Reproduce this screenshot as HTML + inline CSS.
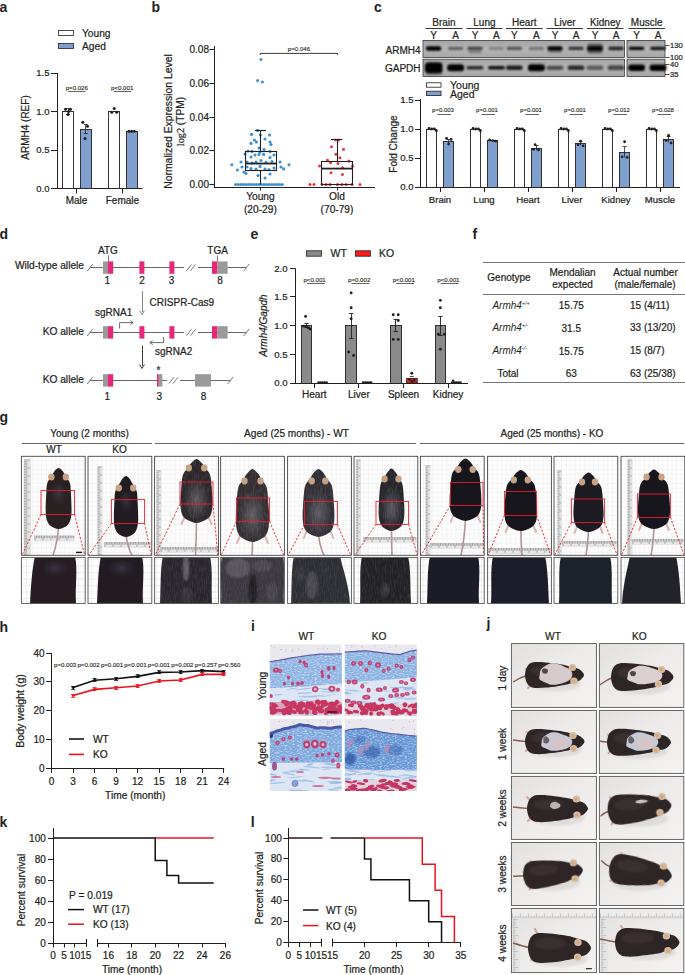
<!DOCTYPE html>
<html><head><meta charset="utf-8"><style>
html,body{margin:0;padding:0;background:#fff;}
svg{display:block;font-family:"Liberation Sans",sans-serif;}
</style></head><body>
<svg width="685" height="975" viewBox="0 0 685 975" fill="#231f20">
<defs>
<filter id="bl" x="-50%" y="-100%" width="200%" height="300%"><feGaussianBlur stdDeviation="0.9"/></filter>
<linearGradient id="blotg" x1="0" y1="0" x2="0" y2="1"><stop offset="0" stop-color="#a4a4a4"/><stop offset="0.5" stop-color="#b6b6b6"/><stop offset="1" stop-color="#a6a6a6"/></linearGradient>
<pattern id="grid" width="4.6" height="4.6" patternUnits="userSpaceOnUse"><rect width="4.6" height="4.6" fill="#fdfdfd"/><path d="M0 0.2H4.6M0.2 0V4.6" stroke="#e0e0e0" stroke-width="0.4"/></pattern>
<pattern id="grid2" width="6.5" height="6.5" patternUnits="userSpaceOnUse"><rect width="6.5" height="6.5" fill="#fdfdfd"/><path d="M0 0.2H6.5M0.2 0V6.5" stroke="#d6d6d6" stroke-width="0.5"/></pattern>
<pattern id="ruler" width="2" height="2" patternUnits="userSpaceOnUse"><rect width="2" height="2" fill="#e4e4e4"/><path d="M0 1H1.2" stroke="#9a9a9a" stroke-width="0.5"/></pattern>
<pattern id="rulerh" width="2" height="2" patternUnits="userSpaceOnUse"><rect width="2" height="2" fill="#e4e4e4"/><path d="M1 0V1.2" stroke="#9a9a9a" stroke-width="0.5"/></pattern>
<filter id="fb" x="-20%" y="-20%" width="140%" height="140%"><feGaussianBlur stdDeviation="0.5"/></filter>
<filter id="fuzz" x="-10%" y="-10%" width="120%" height="120%"><feTurbulence type="fractalNoise" baseFrequency="1.1" numOctaves="1" seed="4" result="n"/><feDisplacementMap in="SourceGraphic" in2="n" scale="1.4" xChannelSelector="R" yChannelSelector="G"/><feGaussianBlur stdDeviation="0.35"/></filter>
<filter id="fb2" x="-20%" y="-20%" width="140%" height="140%"><feGaussianBlur stdDeviation="1.2"/></filter>
<filter id="fur" x="0" y="0" width="100%" height="100%"><feTurbulence type="fractalNoise" baseFrequency="0.9 0.15" numOctaves="2" seed="3"/><feColorMatrix values="0 0 0 0 0.62  0 0 0 0 0.6  0 0 0 0 0.66  0 0 0 1.6 -0.65"/><feGaussianBlur stdDeviation="0.6"/><feComposite in2="SourceGraphic" operator="in"/></filter>
<radialGradient id="mfl" cx="0.5" cy="0.55" r="0.5"><stop offset="0" stop-color="#8a8690" stop-opacity="0.55"/><stop offset="0.6" stop-color="#6a6870" stop-opacity="0.3"/><stop offset="1" stop-color="#55545a" stop-opacity="0"/></radialGradient><radialGradient id="mfl2" cx="0.5" cy="0.4" r="0.5"><stop offset="0" stop-color="#4a5068" stop-opacity="0.45"/><stop offset="1" stop-color="#3a3f55" stop-opacity="0"/></radialGradient><clipPath id="gc0"><rect x="21.4" y="456.3" width="63.8" height="99"/></clipPath><clipPath id="gc1"><rect x="88" y="456.3" width="63.8" height="99"/></clipPath><clipPath id="gc2"><rect x="154.6" y="456.3" width="63.8" height="99"/></clipPath><clipPath id="gc3"><rect x="220.6" y="456.3" width="63.8" height="99"/></clipPath><clipPath id="gc4"><rect x="287.6" y="456.3" width="63.8" height="99"/></clipPath><clipPath id="gc5"><rect x="354" y="456.3" width="63.8" height="99"/></clipPath><clipPath id="gc6"><rect x="420.4" y="456.3" width="63.8" height="99"/></clipPath><clipPath id="gc7"><rect x="487.6" y="456.3" width="63.8" height="99"/></clipPath><clipPath id="gc8"><rect x="554" y="456.3" width="63.8" height="99"/></clipPath><clipPath id="gc9"><rect x="621" y="456.3" width="63.8" height="99"/></clipPath><clipPath id="gcc0"><rect x="21.4" y="557.4" width="63.8" height="46"/></clipPath><clipPath id="gcc1"><rect x="88" y="557.4" width="63.8" height="46"/></clipPath><clipPath id="gcc2"><rect x="154.6" y="557.4" width="63.8" height="46"/></clipPath><clipPath id="gcc3"><rect x="220.6" y="557.4" width="63.8" height="46"/></clipPath><clipPath id="gcc4"><rect x="287.6" y="557.4" width="63.8" height="46"/></clipPath><clipPath id="gcc5"><rect x="354" y="557.4" width="63.8" height="46"/></clipPath><clipPath id="gcc6"><rect x="420.4" y="557.4" width="63.8" height="46"/></clipPath><clipPath id="gcc7"><rect x="487.6" y="557.4" width="63.8" height="46"/></clipPath><clipPath id="gcc8"><rect x="554" y="557.4" width="63.8" height="46"/></clipPath><clipPath id="gcc9"><rect x="621" y="557.4" width="63.8" height="46"/></clipPath><filter id="tex" x="0" y="0" width="100%" height="100%"><feTurbulence type="fractalNoise" baseFrequency="0.4 0.9" numOctaves="2" seed="5"/><feColorMatrix values="0 0 0 0 1  0 0 0 0 1  0 0 0 0 1  0 0 0 2 -0.85"/><feComposite in2="SourceGraphic" operator="in"/></filter>
<filter id="tex2" x="0" y="0" width="100%" height="100%"><feTurbulence type="fractalNoise" baseFrequency="0.35 0.9" numOctaves="2" seed="9"/><feColorMatrix values="0 0 0 0 0.15  0 0 0 0 0.3  0 0 0 0 0.65  0 0 0 1.5 -0.55"/><feComposite in2="SourceGraphic" operator="in"/></filter>
<filter id="tex3" x="0" y="0" width="100%" height="100%"><feTurbulence type="fractalNoise" baseFrequency="0.5 0.9" numOctaves="2" seed="11"/><feColorMatrix values="0 0 0 0 1  0 0 0 0 1  0 0 0 0 1  0 0 0 2.2 -1.15"/><feComposite in2="SourceGraphic" operator="in"/></filter>
<filter id="hb" x="-10%" y="-10%" width="120%" height="120%"><feGaussianBlur stdDeviation="0.35"/></filter>
<linearGradient id="jbg" x1="0" y1="0" x2="1" y2="1"><stop offset="0" stop-color="#e3e1df"/><stop offset="0.45" stop-color="#ecebe9"/><stop offset="1" stop-color="#f4f3f2"/></linearGradient>
<clipPath id="hc1"><rect x="269.8" y="644.2" width="72" height="72"/></clipPath><clipPath id="hc2"><rect x="344.8" y="644.2" width="72" height="72"/></clipPath><clipPath id="hc3"><rect x="269.8" y="719" width="72" height="72"/></clipPath><clipPath id="hc4"><rect x="344.8" y="719" width="72" height="72"/></clipPath><clipPath id="jc511_643"><rect x="511.4" y="643.6" width="85" height="63.8"/></clipPath><clipPath id="jc599_643"><rect x="599.4" y="643.6" width="84.4" height="63.8"/></clipPath><clipPath id="jc511_710"><rect x="511.4" y="710.4" width="85" height="63"/></clipPath><clipPath id="jc599_710"><rect x="599.4" y="710.4" width="84.4" height="63"/></clipPath><clipPath id="jc511_776"><rect x="511.4" y="776.4" width="85" height="63"/></clipPath><clipPath id="jc599_776"><rect x="599.4" y="776.4" width="84.4" height="63"/></clipPath><clipPath id="jc511_842"><rect x="511.4" y="842.5" width="85" height="63"/></clipPath><clipPath id="jc599_842"><rect x="599.4" y="842.5" width="84.4" height="63"/></clipPath><clipPath id="jc511_908"><rect x="511.4" y="908.4" width="85" height="64.2"/></clipPath><clipPath id="jc599_908"><rect x="599.4" y="908.4" width="84.4" height="64.2"/></clipPath>
</defs>
<text x="-0.5" y="12" font-size="14" font-weight="bold">a</text>
<rect x="58.5" y="30.5" width="15" height="5" fill="#fff" stroke="#231f20" stroke-width="0.8" />
<text x="82" y="37" font-size="10.2" stroke="#231f20" stroke-width="0.22">Young</text>
<rect x="58.5" y="43.5" width="15" height="5" fill="#7f9fcf" stroke="#231f20" stroke-width="0.8" />
<text x="82" y="49.8" font-size="10.2" stroke="#231f20" stroke-width="0.22">Aged</text>
<line x1="57.5" y1="73" x2="57.5" y2="189" stroke="#231f20" stroke-width="1" />
<line x1="56.5" y1="188.5" x2="142.6" y2="188.5" stroke="#231f20" stroke-width="1" />
<line x1="51" y1="188.5" x2="57" y2="188.5" stroke="#231f20" stroke-width="1" />
<text x="49.5" y="191.8" font-size="9.5" text-anchor="end" stroke="#231f20" stroke-width="0.22">0.0</text>
<line x1="51" y1="150.5" x2="57" y2="150.5" stroke="#231f20" stroke-width="1" />
<text x="49.5" y="153.3" font-size="9.5" text-anchor="end" stroke="#231f20" stroke-width="0.22">0.5</text>
<line x1="51" y1="111.5" x2="57" y2="111.5" stroke="#231f20" stroke-width="1" />
<text x="49.5" y="114.8" font-size="9.5" text-anchor="end" stroke="#231f20" stroke-width="0.22">1.0</text>
<line x1="51" y1="73.5" x2="57" y2="73.5" stroke="#231f20" stroke-width="1" />
<text x="49.5" y="76.3" font-size="9.5" text-anchor="end" stroke="#231f20" stroke-width="0.22">1.5</text>
<line x1="76.5" y1="188.5" x2="76.5" y2="193.5" stroke="#231f20" stroke-width="1" />
<text x="76.5" y="204.3" font-size="10" text-anchor="middle" stroke="#231f20" stroke-width="0.22">Male</text>
<line x1="122.5" y1="188.5" x2="122.5" y2="193.5" stroke="#231f20" stroke-width="1" />
<text x="122.4" y="204.3" font-size="10" text-anchor="middle" stroke="#231f20" stroke-width="0.22">Female</text>
<rect x="62.5" y="111.5" width="11" height="77" fill="#fff" stroke="#231f20" stroke-width="0.9" />
<rect x="80.5" y="129.5" width="11" height="59" fill="#7f9fcf" stroke="#231f20" stroke-width="0.9" />
<rect x="108.5" y="111.5" width="11" height="77" fill="#fff" stroke="#231f20" stroke-width="0.9" />
<rect x="126.5" y="131.5" width="11" height="57" fill="#7f9fcf" stroke="#231f20" stroke-width="0.9" />
<line x1="68.5" y1="108.42" x2="68.5" y2="114.58" stroke="#231f20" stroke-width="0.8" />
<line x1="66" y1="108.5" x2="70" y2="108.5" stroke="#231f20" stroke-width="0.8" />
<line x1="66" y1="114.5" x2="70" y2="114.5" stroke="#231f20" stroke-width="0.8" />
<circle cx="65.5" cy="109.19" r="1.5" fill="#231f20" />
<circle cx="70.5" cy="109.19" r="1.5" fill="#231f20" />
<circle cx="68" cy="114.58" r="1.5" fill="#231f20" />
<circle cx="68.5" cy="111.5" r="1.5" fill="#231f20" />
<line x1="85.5" y1="124.59" x2="85.5" y2="133.83" stroke="#231f20" stroke-width="0.8" />
<line x1="83.8" y1="124.5" x2="87.8" y2="124.5" stroke="#231f20" stroke-width="0.8" />
<line x1="83.8" y1="133.5" x2="87.8" y2="133.5" stroke="#231f20" stroke-width="0.8" />
<circle cx="82.8" cy="122.28" r="1.5" fill="#231f20" />
<circle cx="87.5" cy="126.13" r="1.5" fill="#231f20" />
<circle cx="85" cy="138.45" r="1.5" fill="#231f20" />
<circle cx="111.7" cy="112.27" r="1.5" fill="#231f20" />
<circle cx="114.2" cy="108.42" r="1.5" fill="#231f20" />
<circle cx="116.7" cy="112.27" r="1.5" fill="#231f20" />
<circle cx="128.9" cy="131.13" r="1.5" fill="#231f20" />
<circle cx="131.6" cy="131.13" r="1.5" fill="#231f20" />
<circle cx="134.3" cy="131.13" r="1.5" fill="#231f20" />
<text x="76.8" y="89.9" font-size="6.1" text-anchor="middle" stroke="#231f20" stroke-width="0.12">p=0.026</text>
<line x1="68" y1="91.5" x2="85.4" y2="91.5" stroke="#231f20" stroke-width="0.7" />
<text x="122.2" y="89.9" font-size="6.1" text-anchor="middle" stroke="#231f20" stroke-width="0.12">p&lt;0.001</text>
<line x1="113.5" y1="91.5" x2="131" y2="91.5" stroke="#231f20" stroke-width="0.7" />
<text x="28.5" y="127.5" font-size="10" text-anchor="middle" transform="rotate(-90 28.5 127.5)" stroke="#231f20" stroke-width="0.22">ARMH4 (REF)</text>
<text x="151.5" y="12" font-size="14" font-weight="bold">b</text>
<line x1="214.5" y1="46" x2="214.5" y2="187.5" stroke="#231f20" stroke-width="1" />
<line x1="213.9" y1="187.5" x2="375" y2="187.5" stroke="#231f20" stroke-width="1" />
<line x1="209.4" y1="184.5" x2="214.4" y2="184.5" stroke="#231f20" stroke-width="1" />
<text x="209" y="188.1" font-size="10" text-anchor="end" stroke="#231f20" stroke-width="0.22">0.00</text>
<line x1="209.4" y1="150.5" x2="214.4" y2="150.5" stroke="#231f20" stroke-width="1" />
<text x="209" y="154.4" font-size="10" text-anchor="end" stroke="#231f20" stroke-width="0.22">0.02</text>
<line x1="209.4" y1="117.5" x2="214.4" y2="117.5" stroke="#231f20" stroke-width="1" />
<text x="209" y="120.7" font-size="10" text-anchor="end" stroke="#231f20" stroke-width="0.22">0.04</text>
<line x1="209.4" y1="83.5" x2="214.4" y2="83.5" stroke="#231f20" stroke-width="1" />
<text x="209" y="87" font-size="10" text-anchor="end" stroke="#231f20" stroke-width="0.22">0.06</text>
<line x1="209.4" y1="49.5" x2="214.4" y2="49.5" stroke="#231f20" stroke-width="1" />
<text x="209" y="53.3" font-size="10" text-anchor="end" stroke="#231f20" stroke-width="0.22">0.08</text>
<text x="171.5" y="121.5" font-size="10.4" text-anchor="middle" transform="rotate(-90 171.5 121.5)" stroke="#231f20" stroke-width="0.22">Normalized Expression Level</text>
<text x="184" y="121.5" font-size="10.2" text-anchor="middle" transform="rotate(-90 184 121.5)" stroke="#231f20" stroke-width="0.22"><tspan font-family="Liberation Serif">log2</tspan> (TPM)</text>
<line x1="260.5" y1="187" x2="260.5" y2="190.5" stroke="#231f20" stroke-width="1" />
<text x="260.4" y="200.3" font-size="10.2" text-anchor="middle" stroke="#231f20" stroke-width="0.22">Young</text>
<text x="260.4" y="212.5" font-size="10.2" text-anchor="middle" stroke="#231f20" stroke-width="0.22">(20-29)</text>
<line x1="337.5" y1="187" x2="337.5" y2="190.5" stroke="#231f20" stroke-width="1" />
<text x="337" y="200.3" font-size="10.2" text-anchor="middle" stroke="#231f20" stroke-width="0.22">Old</text>
<text x="337" y="212.5" font-size="10.2" text-anchor="middle" stroke="#231f20" stroke-width="0.22">(70-79)</text>
<path d="M260.2 55 L260.2 53.4 L337.4 53.4 L337.4 55" fill="none" stroke="#231f20" stroke-width="0.9" />
<text x="299" y="50.6" font-size="6.15" text-anchor="middle" stroke="#231f20" stroke-width="0.12">p=0.046</text>
<circle cx="235.5" cy="184.6" r="1.5" fill="#3a8fd0" />
<circle cx="238.1" cy="184.6" r="1.5" fill="#3a8fd0" />
<circle cx="240.7" cy="184.6" r="1.5" fill="#3a8fd0" />
<circle cx="243.3" cy="184.6" r="1.5" fill="#3a8fd0" />
<circle cx="245.9" cy="184.6" r="1.5" fill="#3a8fd0" />
<circle cx="248.5" cy="184.6" r="1.5" fill="#3a8fd0" />
<circle cx="251.1" cy="184.6" r="1.5" fill="#3a8fd0" />
<circle cx="253.7" cy="184.6" r="1.5" fill="#3a8fd0" />
<circle cx="256.3" cy="184.6" r="1.5" fill="#3a8fd0" />
<circle cx="258.9" cy="184.6" r="1.5" fill="#3a8fd0" />
<circle cx="261.5" cy="184.6" r="1.5" fill="#3a8fd0" />
<circle cx="264.1" cy="184.6" r="1.5" fill="#3a8fd0" />
<circle cx="266.7" cy="184.6" r="1.5" fill="#3a8fd0" />
<circle cx="269.3" cy="184.6" r="1.5" fill="#3a8fd0" />
<circle cx="271.9" cy="184.6" r="1.5" fill="#3a8fd0" />
<circle cx="274.5" cy="184.6" r="1.5" fill="#3a8fd0" />
<circle cx="277.1" cy="184.6" r="1.5" fill="#3a8fd0" />
<circle cx="279.7" cy="184.6" r="1.5" fill="#3a8fd0" />
<circle cx="282.3" cy="184.6" r="1.5" fill="#3a8fd0" />
<circle cx="251.6" cy="134.4" r="1.55" fill="#3a8fd0" />
<circle cx="257.6" cy="130.4" r="1.55" fill="#3a8fd0" />
<circle cx="260.4" cy="135" r="1.55" fill="#3a8fd0" />
<circle cx="269.6" cy="135" r="1.55" fill="#3a8fd0" />
<circle cx="251" cy="143.4" r="1.55" fill="#3a8fd0" />
<circle cx="254.4" cy="140" r="1.55" fill="#3a8fd0" />
<circle cx="256.4" cy="142" r="1.55" fill="#3a8fd0" />
<circle cx="265" cy="139" r="1.55" fill="#3a8fd0" />
<circle cx="270" cy="142" r="1.55" fill="#3a8fd0" />
<circle cx="271" cy="144.5" r="1.55" fill="#3a8fd0" />
<circle cx="259" cy="148" r="1.55" fill="#3a8fd0" />
<circle cx="264" cy="149.4" r="1.55" fill="#3a8fd0" />
<circle cx="248" cy="151" r="1.55" fill="#3a8fd0" />
<circle cx="252" cy="151.4" r="1.55" fill="#3a8fd0" />
<circle cx="260" cy="152" r="1.55" fill="#3a8fd0" />
<circle cx="270" cy="151.6" r="1.55" fill="#3a8fd0" />
<circle cx="245" cy="154" r="1.55" fill="#3a8fd0" />
<circle cx="251" cy="157" r="1.55" fill="#3a8fd0" />
<circle cx="255" cy="155" r="1.55" fill="#3a8fd0" />
<circle cx="259" cy="154.4" r="1.55" fill="#3a8fd0" />
<circle cx="263.6" cy="154.4" r="1.55" fill="#3a8fd0" />
<circle cx="270" cy="157.6" r="1.55" fill="#3a8fd0" />
<circle cx="274" cy="155" r="1.55" fill="#3a8fd0" />
<circle cx="241" cy="162" r="1.55" fill="#3a8fd0" />
<circle cx="247" cy="162" r="1.55" fill="#3a8fd0" />
<circle cx="252" cy="163" r="1.55" fill="#3a8fd0" />
<circle cx="256" cy="162" r="1.55" fill="#3a8fd0" />
<circle cx="261" cy="160.5" r="1.55" fill="#3a8fd0" />
<circle cx="266" cy="162.4" r="1.55" fill="#3a8fd0" />
<circle cx="272" cy="161.6" r="1.55" fill="#3a8fd0" />
<circle cx="280" cy="162" r="1.55" fill="#3a8fd0" />
<circle cx="242" cy="167" r="1.55" fill="#3a8fd0" />
<circle cx="247" cy="167" r="1.55" fill="#3a8fd0" />
<circle cx="251" cy="168.6" r="1.55" fill="#3a8fd0" />
<circle cx="256" cy="169" r="1.55" fill="#3a8fd0" />
<circle cx="260" cy="166.4" r="1.55" fill="#3a8fd0" />
<circle cx="265" cy="169" r="1.55" fill="#3a8fd0" />
<circle cx="269" cy="169.6" r="1.55" fill="#3a8fd0" />
<circle cx="274" cy="168" r="1.55" fill="#3a8fd0" />
<circle cx="281" cy="167" r="1.55" fill="#3a8fd0" />
<circle cx="283.7" cy="168.9" r="1.55" fill="#3a8fd0" />
<circle cx="289" cy="164.7" r="1.55" fill="#3a8fd0" />
<circle cx="231.8" cy="164.7" r="1.55" fill="#3a8fd0" />
<circle cx="237.4" cy="170" r="1.55" fill="#3a8fd0" />
<circle cx="244" cy="172" r="1.55" fill="#3a8fd0" />
<circle cx="246" cy="173.5" r="1.55" fill="#3a8fd0" />
<circle cx="265" cy="178" r="1.55" fill="#3a8fd0" />
<circle cx="258" cy="175.5" r="1.55" fill="#3a8fd0" />
<circle cx="270" cy="174" r="1.55" fill="#3a8fd0" />
<circle cx="261" cy="59.4" r="1.5" fill="#3a8fd0" />
<circle cx="257.6" cy="80.6" r="1.5" fill="#3a8fd0" />
<circle cx="262.4" cy="82" r="1.5" fill="#3a8fd0" />
<rect x="245.5" y="151.5" width="31" height="19" fill="none" stroke="#231f20" stroke-width="1.1" />
<line x1="245" y1="163.54" x2="276" y2="163.54" stroke="#231f20" stroke-width="1.8" />
<line x1="260.5" y1="170.95" x2="260.5" y2="184.6" stroke="#231f20" stroke-width="1.1" />
<line x1="260.5" y1="151.07" x2="260.5" y2="130.68" stroke="#231f20" stroke-width="1.1" />
<line x1="255" y1="130.5" x2="266" y2="130.5" stroke="#231f20" stroke-width="1.1" />
<circle cx="310" cy="184.6" r="1.5" fill="#e8383d" />
<circle cx="314" cy="184.6" r="1.5" fill="#e8383d" />
<circle cx="322" cy="184.6" r="1.5" fill="#e8383d" />
<circle cx="326" cy="184.6" r="1.5" fill="#e8383d" />
<circle cx="330" cy="184.6" r="1.5" fill="#e8383d" />
<circle cx="337.5" cy="184.6" r="1.5" fill="#e8383d" />
<circle cx="342" cy="184.6" r="1.5" fill="#e8383d" />
<circle cx="346" cy="184.6" r="1.5" fill="#e8383d" />
<circle cx="352" cy="184.6" r="1.5" fill="#e8383d" />
<circle cx="360" cy="184.6" r="1.5" fill="#e8383d" />
<circle cx="335.5" cy="139.95" r="1.5" fill="#e8383d" />
<circle cx="338.5" cy="139.95" r="1.5" fill="#e8383d" />
<circle cx="331.5" cy="146.69" r="1.5" fill="#e8383d" />
<circle cx="343.5" cy="149.21" r="1.5" fill="#e8383d" />
<circle cx="336" cy="154.27" r="1.5" fill="#e8383d" />
<circle cx="340" cy="157.64" r="1.5" fill="#e8383d" />
<circle cx="327.5" cy="160.17" r="1.5" fill="#e8383d" />
<circle cx="330.5" cy="162.69" r="1.5" fill="#e8383d" />
<circle cx="338" cy="163.54" r="1.5" fill="#e8383d" />
<circle cx="349" cy="161.01" r="1.5" fill="#e8383d" />
<circle cx="319.5" cy="166.06" r="1.5" fill="#e8383d" />
<circle cx="352.5" cy="166.06" r="1.5" fill="#e8383d" />
<circle cx="342.5" cy="167.75" r="1.5" fill="#e8383d" />
<circle cx="331" cy="172.81" r="1.5" fill="#e8383d" />
<circle cx="342.5" cy="174.49" r="1.5" fill="#e8383d" />
<rect x="321.5" y="161.5" width="31" height="23" fill="none" stroke="#231f20" stroke-width="1.1" />
<line x1="321.4" y1="168.59" x2="352.6" y2="168.59" stroke="#231f20" stroke-width="1.8" />
<line x1="337.5" y1="161.35" x2="337.5" y2="139.95" stroke="#231f20" stroke-width="1.1" />
<line x1="331" y1="139.5" x2="342.4" y2="139.5" stroke="#231f20" stroke-width="1.1" />
<text x="374" y="12" font-size="14" font-weight="bold">c</text>
<text x="444" y="25.8" font-size="10" text-anchor="middle" stroke="#231f20" stroke-width="0.22">Brain</text>
<line x1="425.6" y1="28.5" x2="462.4" y2="28.5" stroke="#231f20" stroke-width="0.9" />
<text x="484.4" y="25.8" font-size="10" text-anchor="middle" stroke="#231f20" stroke-width="0.22">Lung</text>
<line x1="466.4" y1="28.5" x2="502.4" y2="28.5" stroke="#231f20" stroke-width="0.9" />
<text x="524.3" y="25.8" font-size="10" text-anchor="middle" stroke="#231f20" stroke-width="0.22">Heart</text>
<line x1="506" y1="28.5" x2="542.6" y2="28.5" stroke="#231f20" stroke-width="0.9" />
<text x="564.8" y="25.8" font-size="10" text-anchor="middle" stroke="#231f20" stroke-width="0.22">Liver</text>
<line x1="546.6" y1="28.5" x2="583" y2="28.5" stroke="#231f20" stroke-width="0.9" />
<text x="605.2" y="25.8" font-size="10" text-anchor="middle" stroke="#231f20" stroke-width="0.22">Kidney</text>
<line x1="587" y1="28.5" x2="623.4" y2="28.5" stroke="#231f20" stroke-width="0.9" />
<text x="646.7" y="25.8" font-size="10" text-anchor="middle" stroke="#231f20" stroke-width="0.22">Muscle</text>
<line x1="628.4" y1="28.5" x2="665" y2="28.5" stroke="#231f20" stroke-width="0.9" />
<text x="433.6" y="39.3" font-size="10" text-anchor="middle" stroke="#231f20" stroke-width="0.22">Y</text>
<text x="455.6" y="39.3" font-size="10" text-anchor="middle" stroke="#231f20" stroke-width="0.22">A</text>
<text x="475" y="39.3" font-size="10" text-anchor="middle" stroke="#231f20" stroke-width="0.22">Y</text>
<text x="496.4" y="39.3" font-size="10" text-anchor="middle" stroke="#231f20" stroke-width="0.22">A</text>
<text x="514.4" y="39.3" font-size="10" text-anchor="middle" stroke="#231f20" stroke-width="0.22">Y</text>
<text x="536.4" y="39.3" font-size="10" text-anchor="middle" stroke="#231f20" stroke-width="0.22">A</text>
<text x="555" y="39.3" font-size="10" text-anchor="middle" stroke="#231f20" stroke-width="0.22">Y</text>
<text x="576" y="39.3" font-size="10" text-anchor="middle" stroke="#231f20" stroke-width="0.22">A</text>
<text x="595" y="39.3" font-size="10" text-anchor="middle" stroke="#231f20" stroke-width="0.22">Y</text>
<text x="616" y="39.3" font-size="10" text-anchor="middle" stroke="#231f20" stroke-width="0.22">A</text>
<text x="636.6" y="39.3" font-size="10" text-anchor="middle" stroke="#231f20" stroke-width="0.22">Y</text>
<text x="658" y="39.3" font-size="10" text-anchor="middle" stroke="#231f20" stroke-width="0.22">A</text>
<text x="420.5" y="53.6" font-size="10" text-anchor="end" stroke="#231f20" stroke-width="0.22">ARMH4</text>
<text x="420.5" y="71.8" font-size="10" text-anchor="end" stroke="#231f20" stroke-width="0.22">GAPDH</text>
<rect x="423" y="40.5" width="201.4" height="17" fill="url(#blotg)" stroke="#3a3a3a" stroke-width="0.8" />
<rect x="423" y="59.2" width="201.4" height="17.2" fill="url(#blotg)" stroke="#3a3a3a" stroke-width="0.8" />
<rect x="627" y="40.5" width="38" height="17" fill="url(#blotg)" stroke="#3a3a3a" stroke-width="0.8" />
<rect x="627" y="59.2" width="38" height="17.2" fill="url(#blotg)" stroke="#3a3a3a" stroke-width="0.8" />
<rect x="425.85" y="46.15" width="15.5" height="4.5" rx="2.25" fill="#000" fill-opacity="1" filter="url(#bl)"/>
<rect x="447.85" y="46.9" width="15.5" height="3" rx="1.5" fill="#000" fill-opacity="0.5" filter="url(#bl)"/>
<rect x="467.25" y="46.7" width="15.5" height="3.4" rx="1.7" fill="#000" fill-opacity="0.65" filter="url(#bl)"/>
<rect x="488.65" y="47.1" width="15.5" height="2.6" rx="1.3" fill="#000" fill-opacity="0.3" filter="url(#bl)"/>
<rect x="506.65" y="46.7" width="15.5" height="3.4" rx="1.7" fill="#000" fill-opacity="0.55" filter="url(#bl)"/>
<rect x="528.65" y="46.9" width="15.5" height="3" rx="1.5" fill="#000" fill-opacity="0.38" filter="url(#bl)"/>
<rect x="547.25" y="46.15" width="15.5" height="4.5" rx="2.25" fill="#000" fill-opacity="1" filter="url(#bl)"/>
<rect x="568.25" y="46.7" width="15.5" height="3.4" rx="1.7" fill="#000" fill-opacity="0.75" filter="url(#bl)"/>
<rect x="587.25" y="46.15" width="15.5" height="4.5" rx="2.25" fill="#000" fill-opacity="1" filter="url(#bl)"/>
<rect x="608.25" y="46.6" width="15.5" height="3.6" rx="1.8" fill="#000" fill-opacity="0.8" filter="url(#bl)"/>
<rect x="628.85" y="46.8" width="15.5" height="3.2" rx="1.6" fill="#000" fill-opacity="1" filter="url(#bl)"/>
<rect x="650.25" y="46.8" width="15.5" height="3.2" rx="1.6" fill="#000" fill-opacity="0.92" filter="url(#bl)"/>
<rect x="587" y="43.5" width="16" height="10" rx="3" fill="#000" fill-opacity="0.45" filter="url(#bl)"/>
<rect x="468.5" y="50.55" width="13" height="2.5" rx="1.25" fill="#000" fill-opacity="0.35" filter="url(#bl)"/>
<rect x="548" y="50.5" width="14" height="2.2" rx="1.1" fill="#000" fill-opacity="0.3" filter="url(#bl)"/>
<rect x="425.1" y="62.8" width="17" height="10" rx="3" fill="#000" fill-opacity="1" filter="url(#bl)"/>
<rect x="447.1" y="64.3" width="17" height="7" rx="3" fill="#000" fill-opacity="1" filter="url(#bl)"/>
<rect x="466.5" y="66.1" width="17" height="3.4" rx="1.7" fill="#000" fill-opacity="0.8" filter="url(#bl)"/>
<rect x="487.9" y="66" width="17" height="3.6" rx="1.8" fill="#000" fill-opacity="0.95" filter="url(#bl)"/>
<rect x="505.9" y="65.5" width="17" height="4.6" rx="2.3" fill="#000" fill-opacity="0.85" filter="url(#bl)"/>
<rect x="527.9" y="64.3" width="17" height="7" rx="3" fill="#000" fill-opacity="1" filter="url(#bl)"/>
<rect x="546.5" y="65.7" width="17" height="4.2" rx="2.1" fill="#000" fill-opacity="0.6" filter="url(#bl)"/>
<rect x="567.5" y="65.5" width="17" height="4.6" rx="2.3" fill="#000" fill-opacity="0.8" filter="url(#bl)"/>
<rect x="586.5" y="65.5" width="17" height="4.6" rx="2.3" fill="#000" fill-opacity="0.5" filter="url(#bl)"/>
<rect x="607.5" y="65.3" width="17" height="5" rx="2.5" fill="#000" fill-opacity="0.6" filter="url(#bl)"/>
<rect x="628.1" y="64.55" width="17" height="6.5" rx="3" fill="#000" fill-opacity="1" filter="url(#bl)"/>
<rect x="649.5" y="64.55" width="17" height="6.5" rx="3" fill="#000" fill-opacity="1" filter="url(#bl)"/>
<rect x="425.5" y="62.5" width="17" height="12" rx="3" fill="#000" fill-opacity="0.5" filter="url(#bl)"/>
<line x1="665" y1="45.5" x2="669.5" y2="45.5" stroke="#231f20" stroke-width="0.8" />
<text x="670" y="48.3" font-size="7.6" stroke="#231f20" stroke-width="0.22">130</text>
<line x1="665" y1="57.5" x2="669.5" y2="57.5" stroke="#231f20" stroke-width="0.8" />
<text x="670" y="59.9" font-size="7.6" stroke="#231f20" stroke-width="0.22">100</text>
<line x1="665" y1="64.5" x2="669.5" y2="64.5" stroke="#231f20" stroke-width="0.8" />
<text x="670" y="66.7" font-size="7.6" stroke="#231f20" stroke-width="0.22">40</text>
<line x1="665" y1="74.5" x2="669.5" y2="74.5" stroke="#231f20" stroke-width="0.8" />
<text x="670" y="77.1" font-size="7.6" stroke="#231f20" stroke-width="0.22">35</text>
<rect x="426.5" y="82.8" width="14.5" height="4.4" fill="#fff" stroke="#231f20" stroke-width="0.8" />
<text x="450" y="88.6" font-size="10.5" stroke="#231f20" stroke-width="0.22">Young</text>
<rect x="426.5" y="91.2" width="14.5" height="4.4" fill="#7f9fcf" stroke="#231f20" stroke-width="0.8" />
<text x="450" y="98.3" font-size="10.5" stroke="#231f20" stroke-width="0.22">Aged</text>
<line x1="420.5" y1="99" x2="420.5" y2="187.5" stroke="#231f20" stroke-width="1" />
<line x1="419.5" y1="187.5" x2="680" y2="187.5" stroke="#231f20" stroke-width="1" />
<line x1="415" y1="187.5" x2="420" y2="187.5" stroke="#231f20" stroke-width="1" />
<text x="413.5" y="190.4" font-size="9.6" text-anchor="end" stroke="#231f20" stroke-width="0.22">0.0</text>
<line x1="415" y1="158.5" x2="420" y2="158.5" stroke="#231f20" stroke-width="1" />
<text x="413.5" y="161.4" font-size="9.6" text-anchor="end" stroke="#231f20" stroke-width="0.22">0.5</text>
<line x1="415" y1="129.5" x2="420" y2="129.5" stroke="#231f20" stroke-width="1" />
<text x="413.5" y="132.4" font-size="9.6" text-anchor="end" stroke="#231f20" stroke-width="0.22">1.0</text>
<line x1="415" y1="100.5" x2="420" y2="100.5" stroke="#231f20" stroke-width="1" />
<text x="413.5" y="103.4" font-size="9.6" text-anchor="end" stroke="#231f20" stroke-width="0.22">1.5</text>
<text x="397" y="144" font-size="10" text-anchor="middle" transform="rotate(-90 397 144)" stroke="#231f20" stroke-width="0.22">Fold Change</text>
<rect x="426.5" y="129.5" width="10" height="58" fill="#fff" stroke="#231f20" stroke-width="0.9" />
<rect x="443.5" y="141.5" width="10" height="46" fill="#7f9fcf" stroke="#231f20" stroke-width="0.9" />
<line x1="440.5" y1="187" x2="440.5" y2="192" stroke="#231f20" stroke-width="1" />
<text x="440" y="203" font-size="9.6" text-anchor="middle" stroke="#231f20" stroke-width="0.22">Brain</text>
<text x="443" y="112" font-size="6" text-anchor="middle" stroke="#231f20" stroke-width="0.12">p=0.003</text>
<line x1="437.3" y1="114.5" x2="451" y2="114.5" stroke="#231f20" stroke-width="0.7" />
<circle cx="429" cy="128.42" r="1.4" fill="#231f20" />
<circle cx="431.7" cy="129" r="1.4" fill="#231f20" />
<circle cx="434.4" cy="129" r="1.4" fill="#231f20" />
<circle cx="436.4" cy="130.74" r="1.4" fill="#231f20" />
<line x1="448.5" y1="139.44" x2="448.5" y2="142.92" stroke="#231f20" stroke-width="0.8" />
<line x1="446.6" y1="139.5" x2="450.6" y2="139.5" stroke="#231f20" stroke-width="0.8" />
<rect x="470.5" y="129.5" width="10" height="58" fill="#fff" stroke="#231f20" stroke-width="0.9" />
<rect x="487.5" y="140.5" width="10" height="47" fill="#7f9fcf" stroke="#231f20" stroke-width="0.9" />
<line x1="484.5" y1="187" x2="484.5" y2="192" stroke="#231f20" stroke-width="1" />
<text x="484" y="203" font-size="9.6" text-anchor="middle" stroke="#231f20" stroke-width="0.22">Lung</text>
<text x="487" y="112" font-size="6" text-anchor="middle" stroke="#231f20" stroke-width="0.12">p=0.001</text>
<line x1="481.3" y1="114.5" x2="495" y2="114.5" stroke="#231f20" stroke-width="0.7" />
<circle cx="473" cy="128.42" r="1.4" fill="#231f20" />
<circle cx="475.7" cy="129" r="1.4" fill="#231f20" />
<circle cx="478.4" cy="129" r="1.4" fill="#231f20" />
<circle cx="480.4" cy="130.74" r="1.4" fill="#231f20" />
<line x1="492.5" y1="140.02" x2="492.5" y2="141.18" stroke="#231f20" stroke-width="0.8" />
<line x1="490.6" y1="140.5" x2="494.6" y2="140.5" stroke="#231f20" stroke-width="0.8" />
<rect x="514.5" y="129.5" width="10" height="58" fill="#fff" stroke="#231f20" stroke-width="0.9" />
<rect x="531.5" y="148.5" width="10" height="39" fill="#7f9fcf" stroke="#231f20" stroke-width="0.9" />
<line x1="528.5" y1="187" x2="528.5" y2="192" stroke="#231f20" stroke-width="1" />
<text x="528" y="203" font-size="9.6" text-anchor="middle" stroke="#231f20" stroke-width="0.22">Heart</text>
<text x="531" y="112" font-size="6" text-anchor="middle" stroke="#231f20" stroke-width="0.12">p=0.001</text>
<line x1="525.3" y1="114.5" x2="539" y2="114.5" stroke="#231f20" stroke-width="0.7" />
<circle cx="517" cy="128.42" r="1.4" fill="#231f20" />
<circle cx="519.7" cy="129" r="1.4" fill="#231f20" />
<circle cx="522.4" cy="129" r="1.4" fill="#231f20" />
<circle cx="524.4" cy="130.74" r="1.4" fill="#231f20" />
<line x1="536.5" y1="145.82" x2="536.5" y2="150.46" stroke="#231f20" stroke-width="0.8" />
<line x1="534.6" y1="145.5" x2="538.6" y2="145.5" stroke="#231f20" stroke-width="0.8" />
<rect x="558.5" y="129.5" width="10" height="58" fill="#fff" stroke="#231f20" stroke-width="0.9" />
<rect x="575.5" y="143.5" width="10" height="44" fill="#7f9fcf" stroke="#231f20" stroke-width="0.9" />
<line x1="572.5" y1="187" x2="572.5" y2="192" stroke="#231f20" stroke-width="1" />
<text x="572" y="203" font-size="9.6" text-anchor="middle" stroke="#231f20" stroke-width="0.22">Liver</text>
<text x="575" y="112" font-size="6" text-anchor="middle" stroke="#231f20" stroke-width="0.12">p=0.001</text>
<line x1="569.3" y1="114.5" x2="583" y2="114.5" stroke="#231f20" stroke-width="0.7" />
<circle cx="561" cy="128.42" r="1.4" fill="#231f20" />
<circle cx="563.7" cy="129" r="1.4" fill="#231f20" />
<circle cx="566.4" cy="129" r="1.4" fill="#231f20" />
<circle cx="568.4" cy="130.74" r="1.4" fill="#231f20" />
<line x1="580.5" y1="141.76" x2="580.5" y2="145.24" stroke="#231f20" stroke-width="0.8" />
<line x1="578.6" y1="141.5" x2="582.6" y2="141.5" stroke="#231f20" stroke-width="0.8" />
<rect x="602.5" y="129.5" width="10" height="58" fill="#fff" stroke="#231f20" stroke-width="0.9" />
<rect x="619.5" y="152.5" width="10" height="35" fill="#7f9fcf" stroke="#231f20" stroke-width="0.9" />
<line x1="616.5" y1="187" x2="616.5" y2="192" stroke="#231f20" stroke-width="1" />
<text x="616" y="203" font-size="9.6" text-anchor="middle" stroke="#231f20" stroke-width="0.22">Kidney</text>
<text x="619" y="112" font-size="6" text-anchor="middle" stroke="#231f20" stroke-width="0.12">p=0.012</text>
<line x1="613.3" y1="114.5" x2="627" y2="114.5" stroke="#231f20" stroke-width="0.7" />
<circle cx="605" cy="128.42" r="1.4" fill="#231f20" />
<circle cx="607.7" cy="129" r="1.4" fill="#231f20" />
<circle cx="610.4" cy="129" r="1.4" fill="#231f20" />
<circle cx="612.4" cy="130.74" r="1.4" fill="#231f20" />
<line x1="624.5" y1="146.98" x2="624.5" y2="157.42" stroke="#231f20" stroke-width="0.8" />
<line x1="622.6" y1="146.5" x2="626.6" y2="146.5" stroke="#231f20" stroke-width="0.8" />
<rect x="646.5" y="129.5" width="10" height="58" fill="#fff" stroke="#231f20" stroke-width="0.9" />
<rect x="663.5" y="139.5" width="10" height="48" fill="#7f9fcf" stroke="#231f20" stroke-width="0.9" />
<line x1="660.5" y1="187" x2="660.5" y2="192" stroke="#231f20" stroke-width="1" />
<text x="660" y="203" font-size="9.6" text-anchor="middle" stroke="#231f20" stroke-width="0.22">Muscle</text>
<text x="663" y="112" font-size="6" text-anchor="middle" stroke="#231f20" stroke-width="0.12">p=0.028</text>
<line x1="657.3" y1="114.5" x2="671" y2="114.5" stroke="#231f20" stroke-width="0.7" />
<circle cx="649" cy="128.42" r="1.4" fill="#231f20" />
<circle cx="651.7" cy="129" r="1.4" fill="#231f20" />
<circle cx="654.4" cy="129" r="1.4" fill="#231f20" />
<circle cx="656.4" cy="130.74" r="1.4" fill="#231f20" />
<line x1="668.5" y1="136.54" x2="668.5" y2="142.34" stroke="#231f20" stroke-width="0.8" />
<line x1="666.6" y1="136.5" x2="670.6" y2="136.5" stroke="#231f20" stroke-width="0.8" />
<circle cx="446.6" cy="138.28" r="1.4" fill="#231f20" />
<circle cx="451.1" cy="139.44" r="1.4" fill="#231f20" />
<circle cx="448.6" cy="144.08" r="1.4" fill="#231f20" />
<circle cx="489.6" cy="140.02" r="1.4" fill="#231f20" />
<circle cx="492.6" cy="140.6" r="1.4" fill="#231f20" />
<circle cx="495.6" cy="141.18" r="1.4" fill="#231f20" />
<circle cx="535.1" cy="144.66" r="1.4" fill="#231f20" />
<circle cx="533.6" cy="149.3" r="1.4" fill="#231f20" />
<circle cx="538.6" cy="149.88" r="1.4" fill="#231f20" />
<circle cx="580.6" cy="141.18" r="1.4" fill="#231f20" />
<circle cx="578.1" cy="144.66" r="1.4" fill="#231f20" />
<circle cx="583.1" cy="145.82" r="1.4" fill="#231f20" />
<circle cx="624.6" cy="141.76" r="1.4" fill="#231f20" />
<circle cx="622.1" cy="156.84" r="1.4" fill="#231f20" />
<circle cx="627.1" cy="157.42" r="1.4" fill="#231f20" />
<circle cx="668.6" cy="135.38" r="1.4" fill="#231f20" />
<circle cx="666.1" cy="140.6" r="1.4" fill="#231f20" />
<circle cx="671.1" cy="142.92" r="1.4" fill="#231f20" />
<text x="-0.5" y="238.5" font-size="14" font-weight="bold">d</text>
<text x="84" y="268.6" font-size="10.2" text-anchor="end" stroke="#231f20" stroke-width="0.22">Wild-type allele</text>
<line x1="90" y1="267.5" x2="246" y2="267.5" stroke="#555" stroke-width="0.9" />
<line x1="87.2" y1="271.2" x2="92.8" y2="264" stroke="#555" stroke-width="0.8" />
<line x1="243.7" y1="271.2" x2="249.3" y2="264" stroke="#555" stroke-width="0.8" />
<rect x="184" y="264.6" width="14" height="6" fill="#fff"/>
<line x1="186.5" y1="270.8" x2="191.5" y2="264.4" stroke="#555" stroke-width="0.8" />
<line x1="190.5" y1="270.8" x2="195.5" y2="264.4" stroke="#555" stroke-width="0.8" />
<rect x="103" y="261.4" width="5" height="12.4" fill="#9a9a9a" />
<rect x="108" y="261.4" width="5.2" height="12.4" fill="#e8267a" />
<rect x="139.4" y="261.4" width="5" height="12.4" fill="#e8267a" />
<rect x="169.4" y="261.4" width="5" height="12.4" fill="#e8267a" />
<rect x="212" y="261.4" width="5.4" height="12.4" fill="#e8267a" />
<rect x="217.4" y="261.4" width="10.2" height="12.4" fill="#9a9a9a" />
<text x="108" y="254" font-size="10" text-anchor="middle" stroke="#231f20" stroke-width="0.22">ATG</text>
<line x1="108.5" y1="255.5" x2="108.5" y2="261.4" stroke="#555" stroke-width="0.8" />
<text x="217.6" y="254" font-size="10" text-anchor="middle" stroke="#231f20" stroke-width="0.22">TGA</text>
<line x1="217.5" y1="255.5" x2="217.5" y2="261.4" stroke="#555" stroke-width="0.8" />
<text x="107.4" y="284" font-size="10" text-anchor="middle" stroke="#231f20" stroke-width="0.22">1</text>
<text x="142" y="284" font-size="10" text-anchor="middle" stroke="#231f20" stroke-width="0.22">2</text>
<text x="171.6" y="284" font-size="10" text-anchor="middle" stroke="#231f20" stroke-width="0.22">3</text>
<text x="220" y="284" font-size="10" text-anchor="middle" stroke="#231f20" stroke-width="0.22">8</text>
<line x1="142.5" y1="291" x2="142.5" y2="312" stroke="#666" stroke-width="0.8" />
<path d="M139.6 310.5 L142 314.5 L144.4 310.5" fill="none" stroke="#666" stroke-width="0.8" />
<text x="149.6" y="305.6" font-size="10" stroke="#231f20" stroke-width="0.22">CRISPR-Cas9</text>
<text x="84" y="335" font-size="10.2" text-anchor="end" stroke="#231f20" stroke-width="0.22">KO allele</text>
<line x1="90" y1="332.5" x2="246" y2="332.5" stroke="#555" stroke-width="0.9" />
<line x1="87.2" y1="336" x2="92.8" y2="328.8" stroke="#555" stroke-width="0.8" />
<line x1="243.7" y1="336" x2="249.3" y2="328.8" stroke="#555" stroke-width="0.8" />
<rect x="184" y="329.4" width="14" height="6" fill="#fff"/>
<line x1="186.5" y1="335.6" x2="191.5" y2="329.2" stroke="#555" stroke-width="0.8" />
<line x1="190.5" y1="335.6" x2="195.5" y2="329.2" stroke="#555" stroke-width="0.8" />
<rect x="103" y="326.2" width="5" height="12.4" fill="#9a9a9a" />
<rect x="108" y="326.2" width="5.2" height="12.4" fill="#e8267a" />
<rect x="139.4" y="326.2" width="5" height="12.4" fill="#e8267a" />
<rect x="169.4" y="326.2" width="5" height="12.4" fill="#e8267a" />
<rect x="212" y="326.2" width="5.4" height="12.4" fill="#e8267a" />
<rect x="217.4" y="326.2" width="10.2" height="12.4" fill="#9a9a9a" />
<text x="95" y="316" font-size="10" stroke="#231f20" stroke-width="0.22">sgRNA1</text>
<path d="M119.6 328.5 L119.6 322.6 L132.5 322.6" fill="none" stroke="#444" stroke-width="0.8" />
<path d="M130.3 320.6 L133.2 322.6 L130.3 324.6" fill="none" stroke="#444" stroke-width="0.8" />
<path d="M163.6 337 L163.6 342.6 L150.5 342.6" fill="none" stroke="#444" stroke-width="0.8" />
<path d="M152.7 340.6 L149.8 342.6 L152.7 344.6" fill="none" stroke="#444" stroke-width="0.8" />
<text x="155" y="354.6" font-size="10" stroke="#231f20" stroke-width="0.22">sgRNA2</text>
<line x1="142.5" y1="345.6" x2="142.5" y2="366" stroke="#222" stroke-width="0.9" />
<path d="M139.6 364.5 L142 368.5 L144.4 364.5" fill="none" stroke="#222" stroke-width="0.9" />
<text x="84" y="383" font-size="10.2" text-anchor="end" stroke="#231f20" stroke-width="0.22">KO allele</text>
<line x1="90" y1="380.5" x2="230" y2="380.5" stroke="#555" stroke-width="0.9" />
<line x1="87.2" y1="384" x2="92.8" y2="376.8" stroke="#555" stroke-width="0.8" />
<line x1="227.7" y1="384" x2="233.3" y2="376.8" stroke="#555" stroke-width="0.8" />
<rect x="167" y="377.4" width="13" height="6" fill="#fff"/>
<line x1="169" y1="383.6" x2="174" y2="377.2" stroke="#555" stroke-width="0.8" />
<line x1="173" y1="383.6" x2="178" y2="377.2" stroke="#555" stroke-width="0.8" />
<rect x="103" y="374.2" width="5" height="12.4" fill="#9a9a9a" />
<rect x="108" y="374.2" width="5.2" height="12.4" fill="#e8267a" />
<rect x="157" y="374.2" width="1.8" height="12.4" fill="#e8267a" />
<rect x="158.8" y="374.2" width="3.6" height="12.4" fill="#9a9a9a" />
<rect x="195" y="374.2" width="16" height="12.4" fill="#9a9a9a" />
<text x="158.4" y="374.2" font-size="10" text-anchor="middle" font-weight="bold" fill="#444">*</text>
<text x="107.4" y="399.5" font-size="10" text-anchor="middle" stroke="#231f20" stroke-width="0.22">1</text>
<text x="159.4" y="399.5" font-size="10" text-anchor="middle" stroke="#231f20" stroke-width="0.22">3</text>
<text x="203.6" y="399.5" font-size="10" text-anchor="middle" stroke="#231f20" stroke-width="0.22">8</text>
<text x="250.5" y="238.5" font-size="14" font-weight="bold">e</text>
<rect x="306.5" y="250.8" width="15" height="5.4" fill="#8a8a8a" stroke="#231f20" stroke-width="0.8" />
<text x="330.5" y="257" font-size="10.5" stroke="#231f20" stroke-width="0.22">WT</text>
<rect x="355.5" y="250.8" width="15" height="5.4" fill="#ff1a1a" stroke="#231f20" stroke-width="0.8" />
<text x="379" y="257" font-size="10.5" stroke="#231f20" stroke-width="0.22">KO</text>
<line x1="295.5" y1="268.2" x2="295.5" y2="383.5" stroke="#231f20" stroke-width="1" />
<line x1="294.5" y1="383.5" x2="468" y2="383.5" stroke="#231f20" stroke-width="1" />
<line x1="290" y1="383.5" x2="295" y2="383.5" stroke="#231f20" stroke-width="1" />
<text x="287.6" y="386.4" font-size="9.6" text-anchor="end" stroke="#231f20" stroke-width="0.22">0.0</text>
<line x1="290" y1="354.5" x2="295" y2="354.5" stroke="#231f20" stroke-width="1" />
<text x="287.6" y="357.7" font-size="9.6" text-anchor="end" stroke="#231f20" stroke-width="0.22">0.5</text>
<line x1="290" y1="325.5" x2="295" y2="325.5" stroke="#231f20" stroke-width="1" />
<text x="287.6" y="329" font-size="9.6" text-anchor="end" stroke="#231f20" stroke-width="0.22">1.0</text>
<line x1="290" y1="296.5" x2="295" y2="296.5" stroke="#231f20" stroke-width="1" />
<text x="287.6" y="300.3" font-size="9.6" text-anchor="end" stroke="#231f20" stroke-width="0.22">1.5</text>
<line x1="290" y1="268.5" x2="295" y2="268.5" stroke="#231f20" stroke-width="1" />
<text x="287.6" y="271.6" font-size="9.6" text-anchor="end" stroke="#231f20" stroke-width="0.22">2.0</text>
<text x="266.5" y="325.5" font-size="10" text-anchor="middle" font-style="italic" transform="rotate(-90 266.5 325.5)" stroke="#231f20" stroke-width="0.22">Armh4/Gapdh</text>
<rect x="301.5" y="325.5" width="10" height="58" fill="#8a8a8a" stroke="#231f20" stroke-width="0.9" />
<line x1="314.5" y1="383" x2="314.5" y2="388" stroke="#231f20" stroke-width="1" />
<text x="314.3" y="398.2" font-size="10" text-anchor="middle" stroke="#231f20" stroke-width="0.22">Heart</text>
<text x="314.6" y="281.6" font-size="6.1" text-anchor="middle" stroke="#231f20" stroke-width="0.12">p&lt;0.001</text>
<line x1="306.8" y1="283.5" x2="324.8" y2="283.5" stroke="#231f20" stroke-width="0.7" />
<line x1="306.5" y1="323.3" x2="306.5" y2="327.9" stroke="#231f20" stroke-width="0.9" />
<line x1="304.35" y1="323.5" x2="308.75" y2="323.5" stroke="#231f20" stroke-width="0.9" />
<line x1="304.35" y1="327.5" x2="308.75" y2="327.5" stroke="#231f20" stroke-width="0.9" />
<circle cx="305.55" cy="316.42" r="1.45" fill="#231f20" />
<circle cx="303.55" cy="326.17" r="1.45" fill="#231f20" />
<circle cx="306.55" cy="326.75" r="1.45" fill="#231f20" />
<circle cx="308.55" cy="327.9" r="1.45" fill="#231f20" />
<circle cx="310.05" cy="329.04" r="1.45" fill="#231f20" />
<circle cx="318.55" cy="382.43" r="1.3" fill="#231f20" />
<circle cx="320.55" cy="382.43" r="1.3" fill="#231f20" />
<circle cx="322.55" cy="382.43" r="1.3" fill="#231f20" />
<circle cx="324.55" cy="382.43" r="1.3" fill="#231f20" />
<circle cx="326.55" cy="382.43" r="1.3" fill="#231f20" />
<rect x="345.5" y="325.5" width="11" height="58" fill="#8a8a8a" stroke="#231f20" stroke-width="0.9" />
<line x1="358.5" y1="383" x2="358.5" y2="388" stroke="#231f20" stroke-width="1" />
<text x="358.9" y="398.2" font-size="10" text-anchor="middle" stroke="#231f20" stroke-width="0.22">Liver</text>
<text x="359.2" y="281.6" font-size="6.1" text-anchor="middle" stroke="#231f20" stroke-width="0.12">p=0.002</text>
<line x1="351.4" y1="283.5" x2="369.4" y2="283.5" stroke="#231f20" stroke-width="0.7" />
<line x1="351.5" y1="313.55" x2="351.5" y2="338.23" stroke="#231f20" stroke-width="0.9" />
<line x1="348.95" y1="313.5" x2="353.35" y2="313.5" stroke="#231f20" stroke-width="0.9" />
<line x1="348.95" y1="338.5" x2="353.35" y2="338.5" stroke="#231f20" stroke-width="0.9" />
<circle cx="351.15" cy="292.88" r="1.45" fill="#231f20" />
<circle cx="351.15" cy="307.81" r="1.45" fill="#231f20" />
<circle cx="351.15" cy="318.71" r="1.45" fill="#231f20" />
<circle cx="348.65" cy="352" r="1.45" fill="#231f20" />
<circle cx="353.65" cy="355.45" r="1.45" fill="#231f20" />
<circle cx="363.15" cy="382.43" r="1.3" fill="#231f20" />
<circle cx="365.15" cy="382.43" r="1.3" fill="#231f20" />
<circle cx="367.15" cy="382.43" r="1.3" fill="#231f20" />
<circle cx="369.15" cy="382.43" r="1.3" fill="#231f20" />
<circle cx="371.15" cy="382.43" r="1.3" fill="#231f20" />
<rect x="390.5" y="325.5" width="11" height="58" fill="#8a8a8a" stroke="#231f20" stroke-width="0.9" />
<line x1="403.5" y1="383" x2="403.5" y2="388" stroke="#231f20" stroke-width="1" />
<text x="403.5" y="398.2" font-size="10" text-anchor="middle" stroke="#231f20" stroke-width="0.22">Spleen</text>
<text x="403.8" y="281.6" font-size="6.1" text-anchor="middle" stroke="#231f20" stroke-width="0.12">p&lt;0.001</text>
<line x1="396" y1="283.5" x2="414" y2="283.5" stroke="#231f20" stroke-width="0.7" />
<line x1="395.5" y1="319.86" x2="395.5" y2="331.34" stroke="#231f20" stroke-width="0.9" />
<line x1="393.55" y1="319.5" x2="397.95" y2="319.5" stroke="#231f20" stroke-width="0.9" />
<line x1="393.55" y1="331.5" x2="397.95" y2="331.5" stroke="#231f20" stroke-width="0.9" />
<circle cx="393.25" cy="314.69" r="1.45" fill="#231f20" />
<circle cx="398.25" cy="314.69" r="1.45" fill="#231f20" />
<circle cx="398.25" cy="320.43" r="1.45" fill="#231f20" />
<circle cx="393.25" cy="339.38" r="1.45" fill="#231f20" />
<circle cx="398.25" cy="339.38" r="1.45" fill="#231f20" />
<rect x="406.7" y="378.41" width="10.5" height="4.59" fill="#ff1a1a" stroke="#231f20" stroke-width="0.9" />
<circle cx="411.75" cy="373.24" r="1.45" fill="#231f20" />
<circle cx="409.25" cy="379.56" r="1.3" fill="#231f20" />
<circle cx="414.25" cy="380.13" r="1.3" fill="#231f20" />
<circle cx="411.75" cy="381.28" r="1.3" fill="#231f20" />
<line x1="409.75" y1="376.5" x2="413.75" y2="376.5" stroke="#231f20" stroke-width="0.8" />
<rect x="435.5" y="325.5" width="10" height="58" fill="#8a8a8a" stroke="#231f20" stroke-width="0.9" />
<line x1="448.5" y1="383" x2="448.5" y2="388" stroke="#231f20" stroke-width="1" />
<text x="448.1" y="398.2" font-size="10" text-anchor="middle" stroke="#231f20" stroke-width="0.22">Kidney</text>
<text x="448.4" y="281.6" font-size="6.1" text-anchor="middle" stroke="#231f20" stroke-width="0.12">p&lt;0.001</text>
<line x1="440.6" y1="283.5" x2="458.6" y2="283.5" stroke="#231f20" stroke-width="0.7" />
<line x1="440.5" y1="316.42" x2="440.5" y2="335.93" stroke="#231f20" stroke-width="0.9" />
<line x1="438.15" y1="316.5" x2="442.55" y2="316.5" stroke="#231f20" stroke-width="0.9" />
<line x1="438.15" y1="335.5" x2="442.55" y2="335.5" stroke="#231f20" stroke-width="0.9" />
<circle cx="440.35" cy="300.34" r="1.45" fill="#231f20" />
<circle cx="440.35" cy="307.81" r="1.45" fill="#231f20" />
<circle cx="438.35" cy="334.21" r="1.45" fill="#231f20" />
<circle cx="444.35" cy="334.21" r="1.45" fill="#231f20" />
<circle cx="440.35" cy="349.13" r="1.45" fill="#231f20" />
<circle cx="452.35" cy="382.43" r="1.3" fill="#231f20" />
<circle cx="454.35" cy="382.43" r="1.3" fill="#231f20" />
<circle cx="456.35" cy="382.43" r="1.3" fill="#231f20" />
<circle cx="458.35" cy="382.43" r="1.3" fill="#231f20" />
<circle cx="460.35" cy="382.43" r="1.3" fill="#231f20" />
<circle cx="453.1" cy="380.7" r="1.2" fill="#231f20" />
<text x="472.5" y="238.5" font-size="14" font-weight="bold">f</text>
<line x1="483" y1="262.5" x2="685" y2="262.5" stroke="#777" stroke-width="1.1" />
<line x1="483" y1="294.5" x2="685" y2="294.5" stroke="#777" stroke-width="1.1" />
<line x1="483" y1="382.5" x2="685" y2="382.5" stroke="#777" stroke-width="1.1" />
<text x="509" y="281.3" font-size="10" text-anchor="middle" stroke="#231f20" stroke-width="0.22">Genotype</text>
<text x="572.6" y="275.8" font-size="10" text-anchor="middle" stroke="#231f20" stroke-width="0.22">Mendalian</text>
<text x="572.6" y="287.8" font-size="10" text-anchor="middle" stroke="#231f20" stroke-width="0.22">expected</text>
<text x="645.5" y="275.8" font-size="10" text-anchor="middle" stroke="#231f20" stroke-width="0.22">Actual number</text>
<text x="645" y="287.8" font-size="10" text-anchor="middle" stroke="#231f20" stroke-width="0.22">(male/female)</text>
<text x="492.4" y="308.5" font-size="10" font-style="italic">Armh4<tspan font-size="5.5" dy="-4">+/+</tspan></text>
<text x="571.3" y="309" font-size="10" text-anchor="middle" stroke="#231f20" stroke-width="0.22">15.75</text>
<text x="630" y="308.5" font-size="10" stroke="#231f20" stroke-width="0.22">15 (4/11)</text>
<text x="492.4" y="331.3" font-size="10" font-style="italic">Armh4<tspan font-size="5.5" dy="-4">+/-</tspan></text>
<text x="571.3" y="331.8" font-size="10" text-anchor="middle" stroke="#231f20" stroke-width="0.22">31.5</text>
<text x="630" y="331.3" font-size="10" stroke="#231f20" stroke-width="0.22">33 (13/20)</text>
<text x="492.4" y="354.2" font-size="10" font-style="italic">Armh4<tspan font-size="5.5" dy="-4">-/-</tspan></text>
<text x="571.3" y="354.7" font-size="10" text-anchor="middle" stroke="#231f20" stroke-width="0.22">15.75</text>
<text x="630" y="354.2" font-size="10" stroke="#231f20" stroke-width="0.22">15 (8/7)</text>
<text x="508" y="377" font-size="10" text-anchor="middle" stroke="#231f20" stroke-width="0.22">Total</text>
<text x="571.3" y="376.5" font-size="10" text-anchor="middle" stroke="#231f20" stroke-width="0.22">63</text>
<text x="630" y="377" font-size="10" stroke="#231f20" stroke-width="0.22">63 (25/38)</text>
<text x="-0.5" y="422" font-size="14" font-weight="bold">g</text>
<text x="89.5" y="437.4" font-size="10" text-anchor="middle" stroke="#231f20" stroke-width="0.22">Young (2 months)</text>
<line x1="22" y1="443.5" x2="152" y2="443.5" stroke="#555" stroke-width="0.9" />
<text x="296.5" y="437.4" font-size="10.1" text-anchor="middle" stroke="#231f20" stroke-width="0.22">Aged (25 months) - WT</text>
<line x1="155" y1="443.5" x2="416" y2="443.5" stroke="#555" stroke-width="0.9" />
<text x="552" y="437.4" font-size="10" text-anchor="middle" stroke="#231f20" stroke-width="0.22">Aged (25 months) - KO</text>
<line x1="420" y1="443.5" x2="684" y2="443.5" stroke="#555" stroke-width="0.9" />
<text x="54" y="453.2" font-size="10" text-anchor="middle" stroke="#231f20" stroke-width="0.22">WT</text>
<text x="119.6" y="453.2" font-size="10" text-anchor="middle" stroke="#231f20" stroke-width="0.22">KO</text>
<g clip-path="url(#gc0)">
<rect x="21.4" y="456.3" width="63.8" height="99" fill="url(#grid)" />
<rect x="24" y="459" width="7" height="97" fill="#e2e2e2" />
<path d="M24 460h5.95M24 461.6h3.15M24 463.2h3.15M24 464.8h3.15M24 466.4h3.15M24 468h5.95M24 469.6h3.15M24 471.2h3.15M24 472.8h3.15M24 474.4h3.15M24 476h5.95M24 477.6h3.15M24 479.2h3.15M24 480.8h3.15M24 482.4h3.15M24 484h5.95M24 485.6h3.15M24 487.2h3.15M24 488.8h3.15M24 490.4h3.15M24 492h5.95M24 493.6h3.15M24 495.2h3.15M24 496.8h3.15M24 498.4h3.15M24 500h5.95M24 501.6h3.15M24 503.2h3.15M24 504.8h3.15M24 506.4h3.15M24 508h5.95M24 509.6h3.15M24 511.2h3.15M24 512.8h3.15M24 514.4h3.15M24 516h5.95M24 517.6h3.15M24 519.2h3.15M24 520.8h3.15M24 522.4h3.15M24 524h5.95M24 525.6h3.15M24 527.2h3.15M24 528.8h3.15M24 530.4h3.15M24 532h5.95M24 533.6h3.15M24 535.2h3.15M24 536.8h3.15M24 538.4h3.15M24 540h5.95M24 541.6h3.15M24 543.2h3.15M24 544.8h3.15M24 546.4h3.15M24 548h5.95M24 549.6h3.15M24 551.2h3.15M24 552.8h3.15M24 554.4h3.15" fill="none" stroke="#6a6a6a" stroke-width="0.45" />
<rect x="34" y="535.5" width="41" height="6" fill="#e6e6e6" />
<path d="M35 535.5v4.8M36.6 535.5v2.7M38.2 535.5v2.7M39.8 535.5v2.7M41.4 535.5v2.7M43 535.5v4.8M44.6 535.5v2.7M46.2 535.5v2.7M47.8 535.5v2.7M49.4 535.5v2.7M51 535.5v4.8M52.6 535.5v2.7M54.2 535.5v2.7M55.8 535.5v2.7M57.4 535.5v2.7M59 535.5v4.8M60.6 535.5v2.7M62.2 535.5v2.7M63.8 535.5v2.7M65.4 535.5v2.7M67 535.5v4.8M68.6 535.5v2.7M70.2 535.5v2.7M71.8 535.5v2.7M73.4 535.5v2.7" fill="none" stroke="#5a5a5a" stroke-width="0.5" />
<path d="M58.6 526 Q57.48 542.25 53 555.5" fill="none" stroke="#b39494" stroke-width="1.6" />
<path d="M58.6 468 C59.57 468 60.62 469.02 61.5 469.83 C62.38 470.64 63.04 471.66 63.88 472.88 C64.72 474.1 65.51 475.42 66.52 477.15 C67.53 478.88 69.23 480.71 69.95 483.25 C70.68 485.79 70.61 487.93 70.88 492.4 C71.14 496.87 71.6 505.51 71.54 510.09 C71.47 514.66 71.32 517.21 70.48 519.85 C69.64 522.49 68.5 524.43 66.52 525.95 C64.54 527.48 61.24 529 58.6 529 C55.96 529 52.66 527.48 50.68 525.95 C48.7 524.43 47.56 522.49 46.72 519.85 C45.88 517.21 45.73 514.66 45.66 510.09 C45.6 505.51 46.06 496.87 46.32 492.4 C46.59 487.93 46.52 485.79 47.25 483.25 C47.97 480.71 49.67 478.88 50.68 477.15 C51.69 475.42 52.48 474.1 53.32 472.88 C54.16 471.66 54.82 470.64 55.7 469.83 C56.58 469.02 57.63 468 58.6 468Z" fill="#2a2224" filter="url(#fuzz)"/>
<ellipse cx="58.6" cy="495.45" rx="7.92" ry="12.2" fill="url(#mfl2)"/>
<ellipse cx="51.4" cy="477" rx="3.2" ry="3.4" fill="#c8a285" filter="url(#fb)"/>
<ellipse cx="65.8" cy="477" rx="3.2" ry="3.4" fill="#c8a285" filter="url(#fb)"/>
<rect x="41" y="490.6" width="33.6" height="24" fill="none" stroke="#e8202a" stroke-width="0.9" />
<line x1="41" y1="514.6" x2="21.9" y2="555.5" stroke="#e8202a" stroke-width="0.9" stroke-dasharray="2.2 1.6"/>
<line x1="74.6" y1="514.6" x2="84.7" y2="555.5" stroke="#e8202a" stroke-width="0.9" stroke-dasharray="2.2 1.6"/>
</g>
<rect x="21.4" y="456.3" width="63.8" height="99" fill="none" stroke="#444" stroke-width="0.9" />
<g clip-path="url(#gc1)">
<rect x="88" y="456.3" width="63.8" height="99" fill="url(#grid)" />
<rect x="97.5" y="466" width="5" height="90" fill="#e2e2e2" />
<path d="M97.5 467h4.25M97.5 468.6h2.25M97.5 470.2h2.25M97.5 471.8h2.25M97.5 473.4h2.25M97.5 475h4.25M97.5 476.6h2.25M97.5 478.2h2.25M97.5 479.8h2.25M97.5 481.4h2.25M97.5 483h4.25M97.5 484.6h2.25M97.5 486.2h2.25M97.5 487.8h2.25M97.5 489.4h2.25M97.5 491h4.25M97.5 492.6h2.25M97.5 494.2h2.25M97.5 495.8h2.25M97.5 497.4h2.25M97.5 499h4.25M97.5 500.6h2.25M97.5 502.2h2.25M97.5 503.8h2.25M97.5 505.4h2.25M97.5 507h4.25M97.5 508.6h2.25M97.5 510.2h2.25M97.5 511.8h2.25M97.5 513.4h2.25M97.5 515h4.25M97.5 516.6h2.25M97.5 518.2h2.25M97.5 519.8h2.25M97.5 521.4h2.25M97.5 523h4.25M97.5 524.6h2.25M97.5 526.2h2.25M97.5 527.8h2.25M97.5 529.4h2.25M97.5 531h4.25M97.5 532.6h2.25M97.5 534.2h2.25M97.5 535.8h2.25M97.5 537.4h2.25M97.5 539h4.25M97.5 540.6h2.25M97.5 542.2h2.25M97.5 543.8h2.25M97.5 545.4h2.25M97.5 547h4.25M97.5 548.6h2.25M97.5 550.2h2.25M97.5 551.8h2.25M97.5 553.4h2.25M97.5 555h4.25" fill="none" stroke="#6a6a6a" stroke-width="0.45" />
<rect x="104" y="542" width="47" height="6" fill="#e6e6e6" />
<path d="M105 542v4.8M106.6 542v2.7M108.2 542v2.7M109.8 542v2.7M111.4 542v2.7M113 542v4.8M114.6 542v2.7M116.2 542v2.7M117.8 542v2.7M119.4 542v2.7M121 542v4.8M122.6 542v2.7M124.2 542v2.7M125.8 542v2.7M127.4 542v2.7M129 542v4.8M130.6 542v2.7M132.2 542v2.7M133.8 542v2.7M135.4 542v2.7M137 542v4.8M138.6 542v2.7M140.2 542v2.7M141.8 542v2.7M143.4 542v2.7M145 542v4.8M146.6 542v2.7M148.2 542v2.7M149.8 542v2.7" fill="none" stroke="#5a5a5a" stroke-width="0.5" />
<path d="M126 534 Q127.2 546.25 132 555.5" fill="none" stroke="#b39494" stroke-width="1.6" />
<path d="M126 476 C126.91 476 127.9 477.02 128.73 477.83 C129.55 478.64 130.17 479.66 130.96 480.88 C131.75 482.1 132.49 483.42 133.44 485.15 C134.39 486.88 135.98 488.71 136.66 491.25 C137.35 493.79 137.28 495.93 137.53 500.4 C137.78 504.87 138.21 513.51 138.15 518.09 C138.09 522.67 137.95 525.21 137.16 527.85 C136.37 530.49 135.3 532.43 133.44 533.95 C131.58 535.48 128.48 537 126 537 C123.52 537 120.42 535.48 118.56 533.95 C116.7 532.43 115.63 530.49 114.84 527.85 C114.05 525.21 113.91 522.67 113.85 518.09 C113.79 513.51 114.22 504.87 114.47 500.4 C114.72 495.93 114.65 493.79 115.34 491.25 C116.02 488.71 117.61 486.88 118.56 485.15 C119.51 483.42 120.25 482.1 121.04 480.88 C121.83 479.66 122.45 478.64 123.27 477.83 C124.1 477.02 125.09 476 126 476Z" fill="#231e22" filter="url(#fuzz)"/>
<ellipse cx="126" cy="503.45" rx="7.44" ry="12.2" fill="url(#mfl2)"/>
<ellipse cx="118.8" cy="488" rx="3.2" ry="3.4" fill="#c8a285" filter="url(#fb)"/>
<ellipse cx="133.2" cy="488" rx="3.2" ry="3.4" fill="#c8a285" filter="url(#fb)"/>
<rect x="111.4" y="499.6" width="33.2" height="23.8" fill="none" stroke="#e8202a" stroke-width="0.9" />
<line x1="111.4" y1="523.4" x2="88.5" y2="555.5" stroke="#e8202a" stroke-width="0.9" stroke-dasharray="2.2 1.6"/>
<line x1="144.6" y1="523.4" x2="151.3" y2="555.5" stroke="#e8202a" stroke-width="0.9" stroke-dasharray="2.2 1.6"/>
</g>
<rect x="88" y="456.3" width="63.8" height="99" fill="none" stroke="#444" stroke-width="0.9" />
<g clip-path="url(#gc2)">
<rect x="154.6" y="456.3" width="63.8" height="99" fill="url(#grid)" />
<rect x="156.5" y="470" width="5" height="86" fill="#e2e2e2" />
<path d="M156.5 471h4.25M156.5 472.6h2.25M156.5 474.2h2.25M156.5 475.8h2.25M156.5 477.4h2.25M156.5 479h4.25M156.5 480.6h2.25M156.5 482.2h2.25M156.5 483.8h2.25M156.5 485.4h2.25M156.5 487h4.25M156.5 488.6h2.25M156.5 490.2h2.25M156.5 491.8h2.25M156.5 493.4h2.25M156.5 495h4.25M156.5 496.6h2.25M156.5 498.2h2.25M156.5 499.8h2.25M156.5 501.4h2.25M156.5 503h4.25M156.5 504.6h2.25M156.5 506.2h2.25M156.5 507.8h2.25M156.5 509.4h2.25M156.5 511h4.25M156.5 512.6h2.25M156.5 514.2h2.25M156.5 515.8h2.25M156.5 517.4h2.25M156.5 519h4.25M156.5 520.6h2.25M156.5 522.2h2.25M156.5 523.8h2.25M156.5 525.4h2.25M156.5 527h4.25M156.5 528.6h2.25M156.5 530.2h2.25M156.5 531.8h2.25M156.5 533.4h2.25M156.5 535h4.25M156.5 536.6h2.25M156.5 538.2h2.25M156.5 539.8h2.25M156.5 541.4h2.25M156.5 543h4.25M156.5 544.6h2.25M156.5 546.2h2.25M156.5 547.8h2.25M156.5 549.4h2.25M156.5 551h4.25M156.5 552.6h2.25M156.5 554.2h2.25" fill="none" stroke="#6a6a6a" stroke-width="0.45" />
<rect x="160" y="547" width="58" height="6" fill="#e6e6e6" />
<path d="M161 547v4.8M162.6 547v2.7M164.2 547v2.7M165.8 547v2.7M167.4 547v2.7M169 547v4.8M170.6 547v2.7M172.2 547v2.7M173.8 547v2.7M175.4 547v2.7M177 547v4.8M178.6 547v2.7M180.2 547v2.7M181.8 547v2.7M183.4 547v2.7M185 547v4.8M186.6 547v2.7M188.2 547v2.7M189.8 547v2.7M191.4 547v2.7M193 547v4.8M194.6 547v2.7M196.2 547v2.7M197.8 547v2.7M199.4 547v2.7M201 547v4.8M202.6 547v2.7M204.2 547v2.7M205.8 547v2.7M207.4 547v2.7M209 547v4.8M210.6 547v2.7M212.2 547v2.7M213.8 547v2.7M215.4 547v2.7M217 547v4.8" fill="none" stroke="#5a5a5a" stroke-width="0.5" />
<path d="M196.5 520 Q196.3 539.25 195.5 555.5" fill="none" stroke="#b39494" stroke-width="1.6" />
<path d="M184.84 516 L181.6 524" fill="none" stroke="#dcb4b4" stroke-width="2" stroke-linecap="round"/>
<path d="M208.16 516 L211.4 524" fill="none" stroke="#dcb4b4" stroke-width="2" stroke-linecap="round"/>
<path d="M196.5 459 C197.58 459 198.71 460.07 199.74 460.92 C200.77 461.77 201.71 462.84 202.66 464.12 C203.6 465.4 204.17 466.79 205.41 468.6 C206.65 470.41 209.03 471.48 210.11 475 C211.19 478.52 211.48 484.71 211.89 489.72 C212.29 494.73 212.73 500.92 212.54 505.08 C212.35 509.24 211.86 512.23 210.76 514.68 C209.65 517.13 208.27 518.41 205.9 519.8 C203.52 521.19 199.63 523 196.5 523 C193.37 523 189.48 521.19 187.1 519.8 C184.73 518.41 183.35 517.13 182.24 514.68 C181.14 512.23 180.65 509.24 180.46 505.08 C180.27 500.92 180.71 494.73 181.11 489.72 C181.52 484.71 181.81 478.52 182.89 475 C183.97 471.48 186.35 470.41 187.59 468.6 C188.83 466.79 189.4 465.4 190.34 464.12 C191.29 462.84 192.23 461.77 193.26 460.92 C194.29 460.07 195.42 459 196.5 459Z" fill="#2b282c" filter="url(#fuzz)"/>
<ellipse cx="196.5" cy="497.4" rx="13.77" ry="22.4" fill="url(#mfl)"/>
<path d="M196.5 459 C197.58 459 198.71 460.07 199.74 460.92 C200.77 461.77 201.71 462.84 202.66 464.12 C203.6 465.4 204.17 466.79 205.41 468.6 C206.65 470.41 209.03 471.48 210.11 475 C211.19 478.52 211.48 484.71 211.89 489.72 C212.29 494.73 212.73 500.92 212.54 505.08 C212.35 509.24 211.86 512.23 210.76 514.68 C209.65 517.13 208.27 518.41 205.9 519.8 C203.52 521.19 199.63 523 196.5 523 C193.37 523 189.48 521.19 187.1 519.8 C184.73 518.41 183.35 517.13 182.24 514.68 C181.14 512.23 180.65 509.24 180.46 505.08 C180.27 500.92 180.71 494.73 181.11 489.72 C181.52 484.71 181.81 478.52 182.89 475 C183.97 471.48 186.35 470.41 187.59 468.6 C188.83 466.79 189.4 465.4 190.34 464.12 C191.29 462.84 192.23 461.77 193.26 460.92 C194.29 460.07 195.42 459 196.5 459Z" fill="#888" filter="url(#fur)" opacity="0.2"/>
<ellipse cx="188.8" cy="468" rx="3.2" ry="3.4" fill="#c8a285" filter="url(#fb)"/>
<ellipse cx="204.2" cy="468" rx="3.2" ry="3.4" fill="#c8a285" filter="url(#fb)"/>
<rect x="180" y="482" width="33" height="22" fill="none" stroke="#e8202a" stroke-width="0.9" />
<line x1="180" y1="504" x2="155.1" y2="555.5" stroke="#e8202a" stroke-width="0.9" stroke-dasharray="2.2 1.6"/>
<line x1="213" y1="504" x2="217.9" y2="555.5" stroke="#e8202a" stroke-width="0.9" stroke-dasharray="2.2 1.6"/>
</g>
<rect x="154.6" y="456.3" width="63.8" height="99" fill="none" stroke="#444" stroke-width="0.9" />
<g clip-path="url(#gc3)">
<rect x="220.6" y="456.3" width="63.8" height="99" fill="url(#grid)" />
<path d="M252.5 539 Q252.4 548.75 252 555.5" fill="none" stroke="#b39494" stroke-width="1.6" />
<path d="M240.4 535 L237.04 543" fill="none" stroke="#dcb4b4" stroke-width="2" stroke-linecap="round"/>
<path d="M264.6 535 L267.96 543" fill="none" stroke="#dcb4b4" stroke-width="2" stroke-linecap="round"/>
<path d="M252.5 469 C253.62 469 254.8 470.22 255.86 471.19 C256.92 472.16 257.9 473.38 258.88 474.84 C259.86 476.3 260.45 477.88 261.74 479.95 C263.03 482.02 265.49 483.24 266.61 487.25 C267.73 491.26 268.04 498.32 268.46 504.04 C268.88 509.76 269.33 516.81 269.13 521.56 C268.94 526.3 268.43 529.71 267.28 532.51 C266.14 535.31 264.71 536.77 262.24 538.35 C259.78 539.93 255.75 542 252.5 542 C249.25 542 245.22 539.93 242.76 538.35 C240.29 536.77 238.86 535.31 237.72 532.51 C236.57 529.71 236.06 526.3 235.87 521.56 C235.67 516.81 236.12 509.76 236.54 504.04 C236.96 498.32 237.27 491.26 238.39 487.25 C239.51 483.24 241.97 482.02 243.26 479.95 C244.55 477.88 245.14 476.3 246.12 474.84 C247.1 473.38 248.08 472.16 249.14 471.19 C250.2 470.22 251.38 469 252.5 469Z" fill="#302d33" filter="url(#fuzz)"/>
<ellipse cx="252.5" cy="512.8" rx="14.28" ry="25.55" fill="url(#mfl)"/>
<path d="M252.5 469 C253.62 469 254.8 470.22 255.86 471.19 C256.92 472.16 257.9 473.38 258.88 474.84 C259.86 476.3 260.45 477.88 261.74 479.95 C263.03 482.02 265.49 483.24 266.61 487.25 C267.73 491.26 268.04 498.32 268.46 504.04 C268.88 509.76 269.33 516.81 269.13 521.56 C268.94 526.3 268.43 529.71 267.28 532.51 C266.14 535.31 264.71 536.77 262.24 538.35 C259.78 539.93 255.75 542 252.5 542 C249.25 542 245.22 539.93 242.76 538.35 C240.29 536.77 238.86 535.31 237.72 532.51 C236.57 529.71 236.06 526.3 235.87 521.56 C235.67 516.81 236.12 509.76 236.54 504.04 C236.96 498.32 237.27 491.26 238.39 487.25 C239.51 483.24 241.97 482.02 243.26 479.95 C244.55 477.88 245.14 476.3 246.12 474.84 C247.1 473.38 248.08 472.16 249.14 471.19 C250.2 470.22 251.38 469 252.5 469Z" fill="#888" filter="url(#fur)" opacity="0.2"/>
<ellipse cx="244.5" cy="481" rx="3.2" ry="3.4" fill="#c8a285" filter="url(#fb)"/>
<ellipse cx="260.5" cy="481" rx="3.2" ry="3.4" fill="#c8a285" filter="url(#fb)"/>
<rect x="236.4" y="498" width="33.2" height="23.4" fill="none" stroke="#e8202a" stroke-width="0.9" />
<line x1="236.4" y1="521.4" x2="221.1" y2="555.5" stroke="#e8202a" stroke-width="0.9" stroke-dasharray="2.2 1.6"/>
<line x1="269.6" y1="521.4" x2="283.9" y2="555.5" stroke="#e8202a" stroke-width="0.9" stroke-dasharray="2.2 1.6"/>
</g>
<rect x="220.6" y="456.3" width="63.8" height="99" fill="none" stroke="#444" stroke-width="0.9" />
<g clip-path="url(#gc4)">
<rect x="287.6" y="456.3" width="63.8" height="99" fill="url(#grid)" />
<path d="M318.5 534 Q319.6 546.25 324 555.5" fill="none" stroke="#b39494" stroke-width="1.6" />
<path d="M306.98 530 L303.78 538" fill="none" stroke="#dcb4b4" stroke-width="2" stroke-linecap="round"/>
<path d="M330.02 530 L333.22 538" fill="none" stroke="#dcb4b4" stroke-width="2" stroke-linecap="round"/>
<path d="M318.5 469 C319.57 469 320.69 470.13 321.7 471.04 C322.71 471.95 323.65 473.08 324.58 474.44 C325.51 475.8 326.07 477.27 327.3 479.2 C328.53 481.13 330.87 482.26 331.94 486 C333.01 489.74 333.3 496.31 333.7 501.64 C334.1 506.97 334.53 513.54 334.34 517.96 C334.15 522.38 333.67 525.55 332.58 528.16 C331.49 530.77 330.13 532.13 327.78 533.6 C325.43 535.07 321.59 537 318.5 537 C315.41 537 311.57 535.07 309.22 533.6 C306.87 532.13 305.51 530.77 304.42 528.16 C303.33 525.55 302.85 522.38 302.66 517.96 C302.47 513.54 302.9 506.97 303.3 501.64 C303.7 496.31 303.99 489.74 305.06 486 C306.13 482.26 308.47 481.13 309.7 479.2 C310.93 477.27 311.49 475.8 312.42 474.44 C313.35 473.08 314.29 471.95 315.3 471.04 C316.31 470.13 317.43 469 318.5 469Z" fill="#302d34" filter="url(#fuzz)"/>
<ellipse cx="318.5" cy="509.8" rx="13.6" ry="23.8" fill="url(#mfl)"/>
<path d="M318.5 469 C319.57 469 320.69 470.13 321.7 471.04 C322.71 471.95 323.65 473.08 324.58 474.44 C325.51 475.8 326.07 477.27 327.3 479.2 C328.53 481.13 330.87 482.26 331.94 486 C333.01 489.74 333.3 496.31 333.7 501.64 C334.1 506.97 334.53 513.54 334.34 517.96 C334.15 522.38 333.67 525.55 332.58 528.16 C331.49 530.77 330.13 532.13 327.78 533.6 C325.43 535.07 321.59 537 318.5 537 C315.41 537 311.57 535.07 309.22 533.6 C306.87 532.13 305.51 530.77 304.42 528.16 C303.33 525.55 302.85 522.38 302.66 517.96 C302.47 513.54 302.9 506.97 303.3 501.64 C303.7 496.31 303.99 489.74 305.06 486 C306.13 482.26 308.47 481.13 309.7 479.2 C310.93 477.27 311.49 475.8 312.42 474.44 C313.35 473.08 314.29 471.95 315.3 471.04 C316.31 470.13 317.43 469 318.5 469Z" fill="#888" filter="url(#fur)" opacity="0.2"/>
<ellipse cx="311.7" cy="481" rx="3.2" ry="3.4" fill="#c8a285" filter="url(#fb)"/>
<ellipse cx="325.3" cy="481" rx="3.2" ry="3.4" fill="#c8a285" filter="url(#fb)"/>
<rect x="304.4" y="501.4" width="33" height="23.2" fill="none" stroke="#e8202a" stroke-width="0.9" />
<line x1="304.4" y1="524.6" x2="288.1" y2="555.5" stroke="#e8202a" stroke-width="0.9" stroke-dasharray="2.2 1.6"/>
<line x1="337.4" y1="524.6" x2="350.9" y2="555.5" stroke="#e8202a" stroke-width="0.9" stroke-dasharray="2.2 1.6"/>
</g>
<rect x="287.6" y="456.3" width="63.8" height="99" fill="none" stroke="#444" stroke-width="0.9" />
<g clip-path="url(#gc5)">
<rect x="354" y="456.3" width="63.8" height="99" fill="url(#grid)" />
<rect x="356" y="459" width="5" height="97" fill="#e2e2e2" />
<path d="M356 460h4.25M356 461.6h2.25M356 463.2h2.25M356 464.8h2.25M356 466.4h2.25M356 468h4.25M356 469.6h2.25M356 471.2h2.25M356 472.8h2.25M356 474.4h2.25M356 476h4.25M356 477.6h2.25M356 479.2h2.25M356 480.8h2.25M356 482.4h2.25M356 484h4.25M356 485.6h2.25M356 487.2h2.25M356 488.8h2.25M356 490.4h2.25M356 492h4.25M356 493.6h2.25M356 495.2h2.25M356 496.8h2.25M356 498.4h2.25M356 500h4.25M356 501.6h2.25M356 503.2h2.25M356 504.8h2.25M356 506.4h2.25M356 508h4.25M356 509.6h2.25M356 511.2h2.25M356 512.8h2.25M356 514.4h2.25M356 516h4.25M356 517.6h2.25M356 519.2h2.25M356 520.8h2.25M356 522.4h2.25M356 524h4.25M356 525.6h2.25M356 527.2h2.25M356 528.8h2.25M356 530.4h2.25M356 532h4.25M356 533.6h2.25M356 535.2h2.25M356 536.8h2.25M356 538.4h2.25M356 540h4.25M356 541.6h2.25M356 543.2h2.25M356 544.8h2.25M356 546.4h2.25M356 548h4.25M356 549.6h2.25M356 551.2h2.25M356 552.8h2.25M356 554.4h2.25" fill="none" stroke="#6a6a6a" stroke-width="0.45" />
<rect x="363" y="537" width="54" height="6" fill="#e6e6e6" />
<path d="M364 537v4.8M365.6 537v2.7M367.2 537v2.7M368.8 537v2.7M370.4 537v2.7M372 537v4.8M373.6 537v2.7M375.2 537v2.7M376.8 537v2.7M378.4 537v2.7M380 537v4.8M381.6 537v2.7M383.2 537v2.7M384.8 537v2.7M386.4 537v2.7M388 537v4.8M389.6 537v2.7M391.2 537v2.7M392.8 537v2.7M394.4 537v2.7M396 537v4.8M397.6 537v2.7M399.2 537v2.7M400.8 537v2.7M402.4 537v2.7M404 537v4.8M405.6 537v2.7M407.2 537v2.7M408.8 537v2.7M410.4 537v2.7M412 537v4.8M413.6 537v2.7M415.2 537v2.7" fill="none" stroke="#5a5a5a" stroke-width="0.5" />
<path d="M391.5 528 Q391.6 543.25 392 555.5" fill="none" stroke="#b39494" stroke-width="1.6" />
<path d="M391.5 468.6 C392.37 468.6 393.28 469.64 394.1 470.47 C394.92 471.3 395.68 472.34 396.44 473.59 C397.2 474.84 397.65 476.19 398.65 477.96 C399.65 479.73 401.55 480.77 402.42 484.2 C403.29 487.63 403.53 493.66 403.85 498.55 C404.18 503.44 404.52 509.47 404.37 513.53 C404.22 517.58 403.83 520.5 402.94 522.89 C402.05 525.28 400.95 526.53 399.04 527.88 C397.13 529.23 394.01 531 391.5 531 C388.99 531 385.87 529.23 383.96 527.88 C382.05 526.53 380.95 525.28 380.06 522.89 C379.17 520.5 378.78 517.58 378.63 513.53 C378.48 509.47 378.82 503.44 379.15 498.55 C379.47 493.66 379.71 487.63 380.58 484.2 C381.45 480.77 383.35 479.73 384.35 477.96 C385.35 476.19 385.8 474.84 386.56 473.59 C387.32 472.34 388.08 471.3 388.9 470.47 C389.72 469.64 390.63 468.6 391.5 468.6Z" fill="#27252b" filter="url(#fuzz)"/>
<ellipse cx="391.5" cy="506.04" rx="11.05" ry="21.84" fill="url(#mfl)"/>
<path d="M391.5 468.6 C392.37 468.6 393.28 469.64 394.1 470.47 C394.92 471.3 395.68 472.34 396.44 473.59 C397.2 474.84 397.65 476.19 398.65 477.96 C399.65 479.73 401.55 480.77 402.42 484.2 C403.29 487.63 403.53 493.66 403.85 498.55 C404.18 503.44 404.52 509.47 404.37 513.53 C404.22 517.58 403.83 520.5 402.94 522.89 C402.05 525.28 400.95 526.53 399.04 527.88 C397.13 529.23 394.01 531 391.5 531 C388.99 531 385.87 529.23 383.96 527.88 C382.05 526.53 380.95 525.28 380.06 522.89 C379.17 520.5 378.78 517.58 378.63 513.53 C378.48 509.47 378.82 503.44 379.15 498.55 C379.47 493.66 379.71 487.63 380.58 484.2 C381.45 480.77 383.35 479.73 384.35 477.96 C385.35 476.19 385.8 474.84 386.56 473.59 C387.32 472.34 388.08 471.3 388.9 470.47 C389.72 469.64 390.63 468.6 391.5 468.6Z" fill="#888" filter="url(#fur)" opacity="0.2"/>
<ellipse cx="384.5" cy="479" rx="3.2" ry="3.4" fill="#c8a285" filter="url(#fb)"/>
<ellipse cx="398.5" cy="479" rx="3.2" ry="3.4" fill="#c8a285" filter="url(#fb)"/>
<rect x="376" y="501.4" width="32.6" height="23" fill="none" stroke="#e8202a" stroke-width="0.9" />
<line x1="376" y1="524.4" x2="354.5" y2="555.5" stroke="#e8202a" stroke-width="0.9" stroke-dasharray="2.2 1.6"/>
<line x1="408.6" y1="524.4" x2="417.3" y2="555.5" stroke="#e8202a" stroke-width="0.9" stroke-dasharray="2.2 1.6"/>
</g>
<rect x="354" y="456.3" width="63.8" height="99" fill="none" stroke="#444" stroke-width="0.9" />
<g clip-path="url(#gc6)">
<rect x="420.4" y="456.3" width="63.8" height="99" fill="url(#grid)" />
<rect x="425.5" y="465" width="5" height="91" fill="#e2e2e2" />
<path d="M425.5 466h4.25M425.5 467.6h2.25M425.5 469.2h2.25M425.5 470.8h2.25M425.5 472.4h2.25M425.5 474h4.25M425.5 475.6h2.25M425.5 477.2h2.25M425.5 478.8h2.25M425.5 480.4h2.25M425.5 482h4.25M425.5 483.6h2.25M425.5 485.2h2.25M425.5 486.8h2.25M425.5 488.4h2.25M425.5 490h4.25M425.5 491.6h2.25M425.5 493.2h2.25M425.5 494.8h2.25M425.5 496.4h2.25M425.5 498h4.25M425.5 499.6h2.25M425.5 501.2h2.25M425.5 502.8h2.25M425.5 504.4h2.25M425.5 506h4.25M425.5 507.6h2.25M425.5 509.2h2.25M425.5 510.8h2.25M425.5 512.4h2.25M425.5 514h4.25M425.5 515.6h2.25M425.5 517.2h2.25M425.5 518.8h2.25M425.5 520.4h2.25M425.5 522h4.25M425.5 523.6h2.25M425.5 525.2h2.25M425.5 526.8h2.25M425.5 528.4h2.25M425.5 530h4.25M425.5 531.6h2.25M425.5 533.2h2.25M425.5 534.8h2.25M425.5 536.4h2.25M425.5 538h4.25M425.5 539.6h2.25M425.5 541.2h2.25M425.5 542.8h2.25M425.5 544.4h2.25M425.5 546h4.25M425.5 547.6h2.25M425.5 549.2h2.25M425.5 550.8h2.25M425.5 552.4h2.25M425.5 554h4.25" fill="none" stroke="#6a6a6a" stroke-width="0.45" />
<rect x="430" y="543" width="54" height="6" fill="#e6e6e6" />
<path d="M431 543v4.8M432.6 543v2.7M434.2 543v2.7M435.8 543v2.7M437.4 543v2.7M439 543v4.8M440.6 543v2.7M442.2 543v2.7M443.8 543v2.7M445.4 543v2.7M447 543v4.8M448.6 543v2.7M450.2 543v2.7M451.8 543v2.7M453.4 543v2.7M455 543v4.8M456.6 543v2.7M458.2 543v2.7M459.8 543v2.7M461.4 543v2.7M463 543v4.8M464.6 543v2.7M466.2 543v2.7M467.8 543v2.7M469.4 543v2.7M471 543v4.8M472.6 543v2.7M474.2 543v2.7M475.8 543v2.7M477.4 543v2.7M479 543v4.8M480.6 543v2.7M482.2 543v2.7" fill="none" stroke="#5a5a5a" stroke-width="0.5" />
<path d="M465.5 518 Q464.6 538.25 461 555.5" fill="none" stroke="#b39494" stroke-width="1.6" />
<path d="M453.98 514 L450.78 522" fill="none" stroke="#dcb4b4" stroke-width="2" stroke-linecap="round"/>
<path d="M477.02 514 L480.22 522" fill="none" stroke="#dcb4b4" stroke-width="2" stroke-linecap="round"/>
<path d="M465.5 458.4 C466.57 458.4 467.69 459.44 468.7 460.28 C469.71 461.11 470.65 462.16 471.58 463.41 C472.51 464.66 473.07 466.02 474.3 467.79 C475.53 469.56 477.87 470.61 478.94 474.05 C480.01 477.49 480.3 483.54 480.7 488.45 C481.1 493.35 481.53 499.4 481.34 503.47 C481.15 507.54 480.67 510.46 479.58 512.86 C478.49 515.26 477.13 516.51 474.78 517.87 C472.43 519.23 468.59 521 465.5 521 C462.41 521 458.57 519.23 456.22 517.87 C453.87 516.51 452.51 515.26 451.42 512.86 C450.33 510.46 449.85 507.54 449.66 503.47 C449.47 499.4 449.9 493.35 450.3 488.45 C450.7 483.54 450.99 477.49 452.06 474.05 C453.13 470.61 455.47 469.56 456.7 467.79 C457.93 466.02 458.49 464.66 459.42 463.41 C460.35 462.16 461.29 461.11 462.3 460.28 C463.31 459.44 464.43 458.4 465.5 458.4Z" fill="#17171f" filter="url(#fuzz)"/>
<ellipse cx="458.3" cy="469.5" rx="3.2" ry="3.4" fill="#c8a285" filter="url(#fb)"/>
<ellipse cx="472.7" cy="469.5" rx="3.2" ry="3.4" fill="#c8a285" filter="url(#fb)"/>
<rect x="450.4" y="482.4" width="32.6" height="23" fill="none" stroke="#e8202a" stroke-width="0.9" />
<line x1="450.4" y1="505.4" x2="420.9" y2="555.5" stroke="#e8202a" stroke-width="0.9" stroke-dasharray="2.2 1.6"/>
<line x1="483" y1="505.4" x2="483.7" y2="555.5" stroke="#e8202a" stroke-width="0.9" stroke-dasharray="2.2 1.6"/>
</g>
<rect x="420.4" y="456.3" width="63.8" height="99" fill="none" stroke="#444" stroke-width="0.9" />
<g clip-path="url(#gc7)">
<rect x="487.6" y="456.3" width="63.8" height="99" fill="url(#grid)" />
<rect x="488" y="548" width="63" height="6" fill="#e6e6e6" />
<path d="M489 548v4.8M490.6 548v2.7M492.2 548v2.7M493.8 548v2.7M495.4 548v2.7M497 548v4.8M498.6 548v2.7M500.2 548v2.7M501.8 548v2.7M503.4 548v2.7M505 548v4.8M506.6 548v2.7M508.2 548v2.7M509.8 548v2.7M511.4 548v2.7M513 548v4.8M514.6 548v2.7M516.2 548v2.7M517.8 548v2.7M519.4 548v2.7M521 548v4.8M522.6 548v2.7M524.2 548v2.7M525.8 548v2.7M527.4 548v2.7M529 548v4.8M530.6 548v2.7M532.2 548v2.7M533.8 548v2.7M535.4 548v2.7M537 548v4.8M538.6 548v2.7M540.2 548v2.7M541.8 548v2.7M543.4 548v2.7M545 548v4.8M546.6 548v2.7M548.2 548v2.7M549.8 548v2.7" fill="none" stroke="#5a5a5a" stroke-width="0.5" />
<path d="M520.8 528 Q521.04 543.25 522 555.5" fill="none" stroke="#b39494" stroke-width="1.6" />
<path d="M508.92 524 L505.62 532" fill="none" stroke="#dcb4b4" stroke-width="2" stroke-linecap="round"/>
<path d="M532.68 524 L535.98 532" fill="none" stroke="#dcb4b4" stroke-width="2" stroke-linecap="round"/>
<path d="M520.8 470 C521.9 470 523.05 471.02 524.1 471.83 C525.14 472.64 526.11 473.66 527.07 474.88 C528.03 476.1 528.61 477.42 529.88 479.15 C531.14 480.88 533.56 481.89 534.66 485.25 C535.76 488.61 536.06 494.5 536.47 499.28 C536.89 504.06 537.33 509.95 537.13 513.92 C536.94 517.88 536.45 520.73 535.32 523.07 C534.19 525.41 532.79 526.63 530.37 527.95 C527.95 529.27 523.99 531 520.8 531 C517.61 531 513.65 529.27 511.23 527.95 C508.81 526.63 507.41 525.41 506.28 523.07 C505.15 520.73 504.66 517.88 504.46 513.92 C504.27 509.95 504.71 504.06 505.12 499.28 C505.54 494.5 505.84 488.61 506.94 485.25 C508.04 481.89 510.46 480.88 511.72 479.15 C512.99 477.42 513.57 476.1 514.53 474.88 C515.49 473.66 516.46 472.64 517.5 471.83 C518.54 471.02 519.7 470 520.8 470Z" fill="#18181f" filter="url(#fuzz)"/>
<ellipse cx="513.8" cy="480" rx="3.2" ry="3.4" fill="#c8a285" filter="url(#fb)"/>
<ellipse cx="527.8" cy="480" rx="3.2" ry="3.4" fill="#c8a285" filter="url(#fb)"/>
<rect x="504.4" y="491.4" width="32.2" height="24" fill="none" stroke="#e8202a" stroke-width="0.9" />
<line x1="504.4" y1="515.4" x2="488.1" y2="555.5" stroke="#e8202a" stroke-width="0.9" stroke-dasharray="2.2 1.6"/>
<line x1="536.6" y1="515.4" x2="550.9" y2="555.5" stroke="#e8202a" stroke-width="0.9" stroke-dasharray="2.2 1.6"/>
</g>
<rect x="487.6" y="456.3" width="63.8" height="99" fill="none" stroke="#444" stroke-width="0.9" />
<g clip-path="url(#gc8)">
<rect x="554" y="456.3" width="63.8" height="99" fill="url(#grid)" />
<rect x="557.5" y="470" width="4.5" height="86" fill="#e2e2e2" />
<path d="M557.5 471h3.82M557.5 472.6h2.02M557.5 474.2h2.02M557.5 475.8h2.02M557.5 477.4h2.02M557.5 479h3.82M557.5 480.6h2.02M557.5 482.2h2.02M557.5 483.8h2.02M557.5 485.4h2.02M557.5 487h3.82M557.5 488.6h2.02M557.5 490.2h2.02M557.5 491.8h2.02M557.5 493.4h2.02M557.5 495h3.82M557.5 496.6h2.02M557.5 498.2h2.02M557.5 499.8h2.02M557.5 501.4h2.02M557.5 503h3.82M557.5 504.6h2.02M557.5 506.2h2.02M557.5 507.8h2.02M557.5 509.4h2.02M557.5 511h3.82M557.5 512.6h2.02M557.5 514.2h2.02M557.5 515.8h2.02M557.5 517.4h2.02M557.5 519h3.82M557.5 520.6h2.02M557.5 522.2h2.02M557.5 523.8h2.02M557.5 525.4h2.02M557.5 527h3.82M557.5 528.6h2.02M557.5 530.2h2.02M557.5 531.8h2.02M557.5 533.4h2.02M557.5 535h3.82M557.5 536.6h2.02M557.5 538.2h2.02M557.5 539.8h2.02M557.5 541.4h2.02M557.5 543h3.82M557.5 544.6h2.02M557.5 546.2h2.02M557.5 547.8h2.02M557.5 549.4h2.02M557.5 551h3.82M557.5 552.6h2.02M557.5 554.2h2.02" fill="none" stroke="#6a6a6a" stroke-width="0.45" />
<rect x="562" y="541" width="55" height="6" fill="#e6e6e6" />
<path d="M563 541v4.8M564.6 541v2.7M566.2 541v2.7M567.8 541v2.7M569.4 541v2.7M571 541v4.8M572.6 541v2.7M574.2 541v2.7M575.8 541v2.7M577.4 541v2.7M579 541v4.8M580.6 541v2.7M582.2 541v2.7M583.8 541v2.7M585.4 541v2.7M587 541v4.8M588.6 541v2.7M590.2 541v2.7M591.8 541v2.7M593.4 541v2.7M595 541v4.8M596.6 541v2.7M598.2 541v2.7M599.8 541v2.7M601.4 541v2.7M603 541v4.8M604.6 541v2.7M606.2 541v2.7M607.8 541v2.7M609.4 541v2.7M611 541v4.8M612.6 541v2.7M614.2 541v2.7M615.8 541v2.7" fill="none" stroke="#5a5a5a" stroke-width="0.5" />
<path d="M588.5 529 Q588 543.75 586 555.5" fill="none" stroke="#b39494" stroke-width="1.6" />
<path d="M577.56 525 L574.52 533" fill="none" stroke="#dcb4b4" stroke-width="2" stroke-linecap="round"/>
<path d="M599.44 525 L602.48 533" fill="none" stroke="#dcb4b4" stroke-width="2" stroke-linecap="round"/>
<path d="M588.5 472.4 C589.51 472.4 590.58 473.39 591.54 474.19 C592.5 474.98 593.39 475.98 594.28 477.17 C595.16 478.36 595.69 479.65 596.86 481.34 C598.03 483.03 600.25 484.02 601.27 487.3 C602.28 490.58 602.56 496.34 602.94 501.01 C603.32 505.68 603.73 511.44 603.55 515.31 C603.37 519.19 602.91 521.97 601.88 524.25 C600.84 526.54 599.55 527.73 597.32 529.02 C595.09 530.31 591.44 532 588.5 532 C585.56 532 581.91 530.31 579.68 529.02 C577.45 527.73 576.16 526.54 575.12 524.25 C574.09 521.97 573.63 519.19 573.45 515.31 C573.27 511.44 573.68 505.68 574.06 501.01 C574.44 496.34 574.72 490.58 575.73 487.3 C576.75 484.02 578.97 483.03 580.14 481.34 C581.31 479.65 581.84 478.36 582.72 477.17 C583.61 475.98 584.5 474.98 585.46 474.19 C586.42 473.39 587.49 472.4 588.5 472.4Z" fill="#1a1a21" filter="url(#fuzz)"/>
<ellipse cx="582" cy="482" rx="3.2" ry="3.4" fill="#c8a285" filter="url(#fb)"/>
<ellipse cx="595" cy="482" rx="3.2" ry="3.4" fill="#c8a285" filter="url(#fb)"/>
<rect x="571.4" y="499" width="33.2" height="23.6" fill="none" stroke="#e8202a" stroke-width="0.9" />
<line x1="571.4" y1="522.6" x2="554.5" y2="555.5" stroke="#e8202a" stroke-width="0.9" stroke-dasharray="2.2 1.6"/>
<line x1="604.6" y1="522.6" x2="617.3" y2="555.5" stroke="#e8202a" stroke-width="0.9" stroke-dasharray="2.2 1.6"/>
</g>
<rect x="554" y="456.3" width="63.8" height="99" fill="none" stroke="#444" stroke-width="0.9" />
<g clip-path="url(#gc9)">
<rect x="621" y="456.3" width="63.8" height="99" fill="url(#grid)" />
<rect x="627.5" y="459" width="5" height="97" fill="#e2e2e2" />
<path d="M627.5 460h4.25M627.5 461.6h2.25M627.5 463.2h2.25M627.5 464.8h2.25M627.5 466.4h2.25M627.5 468h4.25M627.5 469.6h2.25M627.5 471.2h2.25M627.5 472.8h2.25M627.5 474.4h2.25M627.5 476h4.25M627.5 477.6h2.25M627.5 479.2h2.25M627.5 480.8h2.25M627.5 482.4h2.25M627.5 484h4.25M627.5 485.6h2.25M627.5 487.2h2.25M627.5 488.8h2.25M627.5 490.4h2.25M627.5 492h4.25M627.5 493.6h2.25M627.5 495.2h2.25M627.5 496.8h2.25M627.5 498.4h2.25M627.5 500h4.25M627.5 501.6h2.25M627.5 503.2h2.25M627.5 504.8h2.25M627.5 506.4h2.25M627.5 508h4.25M627.5 509.6h2.25M627.5 511.2h2.25M627.5 512.8h2.25M627.5 514.4h2.25M627.5 516h4.25M627.5 517.6h2.25M627.5 519.2h2.25M627.5 520.8h2.25M627.5 522.4h2.25M627.5 524h4.25M627.5 525.6h2.25M627.5 527.2h2.25M627.5 528.8h2.25M627.5 530.4h2.25M627.5 532h4.25M627.5 533.6h2.25M627.5 535.2h2.25M627.5 536.8h2.25M627.5 538.4h2.25M627.5 540h4.25M627.5 541.6h2.25M627.5 543.2h2.25M627.5 544.8h2.25M627.5 546.4h2.25M627.5 548h4.25M627.5 549.6h2.25M627.5 551.2h2.25M627.5 552.8h2.25M627.5 554.4h2.25" fill="none" stroke="#6a6a6a" stroke-width="0.45" />
<rect x="632" y="539" width="52" height="6" fill="#e6e6e6" />
<path d="M633 539v4.8M634.6 539v2.7M636.2 539v2.7M637.8 539v2.7M639.4 539v2.7M641 539v4.8M642.6 539v2.7M644.2 539v2.7M645.8 539v2.7M647.4 539v2.7M649 539v4.8M650.6 539v2.7M652.2 539v2.7M653.8 539v2.7M655.4 539v2.7M657 539v4.8M658.6 539v2.7M660.2 539v2.7M661.8 539v2.7M663.4 539v2.7M665 539v4.8M666.6 539v2.7M668.2 539v2.7M669.8 539v2.7M671.4 539v2.7M673 539v4.8M674.6 539v2.7M676.2 539v2.7M677.8 539v2.7M679.4 539v2.7M681 539v4.8M682.6 539v2.7" fill="none" stroke="#5a5a5a" stroke-width="0.5" />
<path d="M654 526 Q653.4 542.25 651 555.5" fill="none" stroke="#b39494" stroke-width="1.6" />
<path d="M642.34 522 L639.1 530" fill="none" stroke="#dcb4b4" stroke-width="2" stroke-linecap="round"/>
<path d="M665.66 522 L668.9 530" fill="none" stroke="#dcb4b4" stroke-width="2" stroke-linecap="round"/>
<path d="M654 469.6 C655.08 469.6 656.21 470.59 657.24 471.38 C658.27 472.17 659.21 473.16 660.16 474.35 C661.1 475.54 661.67 476.83 662.91 478.51 C664.15 480.19 666.53 481.18 667.61 484.45 C668.69 487.72 668.99 493.46 669.39 498.11 C669.79 502.77 670.23 508.51 670.04 512.37 C669.85 516.23 669.36 519 668.26 521.28 C667.15 523.56 665.77 524.74 663.4 526.03 C661.02 527.32 657.13 529 654 529 C650.87 529 646.98 527.32 644.6 526.03 C642.23 524.74 640.85 523.56 639.74 521.28 C638.64 519 638.15 516.23 637.96 512.37 C637.77 508.51 638.21 502.77 638.61 498.11 C639.01 493.46 639.31 487.72 640.39 484.45 C641.47 481.18 643.85 480.19 645.09 478.51 C646.33 476.83 646.9 475.54 647.84 474.35 C648.79 473.16 649.73 472.17 650.76 471.38 C651.79 470.59 652.92 469.6 654 469.6Z" fill="#19191f" filter="url(#fuzz)"/>
<ellipse cx="646.5" cy="477" rx="3.2" ry="3.4" fill="#c8a285" filter="url(#fb)"/>
<ellipse cx="661.5" cy="477" rx="3.2" ry="3.4" fill="#c8a285" filter="url(#fb)"/>
<rect x="637.4" y="494" width="33" height="23.4" fill="none" stroke="#e8202a" stroke-width="0.9" />
<line x1="637.4" y1="517.4" x2="621.5" y2="555.5" stroke="#e8202a" stroke-width="0.9" stroke-dasharray="2.2 1.6"/>
<line x1="670.4" y1="517.4" x2="684.3" y2="555.5" stroke="#e8202a" stroke-width="0.9" stroke-dasharray="2.2 1.6"/>
</g>
<rect x="621" y="456.3" width="63.8" height="99" fill="none" stroke="#444" stroke-width="0.9" />
<line x1="76" y1="552.4" x2="82" y2="552.4" stroke="#111" stroke-width="1.4" />
<g clip-path="url(#gcc0)">
<rect x="21.4" y="557.4" width="63.8" height="46" fill="url(#grid2)" />
<path d="M35 556 L75 556 C78 570 75 585 76 604 L30 604 C31 585 32 570 35 556Z" fill="#261f22" filter="url(#fb)"/>
<ellipse cx="55" cy="570" rx="14" ry="10" fill="url(#mfl2)"/>
</g>
<rect x="21.4" y="557.4" width="63.8" height="46" fill="none" stroke="#555" stroke-width="0.9" />
<g clip-path="url(#gcc1)">
<rect x="88" y="557.4" width="63.8" height="46" fill="url(#grid2)" />
<path d="M101 556 L142 556 C145 570 142 585 143 604 L97 604 C98 585 98 570 101 556Z" fill="#241f24" filter="url(#fb)"/>
<ellipse cx="121.5" cy="570" rx="14.35" ry="10" fill="url(#mfl2)"/>
</g>
<rect x="88" y="557.4" width="63.8" height="46" fill="none" stroke="#555" stroke-width="0.9" />
<g clip-path="url(#gcc2)">
<rect x="154.6" y="557.4" width="63.8" height="46" fill="url(#grid2)" />
<path d="M163 556 L210 556 C213 570 211 585 212 604 L160 604 C161 585 160 570 163 556Z" fill="#29282d" filter="url(#fb)"/>
<ellipse cx="186" cy="568" rx="3.2" ry="13" fill="#8a8590" opacity="0.6" filter="url(#fb2)"/>
<ellipse cx="187" cy="595" rx="6" ry="8" fill="#45434b" opacity="0.5" filter="url(#fb2)"/>
<path d="M163 556 L210 556 C213 570 211 585 212 604 L160 604 C161 585 160 570 163 556Z" fill="#999" filter="url(#fur)" opacity="0.16"/>
</g>
<rect x="154.6" y="557.4" width="63.8" height="46" fill="none" stroke="#555" stroke-width="0.9" />
<g clip-path="url(#gcc3)">
<rect x="220.6" y="557.4" width="63.8" height="46" fill="url(#grid2)" />
<path d="M222 556 L283 556 C286 570 283 585 284 604 L221 604 C222 585 219 570 222 556Z" fill="#3b3940" filter="url(#fb)"/>
<ellipse cx="238" cy="568" rx="12" ry="10" fill="#77737e" opacity="0.5" filter="url(#fb2)"/>
<ellipse cx="262" cy="566" rx="10" ry="6" fill="#66626c" opacity="0.4" filter="url(#fb2)"/>
<ellipse cx="253" cy="590" rx="4" ry="15" fill="#141317" opacity="0.75" filter="url(#fb2)"/>
<ellipse cx="272" cy="592" rx="6" ry="10" fill="#5a5862" opacity="0.4" filter="url(#fb2)"/>
<path d="M222 556 L283 556 C286 570 283 585 284 604 L221 604 C222 585 219 570 222 556Z" fill="#999" filter="url(#fur)" opacity="0.16"/>
</g>
<rect x="220.6" y="557.4" width="63.8" height="46" fill="none" stroke="#555" stroke-width="0.9" />
<g clip-path="url(#gcc4)">
<rect x="287.6" y="557.4" width="63.8" height="46" fill="url(#grid2)" />
<path d="M294 556 L340 556 C343 570 349 585 350 604 L291 604 C292 585 291 570 294 556Z" fill="#2f2e35" filter="url(#fb)"/>
<ellipse cx="312" cy="585" rx="6" ry="14" fill="#6a6672" opacity="0.45" filter="url(#fb2)"/>
<ellipse cx="300" cy="575" rx="5" ry="8" fill="#45434b" opacity="0.4" filter="url(#fb2)"/>
<path d="M294 556 L340 556 C343 570 349 585 350 604 L291 604 C292 585 291 570 294 556Z" fill="#999" filter="url(#fur)" opacity="0.16"/>
</g>
<rect x="287.6" y="557.4" width="63.8" height="46" fill="none" stroke="#555" stroke-width="0.9" />
<g clip-path="url(#gcc5)">
<rect x="354" y="557.4" width="63.8" height="46" fill="url(#grid2)" />
<path d="M362 556 L408 556 C411 570 410 585 411 604 L360 604 C361 585 359 570 362 556Z" fill="#232228" filter="url(#fb)"/>
<ellipse cx="385" cy="590" rx="4" ry="8" fill="#4a4852" opacity="0.5" filter="url(#fb2)"/>
<path d="M362 556 L408 556 C411 570 410 585 411 604 L360 604 C361 585 359 570 362 556Z" fill="#999" filter="url(#fur)" opacity="0.16"/>
</g>
<rect x="354" y="557.4" width="63.8" height="46" fill="none" stroke="#555" stroke-width="0.9" />
<g clip-path="url(#gcc6)">
<rect x="420.4" y="557.4" width="63.8" height="46" fill="url(#grid2)" />
<path d="M430 556 L478 556 C481 570 478 585 479 604 L427 604 C428 585 427 570 430 556Z" fill="#1b1b28" filter="url(#fb)"/>
</g>
<rect x="420.4" y="557.4" width="63.8" height="46" fill="none" stroke="#555" stroke-width="0.9" />
<g clip-path="url(#gcc7)">
<rect x="487.6" y="557.4" width="63.8" height="46" fill="url(#grid2)" />
<path d="M493 556 L545 556 C548 570 548 585 549 604 L491 604 C492 585 490 570 493 556Z" fill="#1c1c2b" filter="url(#fb)"/>
</g>
<rect x="487.6" y="557.4" width="63.8" height="46" fill="none" stroke="#555" stroke-width="0.9" />
<g clip-path="url(#gcc8)">
<rect x="554" y="557.4" width="63.8" height="46" fill="url(#grid2)" />
<path d="M561 556 L610 556 C613 570 611 585 612 604 L559 604 C560 585 558 570 561 556Z" fill="#1e2029" filter="url(#fb)"/>
</g>
<rect x="554" y="557.4" width="63.8" height="46" fill="none" stroke="#555" stroke-width="0.9" />
<g clip-path="url(#gcc9)">
<rect x="621" y="557.4" width="63.8" height="46" fill="url(#grid2)" />
<path d="M630 556 L676 556 C679 570 680 585 681 604 L622 604 C623 585 627 570 630 556Z" fill="#22222b" filter="url(#fb)"/>
</g>
<rect x="621" y="557.4" width="63.8" height="46" fill="none" stroke="#555" stroke-width="0.9" />
<text x="-0.5" y="632" font-size="14" font-weight="bold">h</text>
<line x1="51.5" y1="653" x2="51.5" y2="768.9" stroke="#231f20" stroke-width="1" />
<line x1="51.1" y1="768.5" x2="224.18" y2="768.5" stroke="#231f20" stroke-width="1" />
<line x1="46.1" y1="768.5" x2="51.6" y2="768.5" stroke="#231f20" stroke-width="1" />
<text x="44.5" y="771.9" font-size="10" text-anchor="end" stroke="#231f20" stroke-width="0.22">0</text>
<line x1="46.1" y1="739.5" x2="51.6" y2="739.5" stroke="#231f20" stroke-width="1" />
<text x="44.5" y="743.05" font-size="10" text-anchor="end" stroke="#231f20" stroke-width="0.22">10</text>
<line x1="46.1" y1="710.5" x2="51.6" y2="710.5" stroke="#231f20" stroke-width="1" />
<text x="44.5" y="714.2" font-size="10" text-anchor="end" stroke="#231f20" stroke-width="0.22">20</text>
<line x1="46.1" y1="681.5" x2="51.6" y2="681.5" stroke="#231f20" stroke-width="1" />
<text x="44.5" y="685.35" font-size="10" text-anchor="end" stroke="#231f20" stroke-width="0.22">30</text>
<line x1="46.1" y1="653.5" x2="51.6" y2="653.5" stroke="#231f20" stroke-width="1" />
<text x="44.5" y="656.5" font-size="10" text-anchor="end" stroke="#231f20" stroke-width="0.22">40</text>
<line x1="51.5" y1="768.4" x2="51.5" y2="772.9" stroke="#231f20" stroke-width="1" />
<text x="51.6" y="785.2" font-size="10" text-anchor="middle" stroke="#231f20" stroke-width="0.22">0</text>
<line x1="73.5" y1="768.4" x2="73.5" y2="772.9" stroke="#231f20" stroke-width="1" />
<text x="73.11" y="785.2" font-size="10" text-anchor="middle" stroke="#231f20" stroke-width="0.22">3</text>
<line x1="94.5" y1="768.4" x2="94.5" y2="772.9" stroke="#231f20" stroke-width="1" />
<text x="94.62" y="785.2" font-size="10" text-anchor="middle" stroke="#231f20" stroke-width="0.22">6</text>
<line x1="116.5" y1="768.4" x2="116.5" y2="772.9" stroke="#231f20" stroke-width="1" />
<text x="116.13" y="785.2" font-size="10" text-anchor="middle" stroke="#231f20" stroke-width="0.22">9</text>
<line x1="137.5" y1="768.4" x2="137.5" y2="772.9" stroke="#231f20" stroke-width="1" />
<text x="137.64" y="785.2" font-size="10" text-anchor="middle" stroke="#231f20" stroke-width="0.22">12</text>
<line x1="159.5" y1="768.4" x2="159.5" y2="772.9" stroke="#231f20" stroke-width="1" />
<text x="159.15" y="785.2" font-size="10" text-anchor="middle" stroke="#231f20" stroke-width="0.22">15</text>
<line x1="180.5" y1="768.4" x2="180.5" y2="772.9" stroke="#231f20" stroke-width="1" />
<text x="180.66" y="785.2" font-size="10" text-anchor="middle" stroke="#231f20" stroke-width="0.22">18</text>
<line x1="202.5" y1="768.4" x2="202.5" y2="772.9" stroke="#231f20" stroke-width="1" />
<text x="202.17" y="785.2" font-size="10" text-anchor="middle" stroke="#231f20" stroke-width="0.22">21</text>
<line x1="223.5" y1="768.4" x2="223.5" y2="772.9" stroke="#231f20" stroke-width="1" />
<text x="223.68" y="785.2" font-size="10" text-anchor="middle" stroke="#231f20" stroke-width="0.22">24</text>
<text x="135.2" y="798.6" font-size="10.2" text-anchor="middle" stroke="#231f20" stroke-width="0.22">Time (month)</text>
<text x="24.2" y="711" font-size="10.6" text-anchor="middle" transform="rotate(-90 24.2 711)" stroke="#231f20" stroke-width="0.22">Body weight (g)</text>
<path d="M73.11 687.6 L94.62 680.2 L116.13 678.8 L137.64 676.4 L159.15 672.4 L180.66 672 L202.17 670.6 L223.68 671.6" fill="none" stroke="#111" stroke-width="1.6" />
<line x1="71.11" y1="686.5" x2="75.11" y2="686.5" stroke="#111" stroke-width="0.8" />
<line x1="71.11" y1="689.5" x2="75.11" y2="689.5" stroke="#111" stroke-width="0.8" />
<line x1="73.5" y1="686.1" x2="73.5" y2="689.1" stroke="#111" stroke-width="0.8" />
<circle cx="73.11" cy="687.6" r="1.4" fill="#111" />
<line x1="92.62" y1="678.5" x2="96.62" y2="678.5" stroke="#111" stroke-width="0.8" />
<line x1="92.62" y1="681.5" x2="96.62" y2="681.5" stroke="#111" stroke-width="0.8" />
<line x1="94.5" y1="678.7" x2="94.5" y2="681.7" stroke="#111" stroke-width="0.8" />
<circle cx="94.62" cy="680.2" r="1.4" fill="#111" />
<line x1="114.13" y1="677.5" x2="118.13" y2="677.5" stroke="#111" stroke-width="0.8" />
<line x1="114.13" y1="680.5" x2="118.13" y2="680.5" stroke="#111" stroke-width="0.8" />
<line x1="116.5" y1="677.3" x2="116.5" y2="680.3" stroke="#111" stroke-width="0.8" />
<circle cx="116.13" cy="678.8" r="1.4" fill="#111" />
<line x1="135.64" y1="674.5" x2="139.64" y2="674.5" stroke="#111" stroke-width="0.8" />
<line x1="135.64" y1="677.5" x2="139.64" y2="677.5" stroke="#111" stroke-width="0.8" />
<line x1="137.5" y1="674.9" x2="137.5" y2="677.9" stroke="#111" stroke-width="0.8" />
<circle cx="137.64" cy="676.4" r="1.4" fill="#111" />
<line x1="157.15" y1="670.5" x2="161.15" y2="670.5" stroke="#111" stroke-width="0.8" />
<line x1="157.15" y1="673.5" x2="161.15" y2="673.5" stroke="#111" stroke-width="0.8" />
<line x1="159.5" y1="670.9" x2="159.5" y2="673.9" stroke="#111" stroke-width="0.8" />
<circle cx="159.15" cy="672.4" r="1.4" fill="#111" />
<line x1="178.66" y1="670.5" x2="182.66" y2="670.5" stroke="#111" stroke-width="0.8" />
<line x1="178.66" y1="673.5" x2="182.66" y2="673.5" stroke="#111" stroke-width="0.8" />
<line x1="180.5" y1="670.5" x2="180.5" y2="673.5" stroke="#111" stroke-width="0.8" />
<circle cx="180.66" cy="672" r="1.4" fill="#111" />
<line x1="200.17" y1="669.5" x2="204.17" y2="669.5" stroke="#111" stroke-width="0.8" />
<line x1="200.17" y1="672.5" x2="204.17" y2="672.5" stroke="#111" stroke-width="0.8" />
<line x1="202.5" y1="669.1" x2="202.5" y2="672.1" stroke="#111" stroke-width="0.8" />
<circle cx="202.17" cy="670.6" r="1.4" fill="#111" />
<line x1="221.68" y1="670.5" x2="225.68" y2="670.5" stroke="#111" stroke-width="0.8" />
<line x1="221.68" y1="673.5" x2="225.68" y2="673.5" stroke="#111" stroke-width="0.8" />
<line x1="223.5" y1="670.1" x2="223.5" y2="673.1" stroke="#111" stroke-width="0.8" />
<circle cx="223.68" cy="671.6" r="1.4" fill="#111" />
<path d="M73.11 695.6 L94.62 689.4 L116.13 687.8 L137.64 686 L159.15 681 L180.66 680 L202.17 674.4 L223.68 674.4" fill="none" stroke="#e8141b" stroke-width="1.6" />
<line x1="71.11" y1="694.5" x2="75.11" y2="694.5" stroke="#e8141b" stroke-width="0.8" />
<line x1="71.11" y1="697.5" x2="75.11" y2="697.5" stroke="#e8141b" stroke-width="0.8" />
<line x1="73.5" y1="694.1" x2="73.5" y2="697.1" stroke="#e8141b" stroke-width="0.8" />
<circle cx="73.11" cy="695.6" r="1.4" fill="#e8141b" />
<line x1="92.62" y1="687.5" x2="96.62" y2="687.5" stroke="#e8141b" stroke-width="0.8" />
<line x1="92.62" y1="690.5" x2="96.62" y2="690.5" stroke="#e8141b" stroke-width="0.8" />
<line x1="94.5" y1="687.9" x2="94.5" y2="690.9" stroke="#e8141b" stroke-width="0.8" />
<circle cx="94.62" cy="689.4" r="1.4" fill="#e8141b" />
<line x1="114.13" y1="686.5" x2="118.13" y2="686.5" stroke="#e8141b" stroke-width="0.8" />
<line x1="114.13" y1="689.5" x2="118.13" y2="689.5" stroke="#e8141b" stroke-width="0.8" />
<line x1="116.5" y1="686.3" x2="116.5" y2="689.3" stroke="#e8141b" stroke-width="0.8" />
<circle cx="116.13" cy="687.8" r="1.4" fill="#e8141b" />
<line x1="135.64" y1="684.5" x2="139.64" y2="684.5" stroke="#e8141b" stroke-width="0.8" />
<line x1="135.64" y1="687.5" x2="139.64" y2="687.5" stroke="#e8141b" stroke-width="0.8" />
<line x1="137.5" y1="684.5" x2="137.5" y2="687.5" stroke="#e8141b" stroke-width="0.8" />
<circle cx="137.64" cy="686" r="1.4" fill="#e8141b" />
<line x1="157.15" y1="679.5" x2="161.15" y2="679.5" stroke="#e8141b" stroke-width="0.8" />
<line x1="157.15" y1="682.5" x2="161.15" y2="682.5" stroke="#e8141b" stroke-width="0.8" />
<line x1="159.5" y1="679.5" x2="159.5" y2="682.5" stroke="#e8141b" stroke-width="0.8" />
<circle cx="159.15" cy="681" r="1.4" fill="#e8141b" />
<line x1="178.66" y1="678.5" x2="182.66" y2="678.5" stroke="#e8141b" stroke-width="0.8" />
<line x1="178.66" y1="681.5" x2="182.66" y2="681.5" stroke="#e8141b" stroke-width="0.8" />
<line x1="180.5" y1="678.5" x2="180.5" y2="681.5" stroke="#e8141b" stroke-width="0.8" />
<circle cx="180.66" cy="680" r="1.4" fill="#e8141b" />
<line x1="200.17" y1="672.5" x2="204.17" y2="672.5" stroke="#e8141b" stroke-width="0.8" />
<line x1="200.17" y1="675.5" x2="204.17" y2="675.5" stroke="#e8141b" stroke-width="0.8" />
<line x1="202.5" y1="672.9" x2="202.5" y2="675.9" stroke="#e8141b" stroke-width="0.8" />
<circle cx="202.17" cy="674.4" r="1.4" fill="#e8141b" />
<line x1="221.68" y1="672.5" x2="225.68" y2="672.5" stroke="#e8141b" stroke-width="0.8" />
<line x1="221.68" y1="675.5" x2="225.68" y2="675.5" stroke="#e8141b" stroke-width="0.8" />
<line x1="223.5" y1="672.9" x2="223.5" y2="675.9" stroke="#e8141b" stroke-width="0.8" />
<circle cx="223.68" cy="674.4" r="1.4" fill="#e8141b" />
<text x="54" y="667" font-size="6.1" stroke="#231f20" stroke-width="0.12">p=0.003</text>
<text x="77.45" y="667" font-size="6.1" stroke="#231f20" stroke-width="0.12">p=0.002</text>
<text x="100.9" y="667" font-size="6.1" stroke="#231f20" stroke-width="0.12">p=0.001</text>
<text x="124.35" y="667" font-size="6.1" stroke="#231f20" stroke-width="0.12">p&lt;0.001</text>
<text x="147.8" y="667" font-size="6.1" stroke="#231f20" stroke-width="0.12">p=0.001</text>
<text x="171.25" y="667" font-size="6.1" stroke="#231f20" stroke-width="0.12">p=0.002</text>
<text x="194.7" y="667" font-size="6.1" stroke="#231f20" stroke-width="0.12">p=0.257</text>
<text x="218.15" y="667" font-size="6.1" stroke="#231f20" stroke-width="0.12">p=0.560</text>
<line x1="69" y1="739" x2="84" y2="739" stroke="#111" stroke-width="1.6" />
<text x="93" y="742.8" font-size="10.2" stroke="#231f20" stroke-width="0.22">WT</text>
<line x1="69" y1="754.4" x2="84" y2="754.4" stroke="#e8141b" stroke-width="1.6" />
<text x="93" y="758.2" font-size="10.2" stroke="#231f20" stroke-width="0.22">KO</text>
<text x="251" y="631.4" font-size="14" font-weight="bold">i</text>
<text x="306.4" y="639.6" font-size="10.2" text-anchor="middle" stroke="#231f20" stroke-width="0.22">WT</text>
<text x="379" y="639.6" font-size="10.2" text-anchor="middle" stroke="#231f20" stroke-width="0.22">KO</text>
<text x="266.4" y="686" font-size="10.2" text-anchor="middle" transform="rotate(-90 266.4 686)" stroke="#231f20" stroke-width="0.22">Young</text>
<text x="266.4" y="754" font-size="10.2" text-anchor="middle" transform="rotate(-90 266.4 754)" stroke="#231f20" stroke-width="0.22">Aged</text>
<g clip-path="url(#hc1)">
<rect x="269.8" y="644.2" width="72" height="72" fill="#e8e8ee" />
<rect x="269.8" y="664.2" width="72" height="52" fill="#dce6f4" />
<ellipse cx="329.29" cy="691.96" rx="8.35" ry="0.55" fill="#80a8de" opacity="0.55" transform="rotate(-0.11 329.29 691.96)"/>
<ellipse cx="313.23" cy="700.79" rx="8.52" ry="0.46" fill="#80a8de" opacity="0.55" transform="rotate(-11.32 313.23 700.79)"/>
<ellipse cx="295.29" cy="711.6" rx="8.34" ry="0.4" fill="#80a8de" opacity="0.55" transform="rotate(-1.31 295.29 711.6)"/>
<ellipse cx="278.56" cy="708.4" rx="9.62" ry="0.94" fill="#80a8de" opacity="0.55" transform="rotate(-11.27 278.56 708.4)"/>
<ellipse cx="304.2" cy="688.91" rx="9.57" ry="0.63" fill="#80a8de" opacity="0.55" transform="rotate(-6.8 304.2 688.91)"/>
<ellipse cx="262.18" cy="700.02" rx="4.55" ry="0.66" fill="#80a8de" opacity="0.55" transform="rotate(-0.1 262.18 700.02)"/>
<ellipse cx="278.73" cy="694.73" rx="4.53" ry="0.68" fill="#80a8de" opacity="0.55" transform="rotate(-5.05 278.73 694.73)"/>
<ellipse cx="328.48" cy="688.8" rx="6.9" ry="0.79" fill="#80a8de" opacity="0.55" transform="rotate(-7.54 328.48 688.8)"/>
<ellipse cx="330.32" cy="715.99" rx="3.85" ry="0.6" fill="#80a8de" opacity="0.55" transform="rotate(5.32 330.32 715.99)"/>
<ellipse cx="336.59" cy="708.11" rx="5.95" ry="0.9" fill="#80a8de" opacity="0.55" transform="rotate(4.09 336.59 708.11)"/>
<ellipse cx="307.98" cy="696.69" rx="9.18" ry="0.91" fill="#80a8de" opacity="0.55" transform="rotate(0.13 307.98 696.69)"/>
<ellipse cx="262.63" cy="704.69" rx="4.7" ry="0.88" fill="#80a8de" opacity="0.55" transform="rotate(-2.06 262.63 704.69)"/>
<ellipse cx="304.8" cy="693.04" rx="7.92" ry="0.8" fill="#80a8de" opacity="0.55" transform="rotate(-3.01 304.8 693.04)"/>
<ellipse cx="301.49" cy="700.49" rx="8.45" ry="0.71" fill="#80a8de" opacity="0.55" transform="rotate(-2.56 301.49 700.49)"/>
<ellipse cx="262.23" cy="701.91" rx="3.3" ry="0.82" fill="#80a8de" opacity="0.55" transform="rotate(11.6 262.23 701.91)"/>
<ellipse cx="292.08" cy="704.81" rx="4.19" ry="0.7" fill="#80a8de" opacity="0.55" transform="rotate(11.57 292.08 704.81)"/>
<ellipse cx="304.05" cy="709.77" rx="9.02" ry="0.54" fill="#80a8de" opacity="0.55" transform="rotate(0.33 304.05 709.77)"/>
<ellipse cx="307.18" cy="714.87" rx="6.21" ry="0.56" fill="#80a8de" opacity="0.55" transform="rotate(1.15 307.18 714.87)"/>
<ellipse cx="260.27" cy="715" rx="8.49" ry="0.89" fill="#80a8de" opacity="0.55" transform="rotate(9.27 260.27 715)"/>
<ellipse cx="326.15" cy="708.93" rx="6.63" ry="0.74" fill="#80a8de" opacity="0.55" transform="rotate(-1.77 326.15 708.93)"/>
<ellipse cx="331.14" cy="689.77" rx="6.99" ry="0.52" fill="#80a8de" opacity="0.55" transform="rotate(0.11 331.14 689.77)"/>
<ellipse cx="289.06" cy="701.78" rx="5.42" ry="0.72" fill="#80a8de" opacity="0.55" transform="rotate(2.96 289.06 701.78)"/>
<ellipse cx="297.37" cy="705.35" rx="3.2" ry="0.54" fill="#80a8de" opacity="0.55" transform="rotate(-7.75 297.37 705.35)"/>
<ellipse cx="330.4" cy="704.56" rx="8.59" ry="0.88" fill="#80a8de" opacity="0.55" transform="rotate(7.59 330.4 704.56)"/>
<ellipse cx="328.82" cy="695.35" rx="7.71" ry="0.45" fill="#80a8de" opacity="0.55" transform="rotate(-11.6 328.82 695.35)"/>
<ellipse cx="321.76" cy="688.61" rx="4.75" ry="0.47" fill="#80a8de" opacity="0.55" transform="rotate(3 321.76 688.61)"/>
<ellipse cx="265.5" cy="697.84" rx="4.12" ry="0.72" fill="#80a8de" opacity="0.55" transform="rotate(-7.96 265.5 697.84)"/>
<ellipse cx="318.15" cy="695.84" rx="6.18" ry="0.59" fill="#80a8de" opacity="0.55" transform="rotate(-0.63 318.15 695.84)"/>
<ellipse cx="291.5" cy="688.86" rx="5.95" ry="0.51" fill="#80a8de" opacity="0.55" transform="rotate(-9.39 291.5 688.86)"/>
<ellipse cx="301.63" cy="713.39" rx="4.46" ry="0.76" fill="#80a8de" opacity="0.55" transform="rotate(7.61 301.63 713.39)"/>
<path d="M268.8 661.7 L270.86 661.54 L272.91 661.23 L274.97 660.93 L277.02 660.62 L279.08 660.31 L281.13 659.93 L283.19 659.52 L285.24 659.11 L287.3 658.7 L289.36 658.29 L291.41 657.96 L293.47 657.65 L295.52 657.34 L297.58 657.03 L299.63 656.73 L301.69 656.42 L303.74 656.11 L305.8 655.8 L307.86 655.49 L309.91 655.19 L311.97 654.98 L314.02 654.78 L316.08 654.57 L318.13 654.37 L320.19 654.2 L322.24 654.2 L324.3 654.2 L326.36 654.2 L328.41 654.2 L330.47 654.17 L332.52 654.09 L334.58 654 L336.63 653.92 L338.69 653.83 L340.74 653.74 L342.8 653.7 L342.8 684.2 L340.74 684.2 L338.69 684.2 L336.63 684.2 L334.58 684.2 L332.52 684.2 L330.47 684.2 L328.41 684.34 L326.36 684.54 L324.3 684.75 L322.24 684.96 L320.19 685.16 L318.13 685.37 L316.08 685.57 L314.02 685.78 L311.97 685.98 L309.91 686.19 L307.86 686.39 L305.8 686.6 L303.74 686.74 L301.69 686.8 L299.63 686.87 L297.58 686.94 L295.52 687.01 L293.47 687.08 L291.41 687.15 L289.36 687.22 L287.3 687.33 L285.24 687.43 L283.19 687.53 L281.13 687.63 L279.08 687.74 L277.02 687.84 L274.97 687.94 L272.91 688.04 L270.86 688.15 L268.8 688.2Z" fill="#8db3e3" />
<path d="M268.8 661.7 L270.86 661.54 L272.91 661.23 L274.97 660.93 L277.02 660.62 L279.08 660.31 L281.13 659.93 L283.19 659.52 L285.24 659.11 L287.3 658.7 L289.36 658.29 L291.41 657.96 L293.47 657.65 L295.52 657.34 L297.58 657.03 L299.63 656.73 L301.69 656.42 L303.74 656.11 L305.8 655.8 L307.86 655.49 L309.91 655.19 L311.97 654.98 L314.02 654.78 L316.08 654.57 L318.13 654.37 L320.19 654.2 L322.24 654.2 L324.3 654.2 L326.36 654.2 L328.41 654.2 L330.47 654.17 L332.52 654.09 L334.58 654 L336.63 653.92 L338.69 653.83 L340.74 653.74 L342.8 653.7 L342.8 684.2 L340.74 684.2 L338.69 684.2 L336.63 684.2 L334.58 684.2 L332.52 684.2 L330.47 684.2 L328.41 684.34 L326.36 684.54 L324.3 684.75 L322.24 684.96 L320.19 685.16 L318.13 685.37 L316.08 685.57 L314.02 685.78 L311.97 685.98 L309.91 686.19 L307.86 686.39 L305.8 686.6 L303.74 686.74 L301.69 686.8 L299.63 686.87 L297.58 686.94 L295.52 687.01 L293.47 687.08 L291.41 687.15 L289.36 687.22 L287.3 687.33 L285.24 687.43 L283.19 687.53 L281.13 687.63 L279.08 687.74 L277.02 687.84 L274.97 687.94 L272.91 688.04 L270.86 688.15 L268.8 688.2Z" fill="#fff" filter="url(#tex)" opacity="0.7"/>
<path d="M268.8 661.7 L270.86 661.54 L272.91 661.23 L274.97 660.93 L277.02 660.62 L279.08 660.31 L281.13 659.93 L283.19 659.52 L285.24 659.11 L287.3 658.7 L289.36 658.29 L291.41 657.96 L293.47 657.65 L295.52 657.34 L297.58 657.03 L299.63 656.73 L301.69 656.42 L303.74 656.11 L305.8 655.8 L307.86 655.49 L309.91 655.19 L311.97 654.98 L314.02 654.78 L316.08 654.57 L318.13 654.37 L320.19 654.2 L322.24 654.2 L324.3 654.2 L326.36 654.2 L328.41 654.2 L330.47 654.17 L332.52 654.09 L334.58 654 L336.63 653.92 L338.69 653.83 L340.74 653.74 L342.8 653.7" fill="none" stroke="#5d5aa6" stroke-width="1.2" stroke-linejoin="round"/>
<circle cx="271.3" cy="645.32" r="0.45" fill="#c0506a" opacity="0.75"/>
<circle cx="280.35" cy="649.87" r="0.45" fill="#c0506a" opacity="0.75"/>
<circle cx="281.34" cy="649.78" r="0.45" fill="#c0506a" opacity="0.75"/>
<circle cx="318.63" cy="648.74" r="0.45" fill="#c0506a" opacity="0.75"/>
<circle cx="285.68" cy="651.54" r="0.45" fill="#c0506a" opacity="0.75"/>
<circle cx="327.24" cy="648.56" r="0.45" fill="#c0506a" opacity="0.75"/>
<circle cx="285.87" cy="649.42" r="0.45" fill="#c0506a" opacity="0.75"/>
<circle cx="298.23" cy="648.94" r="0.45" fill="#c0506a" opacity="0.75"/>
<circle cx="292.93" cy="649.3" r="0.45" fill="#c0506a" opacity="0.75"/>
<circle cx="274.03" cy="647.14" r="0.45" fill="#c0506a" opacity="0.75"/>
<circle cx="339.49" cy="650.89" r="0.45" fill="#c0506a" opacity="0.75"/>
<circle cx="291.86" cy="650.78" r="0.45" fill="#c0506a" opacity="0.75"/>
<circle cx="292.15" cy="651.31" r="0.45" fill="#c0506a" opacity="0.75"/>
<circle cx="323.36" cy="647.91" r="0.45" fill="#c0506a" opacity="0.75"/>
<path d="M268.8 702.2 L270.86 702.16 L272.91 702.1 L274.97 702.03 L277.02 701.96 L279.08 701.89 L281.13 701.82 L283.19 701.75 L285.24 701.73 L287.3 701.87 L289.36 702 L291.41 702.14 L293.47 702.28 L295.52 702.41 L297.58 702.55 L299.63 702.69 L301.69 702.51 L303.74 702.31 L305.8 702.1 L307.86 701.89 L309.91 701.69 L311.97 701.48 L314.02 701.28 L316.08 701.2 L318.13 701.2 L320.19 701.2 L322.24 701.2 L324.3 701.2 L326.36 701.2 L328.41 701.2 L330.47 701.23 L332.52 701.31 L334.58 701.4 L336.63 701.48 L338.69 701.57 L340.74 701.66 L342.8 701.7 L342.8 714.2 L268.8 714.2Z" fill="#dca4b8" />
<ellipse cx="286.98" cy="701.8" rx="3.29" ry="1.25" fill="#c63660" transform="rotate(19.16 286.98 701.8)"/>
<ellipse cx="340.93" cy="708.26" rx="2.09" ry="2.24" fill="#c63660" transform="rotate(28.43 340.93 708.26)"/>
<ellipse cx="321.31" cy="707.55" rx="2.44" ry="1.62" fill="#c63660" transform="rotate(-17.65 321.31 707.55)"/>
<ellipse cx="319.04" cy="706.68" rx="2.13" ry="1.33" fill="#c63660" transform="rotate(9.96 319.04 706.68)"/>
<ellipse cx="290.3" cy="707.45" rx="2.35" ry="2.25" fill="#c63660" transform="rotate(23.98 290.3 707.45)"/>
<ellipse cx="269.18" cy="704.01" rx="2.36" ry="2.38" fill="#c63660" transform="rotate(16.96 269.18 704.01)"/>
<ellipse cx="293.57" cy="704.15" rx="2.95" ry="2.21" fill="#c63660" transform="rotate(25.93 293.57 704.15)"/>
<ellipse cx="293.93" cy="711.85" rx="2.97" ry="1.78" fill="#c63660" transform="rotate(29.13 293.93 711.85)"/>
<ellipse cx="285.63" cy="710.04" rx="1.94" ry="1.4" fill="#c63660" transform="rotate(24.66 285.63 710.04)"/>
<ellipse cx="283.99" cy="710.43" rx="2.82" ry="2.21" fill="#c63660" transform="rotate(-7.91 283.99 710.43)"/>
<ellipse cx="293.66" cy="705.05" rx="3.27" ry="1.92" fill="#c63660" transform="rotate(27.26 293.66 705.05)"/>
<ellipse cx="335.23" cy="703.26" rx="2.74" ry="1.33" fill="#c63660" transform="rotate(-27.65 335.23 703.26)"/>
<ellipse cx="273.36" cy="711.66" rx="3.14" ry="2.19" fill="#c63660" transform="rotate(-9.55 273.36 711.66)"/>
<ellipse cx="314.55" cy="710.69" rx="2.44" ry="1.88" fill="#c63660" transform="rotate(-16.58 314.55 710.69)"/>
<ellipse cx="274.01" cy="704.77" rx="3.31" ry="1.88" fill="#c63660" transform="rotate(25.5 274.01 704.77)"/>
<ellipse cx="302.59" cy="704.89" rx="3.14" ry="2.19" fill="#c63660" transform="rotate(-29.26 302.59 704.89)"/>
<ellipse cx="318.75" cy="702.75" rx="2" ry="2.26" fill="#c63660" transform="rotate(-27.6 318.75 702.75)"/>
<ellipse cx="286.01" cy="713.06" rx="2.52" ry="1.34" fill="#c63660" transform="rotate(-19.96 286.01 713.06)"/>
<ellipse cx="286.15" cy="710.26" rx="1.97" ry="2.29" fill="#c63660" transform="rotate(-7.3 286.15 710.26)"/>
<ellipse cx="341.54" cy="712.16" rx="2.3" ry="1.5" fill="#c63660" transform="rotate(-1.38 341.54 712.16)"/>
<ellipse cx="275.41" cy="709.2" rx="1.87" ry="1.21" fill="#c63660" transform="rotate(28.96 275.41 709.2)"/>
<ellipse cx="290.26" cy="708.56" rx="2.56" ry="1.58" fill="#c63660" transform="rotate(-26.22 290.26 708.56)"/>
<ellipse cx="337.22" cy="712.85" rx="3.45" ry="1.33" fill="#c63660" transform="rotate(-17.09 337.22 712.85)"/>
<ellipse cx="314.75" cy="712.97" rx="2.72" ry="2.03" fill="#c63660" transform="rotate(9.71 314.75 712.97)"/>
<ellipse cx="287.49" cy="707.93" rx="2.32" ry="1.5" fill="#c63660" transform="rotate(-25.12 287.49 707.93)"/>
<ellipse cx="289.14" cy="713.01" rx="2.56" ry="1.98" fill="#c63660" transform="rotate(8.61 289.14 713.01)"/>
<ellipse cx="339.3" cy="706.19" rx="2.32" ry="1.59" fill="#c63660" transform="rotate(-11 339.3 706.19)"/>
<ellipse cx="332.18" cy="711.98" rx="2.31" ry="1.6" fill="#c63660" transform="rotate(2.65 332.18 711.98)"/>
<ellipse cx="311.8" cy="708.55" rx="2.22" ry="1.22" fill="#c63660" transform="rotate(-15.37 311.8 708.55)"/>
<ellipse cx="273.3" cy="708.04" rx="1.92" ry="1.29" fill="#c63660" transform="rotate(8.12 273.3 708.04)"/>
<ellipse cx="289.9" cy="710.81" rx="2.64" ry="2.24" fill="#c63660" transform="rotate(-20.75 289.9 710.81)"/>
<ellipse cx="305.91" cy="710.84" rx="1.93" ry="2.34" fill="#c63660" transform="rotate(-19.61 305.91 710.84)"/>
<ellipse cx="326.79" cy="713.03" rx="3.2" ry="1.58" fill="#c63660" transform="rotate(-23.59 326.79 713.03)"/>
<ellipse cx="306.89" cy="712.27" rx="2.3" ry="2.27" fill="#c63660" transform="rotate(-21.5 306.89 712.27)"/>
<ellipse cx="337" cy="702.07" rx="2.34" ry="2.28" fill="#c63660" transform="rotate(18.23 337 702.07)"/>
<ellipse cx="336.74" cy="711.37" rx="3.07" ry="2.03" fill="#c63660" transform="rotate(-19.31 336.74 711.37)"/>
<ellipse cx="300.68" cy="703.52" rx="3.02" ry="2" fill="#c63660" transform="rotate(-14.84 300.68 703.52)"/>
<ellipse cx="272.7" cy="712.78" rx="3.17" ry="1.86" fill="#c63660" transform="rotate(2.48 272.7 712.78)"/>
<ellipse cx="332.5" cy="706.91" rx="2.47" ry="1.61" fill="#c63660" transform="rotate(-14.52 332.5 706.91)"/>
<ellipse cx="269.66" cy="709.13" rx="2.51" ry="1.88" fill="#c63660" transform="rotate(-26.26 269.66 709.13)"/>
<ellipse cx="294.78" cy="703.29" rx="2.01" ry="1.51" fill="#c63660" transform="rotate(19.74 294.78 703.29)"/>
<ellipse cx="298.03" cy="706.31" rx="2.84" ry="1.48" fill="#c63660" transform="rotate(-29.55 298.03 706.31)"/>
<ellipse cx="307.98" cy="707.46" rx="2.9" ry="1.73" fill="#c63660" transform="rotate(11.19 307.98 707.46)"/>
<ellipse cx="323.39" cy="704.44" rx="2.64" ry="1.77" fill="#c63660" transform="rotate(-16.5 323.39 704.44)"/>
<ellipse cx="299.13" cy="708.14" rx="3.34" ry="2.3" fill="#c63660" transform="rotate(-13.49 299.13 708.14)"/>
<ellipse cx="316.93" cy="702.25" rx="1.92" ry="1.81" fill="#c63660" transform="rotate(22.65 316.93 702.25)"/>
<ellipse cx="279.92" cy="710.51" rx="3.3" ry="1.57" fill="#c63660" transform="rotate(11.55 279.92 710.51)"/>
<ellipse cx="332.32" cy="705.97" rx="2.99" ry="2.08" fill="#c63660" transform="rotate(5.67 332.32 705.97)"/>
<ellipse cx="332.88" cy="712.01" rx="3.43" ry="1.89" fill="#c63660" transform="rotate(-19.42 332.88 712.01)"/>
<ellipse cx="286.85" cy="704.2" rx="2.77" ry="2.11" fill="#c63660" transform="rotate(-26.87 286.85 704.2)"/>
<ellipse cx="319.6" cy="709.95" rx="2.39" ry="1.82" fill="#c63660" transform="rotate(-20.11 319.6 709.95)"/>
<ellipse cx="323.27" cy="702.17" rx="3.47" ry="2.17" fill="#c63660" transform="rotate(7.71 323.27 702.17)"/>
<ellipse cx="288.13" cy="712.2" rx="3.43" ry="1.37" fill="#c63660" transform="rotate(16.55 288.13 712.2)"/>
<ellipse cx="331.79" cy="709.29" rx="2.99" ry="1.73" fill="#c63660" transform="rotate(25.46 331.79 709.29)"/>
<ellipse cx="341.61" cy="706.1" rx="3.16" ry="1.72" fill="#c63660" transform="rotate(-20.11 341.61 706.1)"/>
<ellipse cx="292.54" cy="703.15" rx="3.35" ry="2.35" fill="#c63660" transform="rotate(-22.85 292.54 703.15)"/>
<ellipse cx="313.45" cy="706.39" rx="2" ry="1.55" fill="#c63660" transform="rotate(-15.11 313.45 706.39)"/>
<ellipse cx="324.77" cy="701.75" rx="2.12" ry="1.73" fill="#c63660" transform="rotate(-28.74 324.77 701.75)"/>
<ellipse cx="315.49" cy="708.66" rx="3.22" ry="1.45" fill="#c63660" transform="rotate(-12.91 315.49 708.66)"/>
<ellipse cx="309.02" cy="704.84" rx="2.8" ry="1.5" fill="#c63660" transform="rotate(11.01 309.02 704.84)"/>
<ellipse cx="327.92" cy="711" rx="3.46" ry="1.85" fill="#c63660" transform="rotate(-0.55 327.92 711)"/>
<ellipse cx="332.83" cy="710.54" rx="2.77" ry="1.66" fill="#c63660" transform="rotate(-12.96 332.83 710.54)"/>
<ellipse cx="276.02" cy="710.99" rx="2" ry="2.1" fill="#c63660" transform="rotate(2.72 276.02 710.99)"/>
<ellipse cx="341.14" cy="710.45" rx="3.45" ry="1.36" fill="#c63660" transform="rotate(0.02 341.14 710.45)"/>
<ellipse cx="311.32" cy="705.28" rx="2.66" ry="1.63" fill="#c63660" transform="rotate(1.7 311.32 705.28)"/>
<ellipse cx="267.86" cy="706.79" rx="2.56" ry="1.57" fill="#c63660" transform="rotate(-6.04 267.86 706.79)"/>
<ellipse cx="327.31" cy="709.56" rx="2.64" ry="1.98" fill="#c63660" transform="rotate(-7.35 327.31 709.56)"/>
<ellipse cx="283.3" cy="701.74" rx="2.27" ry="1.92" fill="#c63660" transform="rotate(22.9 283.3 701.74)"/>
<ellipse cx="330.84" cy="707.58" rx="3.48" ry="1.75" fill="#c63660" transform="rotate(20.08 330.84 707.58)"/>
<ellipse cx="298.88" cy="710.26" rx="3.48" ry="1.57" fill="#c63660" transform="rotate(-19.78 298.88 710.26)"/>
<ellipse cx="314.92" cy="707.81" rx="2.41" ry="1.2" fill="#c63660" transform="rotate(-6.65 314.92 707.81)"/>
<ellipse cx="300.17" cy="706.36" rx="3.26" ry="1.9" fill="#c63660" transform="rotate(14.03 300.17 706.36)"/>
<ellipse cx="336.04" cy="710.31" rx="2.64" ry="2.09" fill="#c63660" transform="rotate(8.42 336.04 710.31)"/>
<ellipse cx="317.1" cy="708.94" rx="2.49" ry="1.96" fill="#c63660" transform="rotate(8.02 317.1 708.94)"/>
<ellipse cx="339.02" cy="710.7" rx="3.24" ry="2.12" fill="#c63660" transform="rotate(18.92 339.02 710.7)"/>
<ellipse cx="313.82" cy="705.72" rx="2.25" ry="2.05" fill="#c63660" transform="rotate(22.44 313.82 705.72)"/>
<ellipse cx="309.16" cy="703.45" rx="3.22" ry="1.78" fill="#c63660" transform="rotate(-1.97 309.16 703.45)"/>
<ellipse cx="271.25" cy="707.57" rx="3.07" ry="1.71" fill="#c63660" transform="rotate(-8.69 271.25 707.57)"/>
<ellipse cx="317.72" cy="701.93" rx="2.66" ry="2.34" fill="#c63660" transform="rotate(11.43 317.72 701.93)"/>
<ellipse cx="298.35" cy="709.62" rx="2.83" ry="1.45" fill="#c63660" transform="rotate(-17.54 298.35 709.62)"/>
<ellipse cx="335.14" cy="704.79" rx="1.93" ry="2.2" fill="#c63660" transform="rotate(1.39 335.14 704.79)"/>
<ellipse cx="295.78" cy="707.58" rx="3.05" ry="1.4" fill="#c63660" transform="rotate(9.18 295.78 707.58)"/>
<ellipse cx="322.02" cy="711.07" rx="2.26" ry="1.93" fill="#c63660" transform="rotate(-16.07 322.02 711.07)"/>
<ellipse cx="310.44" cy="703.68" rx="3.14" ry="2.24" fill="#c63660" transform="rotate(-10.22 310.44 703.68)"/>
<ellipse cx="284.7" cy="712.78" rx="3" ry="2.21" fill="#c63660" transform="rotate(-28.17 284.7 712.78)"/>
<ellipse cx="336.15" cy="708.86" rx="2.34" ry="1.72" fill="#c63660" transform="rotate(15.7 336.15 708.86)"/>
<ellipse cx="327.49" cy="703.88" rx="2.86" ry="1.4" fill="#c63660" transform="rotate(28.38 327.49 703.88)"/>
<ellipse cx="301.51" cy="712.2" rx="3.04" ry="1.93" fill="#c63660" transform="rotate(-14.28 301.51 712.2)"/>
<ellipse cx="307.82" cy="703.29" rx="2.03" ry="2.06" fill="#c63660" transform="rotate(-8.33 307.82 703.29)"/>
<ellipse cx="324.9" cy="704.47" rx="3.02" ry="2.06" fill="#c63660" transform="rotate(-11.67 324.9 704.47)"/>
<ellipse cx="275.89" cy="706.27" rx="2.64" ry="1.32" fill="#c63660" transform="rotate(-18.79 275.89 706.27)"/>
<ellipse cx="272.01" cy="708.57" rx="3.31" ry="1.46" fill="#c63660" transform="rotate(-27.92 272.01 708.57)"/>
<ellipse cx="321.3" cy="711.07" rx="3.44" ry="1.94" fill="#c63660" transform="rotate(-9.45 321.3 711.07)"/>
<ellipse cx="331.48" cy="703.06" rx="2.98" ry="1.31" fill="#c63660" transform="rotate(-6.02 331.48 703.06)"/>
<ellipse cx="305.42" cy="706.05" rx="2.09" ry="1.48" fill="#c63660" transform="rotate(19.21 305.42 706.05)"/>
<ellipse cx="300" cy="661.6" rx="1.5" ry="2" fill="#c0386a" opacity="0.92"/>
<ellipse cx="306" cy="665" rx="2" ry="2.5" fill="#c0386a" opacity="0.92"/>
<ellipse cx="306" cy="665" rx="0.7" ry="0.88" fill="#d88aa8"/>
<ellipse cx="304" cy="662.5" rx="1.5" ry="2" fill="#c0386a" opacity="0.92"/>
<ellipse cx="276" cy="670" rx="3" ry="2.6" fill="#c0386a" opacity="0.92"/>
<ellipse cx="276" cy="670" rx="1.05" ry="0.91" fill="#d88aa8"/>
<ellipse cx="280" cy="671" rx="2" ry="2" fill="#c0386a" opacity="0.92"/>
<ellipse cx="280" cy="671" rx="0.7" ry="0.7" fill="#d88aa8"/>
<ellipse cx="328.7" cy="668.4" rx="1.8" ry="2.4" fill="#c0386a" opacity="0.92"/>
<ellipse cx="334" cy="668" rx="1.5" ry="2.2" fill="#c0386a" opacity="0.92"/>
<ellipse cx="322" cy="672" rx="1.5" ry="2.2" fill="#c0386a" opacity="0.92"/>
<ellipse cx="322.5" cy="675.8" rx="1.5" ry="2.2" fill="#c0386a" opacity="0.92"/>
<ellipse cx="328.7" cy="676.8" rx="1.5" ry="2.2" fill="#c0386a" opacity="0.92"/>
<ellipse cx="284.5" cy="683.7" rx="1.5" ry="2" fill="#c0386a" opacity="0.92"/>
<ellipse cx="292.5" cy="683.6" rx="1.5" ry="2.1" fill="#c0386a" opacity="0.92"/>
<ellipse cx="298" cy="683.7" rx="1.8" ry="2.1" fill="#c0386a" opacity="0.92"/>
<ellipse cx="302" cy="683" rx="1.8" ry="2.1" fill="#c0386a" opacity="0.92"/>
<ellipse cx="315.2" cy="689.2" rx="3.2" ry="3" fill="#c0386a" opacity="0.92"/>
<ellipse cx="315.2" cy="689.2" rx="1.28" ry="1.2" fill="#ecc4d2"/>
<ellipse cx="331.9" cy="688.7" rx="3.5" ry="3" fill="#c0386a" opacity="0.92"/>
<ellipse cx="331.9" cy="688.7" rx="1.4" ry="1.2" fill="#ecc4d2"/>
<ellipse cx="338" cy="689.8" rx="2" ry="2" fill="#c0386a" opacity="0.92"/>
<ellipse cx="338" cy="689.8" rx="0.7" ry="0.7" fill="#d88aa8"/>
<ellipse cx="271" cy="696" rx="1.8" ry="2" fill="#c0386a" opacity="0.92"/>
<ellipse cx="288.5" cy="677.5" rx="1.5" ry="2" fill="#c0386a" opacity="0.92"/>
</g>
<g clip-path="url(#hc2)">
<rect x="344.8" y="644.2" width="72" height="72" fill="#e8e8ee" />
<rect x="344.8" y="664.2" width="72" height="52" fill="#dce6f4" />
<ellipse cx="412.52" cy="714.71" rx="3.4" ry="0.45" fill="#80a8de" opacity="0.55" transform="rotate(8.05 412.52 714.71)"/>
<ellipse cx="389.72" cy="707.22" rx="5.16" ry="0.76" fill="#80a8de" opacity="0.55" transform="rotate(2.56 389.72 707.22)"/>
<ellipse cx="347.79" cy="701.96" rx="6.01" ry="0.64" fill="#80a8de" opacity="0.55" transform="rotate(5.35 347.79 701.96)"/>
<ellipse cx="412.65" cy="716.02" rx="6.81" ry="0.67" fill="#80a8de" opacity="0.55" transform="rotate(-5.56 412.65 716.02)"/>
<ellipse cx="337.05" cy="683.42" rx="6.25" ry="0.59" fill="#80a8de" opacity="0.55" transform="rotate(-2.88 337.05 683.42)"/>
<ellipse cx="377.91" cy="712.52" rx="6.92" ry="0.54" fill="#80a8de" opacity="0.55" transform="rotate(-11.43 377.91 712.52)"/>
<ellipse cx="346.01" cy="693.25" rx="6.57" ry="1" fill="#80a8de" opacity="0.55" transform="rotate(4.19 346.01 693.25)"/>
<ellipse cx="408.07" cy="688.38" rx="8.58" ry="0.84" fill="#80a8de" opacity="0.55" transform="rotate(9.76 408.07 688.38)"/>
<ellipse cx="399.56" cy="708.14" rx="5.48" ry="0.99" fill="#80a8de" opacity="0.55" transform="rotate(11.09 399.56 708.14)"/>
<ellipse cx="396.63" cy="687.68" rx="8.01" ry="0.68" fill="#80a8de" opacity="0.55" transform="rotate(0.73 396.63 687.68)"/>
<ellipse cx="410.64" cy="698.86" rx="6.51" ry="0.9" fill="#80a8de" opacity="0.55" transform="rotate(-3.51 410.64 698.86)"/>
<ellipse cx="408.58" cy="712.22" rx="6.23" ry="0.74" fill="#80a8de" opacity="0.55" transform="rotate(10.09 408.58 712.22)"/>
<ellipse cx="374.7" cy="706.81" rx="4.55" ry="0.59" fill="#80a8de" opacity="0.55" transform="rotate(4.79 374.7 706.81)"/>
<ellipse cx="409.25" cy="687.85" rx="4.88" ry="0.95" fill="#80a8de" opacity="0.55" transform="rotate(-4.57 409.25 687.85)"/>
<ellipse cx="392.71" cy="714.75" rx="6.53" ry="0.71" fill="#80a8de" opacity="0.55" transform="rotate(3.63 392.71 714.75)"/>
<ellipse cx="360.37" cy="702.19" rx="4.45" ry="0.71" fill="#80a8de" opacity="0.55" transform="rotate(10.42 360.37 702.19)"/>
<ellipse cx="340.98" cy="703.39" rx="8.74" ry="0.84" fill="#80a8de" opacity="0.55" transform="rotate(9.78 340.98 703.39)"/>
<ellipse cx="395.87" cy="688.71" rx="3.41" ry="0.79" fill="#80a8de" opacity="0.55" transform="rotate(-5.45 395.87 688.71)"/>
<ellipse cx="406.59" cy="689.9" rx="3.74" ry="0.71" fill="#80a8de" opacity="0.55" transform="rotate(8.49 406.59 689.9)"/>
<ellipse cx="352.06" cy="690.52" rx="9.16" ry="0.65" fill="#80a8de" opacity="0.55" transform="rotate(5.21 352.06 690.52)"/>
<ellipse cx="364.51" cy="683.28" rx="4.2" ry="0.8" fill="#80a8de" opacity="0.55" transform="rotate(-10.01 364.51 683.28)"/>
<ellipse cx="336.88" cy="714.66" rx="8.11" ry="0.41" fill="#80a8de" opacity="0.55" transform="rotate(-5.86 336.88 714.66)"/>
<ellipse cx="347.68" cy="709.85" rx="4.29" ry="0.81" fill="#80a8de" opacity="0.55" transform="rotate(-2.75 347.68 709.85)"/>
<ellipse cx="415.98" cy="683.67" rx="4.06" ry="0.42" fill="#80a8de" opacity="0.55" transform="rotate(-3.74 415.98 683.67)"/>
<ellipse cx="395.68" cy="703.12" rx="3.79" ry="0.6" fill="#80a8de" opacity="0.55" transform="rotate(-11.26 395.68 703.12)"/>
<ellipse cx="397.61" cy="697.45" rx="8.18" ry="0.94" fill="#80a8de" opacity="0.55" transform="rotate(6.14 397.61 697.45)"/>
<ellipse cx="392.64" cy="711.52" rx="6.31" ry="0.54" fill="#80a8de" opacity="0.55" transform="rotate(3.86 392.64 711.52)"/>
<ellipse cx="343.17" cy="692.95" rx="6.13" ry="0.92" fill="#80a8de" opacity="0.55" transform="rotate(-8.94 343.17 692.95)"/>
<ellipse cx="367.02" cy="702.09" rx="6.6" ry="0.49" fill="#80a8de" opacity="0.55" transform="rotate(11.03 367.02 702.09)"/>
<ellipse cx="384.5" cy="691.01" rx="5.94" ry="0.41" fill="#80a8de" opacity="0.55" transform="rotate(1.39 384.5 691.01)"/>
<path d="M343.8 652.2 L345.86 652.12 L347.91 651.97 L349.97 651.81 L352.02 651.66 L354.08 651.5 L356.13 651.35 L358.19 651.2 L360.24 651.04 L362.3 650.89 L364.36 650.73 L366.41 650.9 L368.47 651.16 L370.52 651.42 L372.58 651.67 L374.63 651.93 L376.69 652.19 L378.74 652.44 L380.8 652.7 L382.86 652.96 L384.91 653.21 L386.97 653.42 L389.02 653.62 L391.08 653.83 L393.13 654.03 L395.19 654.24 L397.24 654.44 L399.3 654.65 L401.36 654.16 L403.41 653.44 L405.47 652.72 L407.52 652 L409.58 651.28 L411.63 650.94 L413.69 650.64 L415.74 650.35 L417.8 650.2 L417.8 677.2 L415.74 677.29 L413.69 677.46 L411.63 677.63 L409.58 677.8 L407.52 677.97 L405.47 678.14 L403.41 678.32 L401.36 678.49 L399.3 678.66 L397.24 678.83 L395.19 679 L393.13 679.17 L391.08 679.34 L389.02 679.51 L386.97 679.69 L384.91 679.86 L382.86 680.03 L380.8 680.2 L378.74 680.31 L376.69 680.43 L374.63 680.54 L372.58 680.66 L370.52 680.77 L368.47 680.89 L366.41 681 L364.36 681.11 L362.3 681.23 L360.24 681.34 L358.19 681.46 L356.13 681.57 L354.08 681.68 L352.02 681.8 L349.97 681.91 L347.91 682.03 L345.86 682.14 L343.8 682.2Z" fill="#8ab1e2" />
<path d="M343.8 652.2 L345.86 652.12 L347.91 651.97 L349.97 651.81 L352.02 651.66 L354.08 651.5 L356.13 651.35 L358.19 651.2 L360.24 651.04 L362.3 650.89 L364.36 650.73 L366.41 650.9 L368.47 651.16 L370.52 651.42 L372.58 651.67 L374.63 651.93 L376.69 652.19 L378.74 652.44 L380.8 652.7 L382.86 652.96 L384.91 653.21 L386.97 653.42 L389.02 653.62 L391.08 653.83 L393.13 654.03 L395.19 654.24 L397.24 654.44 L399.3 654.65 L401.36 654.16 L403.41 653.44 L405.47 652.72 L407.52 652 L409.58 651.28 L411.63 650.94 L413.69 650.64 L415.74 650.35 L417.8 650.2 L417.8 677.2 L415.74 677.29 L413.69 677.46 L411.63 677.63 L409.58 677.8 L407.52 677.97 L405.47 678.14 L403.41 678.32 L401.36 678.49 L399.3 678.66 L397.24 678.83 L395.19 679 L393.13 679.17 L391.08 679.34 L389.02 679.51 L386.97 679.69 L384.91 679.86 L382.86 680.03 L380.8 680.2 L378.74 680.31 L376.69 680.43 L374.63 680.54 L372.58 680.66 L370.52 680.77 L368.47 680.89 L366.41 681 L364.36 681.11 L362.3 681.23 L360.24 681.34 L358.19 681.46 L356.13 681.57 L354.08 681.68 L352.02 681.8 L349.97 681.91 L347.91 682.03 L345.86 682.14 L343.8 682.2Z" fill="#fff" filter="url(#tex)" opacity="0.7"/>
<path d="M343.8 652.2 L345.86 652.12 L347.91 651.97 L349.97 651.81 L352.02 651.66 L354.08 651.5 L356.13 651.35 L358.19 651.2 L360.24 651.04 L362.3 650.89 L364.36 650.73 L366.41 650.9 L368.47 651.16 L370.52 651.42 L372.58 651.67 L374.63 651.93 L376.69 652.19 L378.74 652.44 L380.8 652.7 L382.86 652.96 L384.91 653.21 L386.97 653.42 L389.02 653.62 L391.08 653.83 L393.13 654.03 L395.19 654.24 L397.24 654.44 L399.3 654.65 L401.36 654.16 L403.41 653.44 L405.47 652.72 L407.52 652 L409.58 651.28 L411.63 650.94 L413.69 650.64 L415.74 650.35 L417.8 650.2" fill="none" stroke="#5d5aa6" stroke-width="1.2" stroke-linejoin="round"/>
<circle cx="354.92" cy="645.37" r="0.45" fill="#c0506a" opacity="0.75"/>
<circle cx="347.22" cy="645.68" r="0.45" fill="#c0506a" opacity="0.75"/>
<circle cx="351.7" cy="647.11" r="0.45" fill="#c0506a" opacity="0.75"/>
<circle cx="381.39" cy="648.15" r="0.45" fill="#c0506a" opacity="0.75"/>
<circle cx="412.06" cy="648.18" r="0.45" fill="#c0506a" opacity="0.75"/>
<circle cx="361.54" cy="646.53" r="0.45" fill="#c0506a" opacity="0.75"/>
<circle cx="362.86" cy="646.97" r="0.45" fill="#c0506a" opacity="0.75"/>
<circle cx="389.74" cy="647.6" r="0.45" fill="#c0506a" opacity="0.75"/>
<circle cx="395.88" cy="645.97" r="0.45" fill="#c0506a" opacity="0.75"/>
<circle cx="375.26" cy="646.78" r="0.45" fill="#c0506a" opacity="0.75"/>
<circle cx="345.15" cy="645.31" r="0.45" fill="#c0506a" opacity="0.75"/>
<circle cx="374.23" cy="645.53" r="0.45" fill="#c0506a" opacity="0.75"/>
<circle cx="396.91" cy="645.92" r="0.45" fill="#c0506a" opacity="0.75"/>
<circle cx="351.98" cy="645.75" r="0.45" fill="#c0506a" opacity="0.75"/>
<path d="M343.8 704.2 L345.86 704.25 L347.91 704.36 L349.97 704.46 L352.02 704.56 L354.08 704.66 L356.13 704.77 L358.19 704.87 L360.24 704.97 L362.3 705.08 L364.36 705.18 L366.41 705.08 L368.47 704.93 L370.52 704.77 L372.58 704.62 L374.63 704.46 L376.69 704.31 L378.74 704.15 L380.8 704 L382.86 703.85 L384.91 703.7 L386.97 703.75 L389.02 703.81 L391.08 703.86 L393.13 703.91 L395.19 703.96 L397.24 704.01 L399.3 704.06 L401.36 704.11 L403.41 704.17 L405.47 704.14 L407.52 703.97 L409.58 703.8 L411.63 703.63 L413.69 703.46 L415.74 703.29 L417.8 703.2 L417.8 715.2 L343.8 715.2Z" fill="#e6d2de" />
<ellipse cx="360.4" cy="705.98" rx="2.69" ry="1.76" fill="#c63660" transform="rotate(-11.42 360.4 705.98)"/>
<ellipse cx="391.57" cy="705.93" rx="3.34" ry="2.36" fill="#c63660" transform="rotate(13.74 391.57 705.93)"/>
<ellipse cx="375.76" cy="709.07" rx="2.79" ry="1.26" fill="#c63660" transform="rotate(-4.92 375.76 709.07)"/>
<ellipse cx="382.7" cy="705.6" rx="1.96" ry="2.16" fill="#c63660" transform="rotate(-8.03 382.7 705.6)"/>
<ellipse cx="382.26" cy="713.38" rx="2.84" ry="1.55" fill="#c63660" transform="rotate(29.01 382.26 713.38)"/>
<ellipse cx="371.09" cy="703.9" rx="2.97" ry="1.32" fill="#c63660" transform="rotate(-11.64 371.09 703.9)"/>
<ellipse cx="406.69" cy="710.76" rx="1.83" ry="1.74" fill="#c63660" transform="rotate(-5.36 406.69 710.76)"/>
<ellipse cx="379.73" cy="705.89" rx="2.8" ry="1.29" fill="#c63660" transform="rotate(-12.94 379.73 705.89)"/>
<ellipse cx="371.14" cy="713.52" rx="1.93" ry="2.11" fill="#c63660" transform="rotate(-18.46 371.14 713.52)"/>
<ellipse cx="386.24" cy="707.81" rx="2.59" ry="2.1" fill="#c63660" transform="rotate(-6.3 386.24 707.81)"/>
<ellipse cx="352.05" cy="704.98" rx="1.94" ry="2.22" fill="#c63660" transform="rotate(8.46 352.05 704.98)"/>
<ellipse cx="415.73" cy="710.97" rx="1.84" ry="1.99" fill="#c63660" transform="rotate(16.63 415.73 710.97)"/>
<ellipse cx="397.79" cy="708.93" rx="2.41" ry="1.75" fill="#c63660" transform="rotate(17.92 397.79 708.93)"/>
<ellipse cx="363.24" cy="709.23" rx="2.61" ry="2.35" fill="#c63660" transform="rotate(18.26 363.24 709.23)"/>
<ellipse cx="413.64" cy="712.48" rx="2.3" ry="1.48" fill="#c63660" transform="rotate(-0.67 413.64 712.48)"/>
<ellipse cx="362.51" cy="708.19" rx="2.95" ry="2.3" fill="#c63660" transform="rotate(5.15 362.51 708.19)"/>
<ellipse cx="404.96" cy="704.71" rx="2.41" ry="2.4" fill="#c63660" transform="rotate(-21.21 404.96 704.71)"/>
<ellipse cx="374.47" cy="704.4" rx="1.95" ry="2.27" fill="#c63660" transform="rotate(29.32 374.47 704.4)"/>
<ellipse cx="392.05" cy="705.05" rx="2.3" ry="1.48" fill="#c63660" transform="rotate(10.24 392.05 705.05)"/>
<ellipse cx="394.56" cy="708.31" rx="2.69" ry="1.33" fill="#c63660" transform="rotate(2.45 394.56 708.31)"/>
<ellipse cx="415" cy="711.64" rx="1.96" ry="1.82" fill="#c63660" transform="rotate(12.92 415 711.64)"/>
<ellipse cx="362.35" cy="713.1" rx="2.58" ry="2.04" fill="#c63660" transform="rotate(-5.75 362.35 713.1)"/>
<ellipse cx="418.43" cy="711.92" rx="2.77" ry="1.37" fill="#c63660" transform="rotate(-3.53 418.43 711.92)"/>
<ellipse cx="345.03" cy="709.95" rx="3.3" ry="1.42" fill="#c63660" transform="rotate(0.61 345.03 709.95)"/>
<ellipse cx="379.47" cy="707.95" rx="3.01" ry="2.32" fill="#c63660" transform="rotate(12.32 379.47 707.95)"/>
<ellipse cx="378.71" cy="713.8" rx="2.36" ry="2.09" fill="#c63660" transform="rotate(9.51 378.71 713.8)"/>
<ellipse cx="400.68" cy="712.65" rx="2.18" ry="1.95" fill="#c63660" transform="rotate(-5.84 400.68 712.65)"/>
<ellipse cx="393.49" cy="713.96" rx="2.88" ry="1.21" fill="#c63660" transform="rotate(-2.13 393.49 713.96)"/>
<ellipse cx="396.88" cy="712.97" rx="2.91" ry="2.18" fill="#c63660" transform="rotate(-28.97 396.88 712.97)"/>
<ellipse cx="414.49" cy="711.36" rx="2.83" ry="2.29" fill="#c63660" transform="rotate(23.08 414.49 711.36)"/>
<ellipse cx="350.43" cy="712.26" rx="3.1" ry="1.44" fill="#c63660" transform="rotate(14.65 350.43 712.26)"/>
<ellipse cx="387.35" cy="705.71" rx="3.17" ry="1.37" fill="#c63660" transform="rotate(6.74 387.35 705.71)"/>
<ellipse cx="375.81" cy="706.36" rx="2.76" ry="1.76" fill="#c63660" transform="rotate(-17.7 375.81 706.36)"/>
<ellipse cx="416.28" cy="704.46" rx="1.81" ry="1.78" fill="#c63660" transform="rotate(20.23 416.28 704.46)"/>
<ellipse cx="392.84" cy="711.62" rx="2.62" ry="2.01" fill="#c63660" transform="rotate(-9.91 392.84 711.62)"/>
<ellipse cx="363.09" cy="708.98" rx="1.85" ry="1.3" fill="#c63660" transform="rotate(15.24 363.09 708.98)"/>
<ellipse cx="356" cy="711.58" rx="3.13" ry="1.69" fill="#c63660" transform="rotate(10.5 356 711.58)"/>
<ellipse cx="402.64" cy="712.77" rx="2.03" ry="1.4" fill="#c63660" transform="rotate(-7.1 402.64 712.77)"/>
<ellipse cx="378.11" cy="706.8" rx="1.82" ry="1.87" fill="#c63660" transform="rotate(28.01 378.11 706.8)"/>
<ellipse cx="370.65" cy="709.35" rx="2.45" ry="1.73" fill="#c63660" transform="rotate(22.23 370.65 709.35)"/>
<ellipse cx="366.24" cy="710.52" rx="2.62" ry="1.85" fill="#c63660" transform="rotate(24.88 366.24 710.52)"/>
<ellipse cx="348.63" cy="712.36" rx="2.32" ry="1.98" fill="#c63660" transform="rotate(17.75 348.63 712.36)"/>
<ellipse cx="392.46" cy="707.83" rx="3.23" ry="1.31" fill="#c63660" transform="rotate(8 392.46 707.83)"/>
<ellipse cx="372.53" cy="709.27" rx="3.25" ry="2.16" fill="#c63660" transform="rotate(7.73 372.53 709.27)"/>
<ellipse cx="366.21" cy="706.15" rx="2.58" ry="1.48" fill="#c63660" transform="rotate(-13.35 366.21 706.15)"/>
<ellipse cx="415.59" cy="704.88" rx="3.19" ry="1.66" fill="#c63660" transform="rotate(-8.12 415.59 704.88)"/>
<ellipse cx="367" cy="704.51" rx="2.58" ry="1.4" fill="#c63660" transform="rotate(-3.48 367 704.51)"/>
<ellipse cx="364.99" cy="713.09" rx="3.37" ry="1.73" fill="#c63660" transform="rotate(8.38 364.99 713.09)"/>
<ellipse cx="413.45" cy="707.13" rx="1.97" ry="1.49" fill="#c63660" transform="rotate(-18.63 413.45 707.13)"/>
<ellipse cx="394.36" cy="707.62" rx="2.41" ry="2.15" fill="#c63660" transform="rotate(-16.01 394.36 707.62)"/>
<ellipse cx="404.25" cy="710.35" rx="2.48" ry="2.19" fill="#c63660" transform="rotate(-9.46 404.25 710.35)"/>
<ellipse cx="409.57" cy="713.42" rx="2.65" ry="2.03" fill="#c63660" transform="rotate(26.93 409.57 713.42)"/>
<ellipse cx="399.23" cy="711.59" rx="3.28" ry="2.32" fill="#c63660" transform="rotate(15.21 399.23 711.59)"/>
<ellipse cx="417.21" cy="706.76" rx="2.86" ry="2" fill="#c63660" transform="rotate(-7.95 417.21 706.76)"/>
<ellipse cx="372.83" cy="705.54" rx="3.43" ry="1.62" fill="#c63660" transform="rotate(-1.4 372.83 705.54)"/>
<ellipse cx="410.71" cy="705.66" rx="3.43" ry="1.35" fill="#c63660" transform="rotate(-28.32 410.71 705.66)"/>
<ellipse cx="369.46" cy="707.47" rx="3.36" ry="2.26" fill="#c63660" transform="rotate(15.69 369.46 707.47)"/>
<ellipse cx="375.97" cy="709.4" rx="2.2" ry="2.2" fill="#c63660" transform="rotate(-6.61 375.97 709.4)"/>
<ellipse cx="364.43" cy="710.4" rx="2.06" ry="1.58" fill="#c63660" transform="rotate(25.57 364.43 710.4)"/>
<ellipse cx="350.02" cy="705.19" rx="2.15" ry="1.5" fill="#c63660" transform="rotate(-4.78 350.02 705.19)"/>
<ellipse cx="353.5" cy="663.4" rx="2.5" ry="2.3" fill="#c0386a" opacity="0.92"/>
<ellipse cx="353.5" cy="663.4" rx="0.88" ry="0.8" fill="#d88aa8"/>
<ellipse cx="360.5" cy="663.6" rx="2.5" ry="2.3" fill="#c0386a" opacity="0.92"/>
<ellipse cx="360.5" cy="663.6" rx="0.88" ry="0.8" fill="#d88aa8"/>
<ellipse cx="369.8" cy="663" rx="2.2" ry="2.2" fill="#c0386a" opacity="0.92"/>
<ellipse cx="369.8" cy="663" rx="0.77" ry="0.77" fill="#d88aa8"/>
<ellipse cx="378" cy="665" rx="3" ry="2.8" fill="#c0386a" opacity="0.92"/>
<ellipse cx="378" cy="665" rx="1.05" ry="0.98" fill="#d88aa8"/>
<ellipse cx="366.3" cy="670" rx="2" ry="2" fill="#c0386a" opacity="0.92"/>
<ellipse cx="366.3" cy="670" rx="0.7" ry="0.7" fill="#d88aa8"/>
<ellipse cx="383.8" cy="671" rx="2" ry="2" fill="#c0386a" opacity="0.92"/>
<ellipse cx="383.8" cy="671" rx="0.7" ry="0.7" fill="#d88aa8"/>
<ellipse cx="388.5" cy="668.7" rx="2" ry="2" fill="#c0386a" opacity="0.92"/>
<ellipse cx="388.5" cy="668.7" rx="0.7" ry="0.7" fill="#d88aa8"/>
<ellipse cx="396.7" cy="665.7" rx="2.2" ry="2" fill="#c0386a" opacity="0.92"/>
<ellipse cx="396.7" cy="665.7" rx="0.77" ry="0.7" fill="#d88aa8"/>
<ellipse cx="401.4" cy="666.9" rx="2" ry="2" fill="#c0386a" opacity="0.92"/>
<ellipse cx="401.4" cy="666.9" rx="0.7" ry="0.7" fill="#d88aa8"/>
<ellipse cx="413" cy="657.5" rx="2" ry="2" fill="#c0386a" opacity="0.92"/>
<ellipse cx="413" cy="657.5" rx="0.7" ry="0.7" fill="#d88aa8"/>
<ellipse cx="409.5" cy="659.9" rx="2" ry="2" fill="#c0386a" opacity="0.92"/>
<ellipse cx="409.5" cy="659.9" rx="0.7" ry="0.7" fill="#d88aa8"/>
<ellipse cx="348.8" cy="682" rx="2.2" ry="2.2" fill="#c0386a" opacity="0.92"/>
<ellipse cx="348.8" cy="682" rx="0.77" ry="0.77" fill="#d88aa8"/>
<ellipse cx="354.6" cy="682" rx="3" ry="2.4" fill="#c0386a" opacity="0.92"/>
<ellipse cx="354.6" cy="682" rx="1.05" ry="0.84" fill="#d88aa8"/>
<ellipse cx="362.3" cy="686.3" rx="2" ry="2.4" fill="#c0386a" opacity="0.92"/>
<ellipse cx="362.3" cy="686.3" rx="0.7" ry="0.84" fill="#d88aa8"/>
<ellipse cx="368.6" cy="690.2" rx="2" ry="2.4" fill="#c0386a" opacity="0.92"/>
<ellipse cx="368.6" cy="690.2" rx="0.7" ry="0.84" fill="#d88aa8"/>
<ellipse cx="379.2" cy="689.8" rx="3.5" ry="2.2" fill="#c0386a" opacity="0.92"/>
<ellipse cx="379.2" cy="689.8" rx="1.22" ry="0.77" fill="#d88aa8"/>
<ellipse cx="385" cy="687.9" rx="2" ry="2" fill="#c0386a" opacity="0.92"/>
<ellipse cx="385" cy="687.9" rx="0.7" ry="0.7" fill="#d88aa8"/>
<ellipse cx="395.5" cy="690.2" rx="3.5" ry="2.5" fill="#c0386a" opacity="0.92"/>
<ellipse cx="395.5" cy="690.2" rx="1.22" ry="0.88" fill="#d88aa8"/>
<ellipse cx="401.4" cy="682" rx="2.5" ry="2" fill="#c0386a" opacity="0.92"/>
<ellipse cx="401.4" cy="682" rx="0.88" ry="0.7" fill="#d88aa8"/>
<ellipse cx="406" cy="683.2" rx="2" ry="2" fill="#c0386a" opacity="0.92"/>
<ellipse cx="406" cy="683.2" rx="0.7" ry="0.7" fill="#d88aa8"/>
<ellipse cx="413" cy="679.7" rx="3" ry="2.2" fill="#c0386a" opacity="0.92"/>
<ellipse cx="413" cy="679.7" rx="1.05" ry="0.77" fill="#d88aa8"/>
<ellipse cx="366.3" cy="697.2" rx="4" ry="2.5" fill="#c0386a" opacity="0.92"/>
<ellipse cx="366.3" cy="697.2" rx="1.4" ry="0.88" fill="#d88aa8"/>
<ellipse cx="381.5" cy="699.6" rx="3.5" ry="2" fill="#c0386a" opacity="0.92"/>
<ellipse cx="381.5" cy="699.6" rx="1.22" ry="0.7" fill="#d88aa8"/>
<ellipse cx="390.8" cy="696" rx="2.5" ry="2" fill="#c0386a" opacity="0.92"/>
<ellipse cx="390.8" cy="696" rx="0.88" ry="0.7" fill="#d88aa8"/>
<ellipse cx="396.7" cy="694.9" rx="2.5" ry="2" fill="#c0386a" opacity="0.92"/>
<ellipse cx="396.7" cy="694.9" rx="0.88" ry="0.7" fill="#d88aa8"/>
<ellipse cx="402.5" cy="694.9" rx="2.5" ry="2" fill="#c0386a" opacity="0.92"/>
<ellipse cx="402.5" cy="694.9" rx="0.88" ry="0.7" fill="#d88aa8"/>
<ellipse cx="407.2" cy="693.7" rx="2.5" ry="2" fill="#c0386a" opacity="0.92"/>
<ellipse cx="407.2" cy="693.7" rx="0.88" ry="0.7" fill="#d88aa8"/>
<ellipse cx="414.2" cy="692.6" rx="2.5" ry="2" fill="#c0386a" opacity="0.92"/>
<ellipse cx="414.2" cy="692.6" rx="0.88" ry="0.7" fill="#d88aa8"/>
<ellipse cx="347.6" cy="700.7" rx="3" ry="2" fill="#c0386a" opacity="0.92"/>
<ellipse cx="347.6" cy="700.7" rx="1.05" ry="0.7" fill="#d88aa8"/>
<ellipse cx="353.5" cy="702.6" rx="3" ry="2" fill="#c0386a" opacity="0.92"/>
<ellipse cx="353.5" cy="702.6" rx="1.05" ry="0.7" fill="#d88aa8"/>
<ellipse cx="359.3" cy="703" rx="3" ry="2" fill="#c0386a" opacity="0.92"/>
<ellipse cx="359.3" cy="703" rx="1.05" ry="0.7" fill="#d88aa8"/>
</g>
<g clip-path="url(#hc3)">
<rect x="269.8" y="719" width="72" height="72" fill="#e8e8ee" />
<rect x="269.8" y="739" width="72" height="52" fill="#dce6f4" />
<ellipse cx="304.43" cy="769.66" rx="5.59" ry="0.76" fill="#80a8de" opacity="0.55" transform="rotate(3.02 304.43 769.66)"/>
<ellipse cx="260.88" cy="764.83" rx="8.86" ry="0.56" fill="#80a8de" opacity="0.55" transform="rotate(-6.38 260.88 764.83)"/>
<ellipse cx="298.36" cy="790.88" rx="8.86" ry="0.69" fill="#80a8de" opacity="0.55" transform="rotate(3.34 298.36 790.88)"/>
<ellipse cx="311.86" cy="767.22" rx="9.08" ry="0.71" fill="#80a8de" opacity="0.55" transform="rotate(5.79 311.86 767.22)"/>
<ellipse cx="265.05" cy="781.8" rx="8.31" ry="0.75" fill="#80a8de" opacity="0.55" transform="rotate(-4.77 265.05 781.8)"/>
<ellipse cx="330.77" cy="763.87" rx="6.31" ry="0.83" fill="#80a8de" opacity="0.55" transform="rotate(9.09 330.77 763.87)"/>
<ellipse cx="335.33" cy="783" rx="5.76" ry="0.88" fill="#80a8de" opacity="0.55" transform="rotate(-1.33 335.33 783)"/>
<ellipse cx="331.87" cy="789.2" rx="3.68" ry="0.48" fill="#80a8de" opacity="0.55" transform="rotate(-6.79 331.87 789.2)"/>
<ellipse cx="295.57" cy="790.03" rx="7.39" ry="0.58" fill="#80a8de" opacity="0.55" transform="rotate(0.17 295.57 790.03)"/>
<ellipse cx="288.57" cy="773.8" rx="7.1" ry="0.75" fill="#80a8de" opacity="0.55" transform="rotate(9.7 288.57 773.8)"/>
<ellipse cx="335.97" cy="782.1" rx="8.99" ry="0.99" fill="#80a8de" opacity="0.55" transform="rotate(4.11 335.97 782.1)"/>
<ellipse cx="330.37" cy="767.57" rx="9.75" ry="0.94" fill="#80a8de" opacity="0.55" transform="rotate(1.66 330.37 767.57)"/>
<ellipse cx="277.11" cy="782.99" rx="8.82" ry="0.74" fill="#80a8de" opacity="0.55" transform="rotate(-5.16 277.11 782.99)"/>
<ellipse cx="329.82" cy="764.78" rx="9.93" ry="0.45" fill="#80a8de" opacity="0.55" transform="rotate(7.21 329.82 764.78)"/>
<ellipse cx="272.16" cy="774.49" rx="5.06" ry="0.86" fill="#80a8de" opacity="0.55" transform="rotate(8.95 272.16 774.49)"/>
<ellipse cx="310.19" cy="764.24" rx="3.31" ry="0.83" fill="#80a8de" opacity="0.55" transform="rotate(-4.06 310.19 764.24)"/>
<ellipse cx="340.21" cy="787.67" rx="6.54" ry="1" fill="#80a8de" opacity="0.55" transform="rotate(-4.57 340.21 787.67)"/>
<ellipse cx="308.98" cy="765.16" rx="3.22" ry="0.52" fill="#80a8de" opacity="0.55" transform="rotate(-2.21 308.98 765.16)"/>
<ellipse cx="272.61" cy="780.09" rx="3.3" ry="0.92" fill="#80a8de" opacity="0.55" transform="rotate(-4.47 272.61 780.09)"/>
<ellipse cx="333.33" cy="789.84" rx="5.64" ry="0.68" fill="#80a8de" opacity="0.55" transform="rotate(0.48 333.33 789.84)"/>
<ellipse cx="308.64" cy="781.03" rx="6.91" ry="0.77" fill="#80a8de" opacity="0.55" transform="rotate(10.57 308.64 781.03)"/>
<ellipse cx="295.16" cy="777.2" rx="8.04" ry="0.54" fill="#80a8de" opacity="0.55" transform="rotate(-4.77 295.16 777.2)"/>
<ellipse cx="302.53" cy="790.38" rx="6.84" ry="0.41" fill="#80a8de" opacity="0.55" transform="rotate(-2.03 302.53 790.38)"/>
<ellipse cx="261.44" cy="779.24" rx="7.31" ry="0.78" fill="#80a8de" opacity="0.55" transform="rotate(-10.56 261.44 779.24)"/>
<ellipse cx="298.03" cy="780.57" rx="7.75" ry="0.61" fill="#80a8de" opacity="0.55" transform="rotate(4.97 298.03 780.57)"/>
<ellipse cx="261.62" cy="783.66" rx="3.42" ry="0.81" fill="#80a8de" opacity="0.55" transform="rotate(11.12 261.62 783.66)"/>
<ellipse cx="297.22" cy="770.03" rx="7.15" ry="0.59" fill="#80a8de" opacity="0.55" transform="rotate(-3.27 297.22 770.03)"/>
<ellipse cx="290.07" cy="771.75" rx="7.17" ry="0.58" fill="#80a8de" opacity="0.55" transform="rotate(-2.95 290.07 771.75)"/>
<ellipse cx="262.01" cy="784.62" rx="6.98" ry="0.84" fill="#80a8de" opacity="0.55" transform="rotate(-4.56 262.01 784.62)"/>
<ellipse cx="325.71" cy="769.23" rx="4.67" ry="0.51" fill="#80a8de" opacity="0.55" transform="rotate(-1.55 325.71 769.23)"/>
<path d="M268.8 733.4 L270.86 733.16 L272.91 732.7 L274.97 731.92 L277.02 730.94 L279.08 730.43 L281.13 729.86 L283.19 728.96 L285.24 728.52 L287.3 728.26 L289.36 727.73 L291.41 727.12 L293.47 726.67 L295.52 726.26 L297.58 725.44 L299.63 724.57 L301.69 724.97 L303.74 725.49 L305.8 725.5 L307.86 725.52 L309.91 726.13 L311.97 726.75 L314.02 727.24 L316.08 727.66 L318.13 727.98 L320.19 727.84 L322.24 727.7 L324.3 727.67 L326.36 727.98 L328.41 728.29 L330.47 728.36 L332.52 727.91 L334.58 727.46 L336.63 727.17 L338.69 727.1 L340.74 727.04 L342.8 727 L342.8 762 L340.74 762.01 L338.69 762.04 L336.63 762.07 L334.58 762.1 L332.52 762.13 L330.47 762.16 L328.41 762.19 L326.36 762.21 L324.3 762.24 L322.24 762.27 L320.19 762.3 L318.13 762.33 L316.08 762.36 L314.02 762.39 L311.97 762.41 L309.91 762.44 L307.86 762.47 L305.8 762.5 L303.74 762.53 L301.69 762.56 L299.63 762.59 L297.58 762.61 L295.52 762.64 L293.47 762.67 L291.41 762.7 L289.36 762.73 L287.3 762.76 L285.24 762.79 L283.19 762.81 L281.13 762.84 L279.08 762.87 L277.02 762.9 L274.97 762.93 L272.91 762.96 L270.86 762.99 L268.8 763Z" fill="#7da8de" />
<path d="M268.8 733.4 L270.86 733.16 L272.91 732.7 L274.97 731.92 L277.02 730.94 L279.08 730.43 L281.13 729.86 L283.19 728.96 L285.24 728.52 L287.3 728.26 L289.36 727.73 L291.41 727.12 L293.47 726.67 L295.52 726.26 L297.58 725.44 L299.63 724.57 L301.69 724.97 L303.74 725.49 L305.8 725.5 L307.86 725.52 L309.91 726.13 L311.97 726.75 L314.02 727.24 L316.08 727.66 L318.13 727.98 L320.19 727.84 L322.24 727.7 L324.3 727.67 L326.36 727.98 L328.41 728.29 L330.47 728.36 L332.52 727.91 L334.58 727.46 L336.63 727.17 L338.69 727.1 L340.74 727.04 L342.8 727 L342.8 762 L340.74 762.01 L338.69 762.04 L336.63 762.07 L334.58 762.1 L332.52 762.13 L330.47 762.16 L328.41 762.19 L326.36 762.21 L324.3 762.24 L322.24 762.27 L320.19 762.3 L318.13 762.33 L316.08 762.36 L314.02 762.39 L311.97 762.41 L309.91 762.44 L307.86 762.47 L305.8 762.5 L303.74 762.53 L301.69 762.56 L299.63 762.59 L297.58 762.61 L295.52 762.64 L293.47 762.67 L291.41 762.7 L289.36 762.73 L287.3 762.76 L285.24 762.79 L283.19 762.81 L281.13 762.84 L279.08 762.87 L277.02 762.9 L274.97 762.93 L272.91 762.96 L270.86 762.99 L268.8 763Z" fill="#fff" filter="url(#tex)" opacity="0.7"/>
<ellipse cx="274.5" cy="766" rx="2.5" ry="4.5" fill="#9a5a90"/>
<ellipse cx="271" cy="735" rx="2" ry="3" fill="#2a3080"/>
<circle cx="295" cy="783.6" r="3" fill="#8aa0d8" stroke="#5a70c0" stroke-width="0.6"/>
<ellipse cx="325" cy="777.8" rx="7" ry="1.1" fill="#c8487a" opacity="0.7"/>
<ellipse cx="336" cy="778.5" rx="5" ry="1.1" fill="#c8487a" opacity="0.7"/>
<ellipse cx="276" cy="777" rx="5" ry="1.1" fill="#c8487a" opacity="0.7"/>
<ellipse cx="300" cy="772" rx="4" ry="1.1" fill="#c8487a" opacity="0.7"/>
<ellipse cx="318" cy="786" rx="6" ry="1.1" fill="#c8487a" opacity="0.7"/>
<path d="M268.8 733.4 L270.86 733.16 L272.91 732.7 L274.97 731.92 L277.02 730.94 L279.08 730.43 L281.13 729.86 L283.19 728.96 L285.24 728.52 L287.3 728.26 L289.36 727.73 L291.41 727.12 L293.47 726.67 L295.52 726.26 L297.58 725.44 L299.63 724.57 L301.69 724.97 L303.74 725.49 L305.8 725.5 L307.86 725.52 L309.91 726.13 L311.97 726.75 L314.02 727.24 L316.08 727.66 L318.13 727.98 L320.19 727.84 L322.24 727.7 L324.3 727.67 L326.36 727.98 L328.41 728.29 L330.47 728.36 L332.52 727.91 L334.58 727.46 L336.63 727.17 L338.69 727.1 L340.74 727.04 L342.8 727" fill="none" stroke="#4c56a8" stroke-width="3" stroke-linejoin="round"/>
<circle cx="320.06" cy="720.51" r="0.45" fill="#c0506a" opacity="0.75"/>
<circle cx="292.98" cy="721.67" r="0.45" fill="#c0506a" opacity="0.75"/>
<circle cx="329.81" cy="722.19" r="0.45" fill="#c0506a" opacity="0.75"/>
<circle cx="331.4" cy="720.85" r="0.45" fill="#c0506a" opacity="0.75"/>
<circle cx="294.04" cy="723.25" r="0.45" fill="#c0506a" opacity="0.75"/>
<circle cx="333.51" cy="722.26" r="0.45" fill="#c0506a" opacity="0.75"/>
<circle cx="286" cy="720.6" r="0.45" fill="#c0506a" opacity="0.75"/>
<circle cx="307.93" cy="720.95" r="0.45" fill="#c0506a" opacity="0.75"/>
<circle cx="327.89" cy="724.19" r="0.45" fill="#c0506a" opacity="0.75"/>
<circle cx="283.02" cy="721.39" r="0.45" fill="#c0506a" opacity="0.75"/>
<circle cx="327.92" cy="723.21" r="0.45" fill="#c0506a" opacity="0.75"/>
<circle cx="327.85" cy="721.73" r="0.45" fill="#c0506a" opacity="0.75"/>
<circle cx="279.14" cy="721.46" r="0.45" fill="#c0506a" opacity="0.75"/>
<circle cx="326.96" cy="721.36" r="0.45" fill="#c0506a" opacity="0.75"/>
<ellipse cx="277.5" cy="742.7" rx="2.2" ry="2.2" fill="#c0386a" opacity="0.92"/>
<ellipse cx="277.5" cy="742.7" rx="0.77" ry="0.77" fill="#d88aa8"/>
<ellipse cx="283.4" cy="739.2" rx="2" ry="2" fill="#c0386a" opacity="0.92"/>
<ellipse cx="283.4" cy="739.2" rx="0.7" ry="0.7" fill="#d88aa8"/>
<ellipse cx="289.9" cy="737.6" rx="2" ry="2" fill="#c0386a" opacity="0.92"/>
<ellipse cx="289.9" cy="737.6" rx="0.7" ry="0.7" fill="#d88aa8"/>
<ellipse cx="306.7" cy="744.6" rx="3.5" ry="4" fill="#c0386a" opacity="0.92"/>
<ellipse cx="306.7" cy="744.6" rx="1.4" ry="1.6" fill="#ecc4d2"/>
<ellipse cx="314.9" cy="743.9" rx="4" ry="4.5" fill="#c0386a" opacity="0.92"/>
<ellipse cx="314.9" cy="743.9" rx="1.6" ry="1.8" fill="#ecc4d2"/>
<ellipse cx="323" cy="744.6" rx="3.5" ry="3.5" fill="#c0386a" opacity="0.92"/>
<ellipse cx="323" cy="744.6" rx="1.4" ry="1.4" fill="#ecc4d2"/>
<ellipse cx="283.4" cy="759" rx="1.8" ry="1.8" fill="#c0386a" opacity="0.92"/>
<ellipse cx="291.5" cy="759" rx="1.8" ry="1.8" fill="#c0386a" opacity="0.92"/>
<ellipse cx="296.7" cy="759" rx="1.8" ry="1.8" fill="#c0386a" opacity="0.92"/>
<ellipse cx="317.2" cy="755.6" rx="1.8" ry="1.8" fill="#c0386a" opacity="0.92"/>
<ellipse cx="322.6" cy="754.9" rx="1.8" ry="1.8" fill="#c0386a" opacity="0.92"/>
<ellipse cx="328.9" cy="753.9" rx="1.8" ry="1.8" fill="#c0386a" opacity="0.92"/>
<ellipse cx="337.1" cy="755" rx="2.5" ry="2.5" fill="#c0386a" opacity="0.92"/>
<ellipse cx="337.1" cy="755" rx="0.88" ry="0.88" fill="#d88aa8"/>
<ellipse cx="332.9" cy="760.9" rx="2" ry="2" fill="#c0386a" opacity="0.92"/>
<ellipse cx="332.9" cy="760.9" rx="0.7" ry="0.7" fill="#d88aa8"/>
<ellipse cx="338.3" cy="765.4" rx="2" ry="3" fill="#c0386a" opacity="0.92"/>
<ellipse cx="338.3" cy="765.4" rx="0.7" ry="1.05" fill="#d88aa8"/>
</g>
<g clip-path="url(#hc4)">
<rect x="344.8" y="719" width="72" height="72" fill="#e8e8ee" />
<rect x="344.8" y="739" width="72" height="52" fill="#dce6f4" />
<ellipse cx="343.26" cy="774.19" rx="5.77" ry="0.49" fill="#80a8de" opacity="0.55" transform="rotate(-10.4 343.26 774.19)"/>
<ellipse cx="410.07" cy="777.84" rx="8.6" ry="0.86" fill="#80a8de" opacity="0.55" transform="rotate(-6.67 410.07 777.84)"/>
<ellipse cx="357.49" cy="780.81" rx="4.21" ry="0.46" fill="#80a8de" opacity="0.55" transform="rotate(-6.85 357.49 780.81)"/>
<ellipse cx="402.77" cy="789.4" rx="8.65" ry="0.88" fill="#80a8de" opacity="0.55" transform="rotate(-7.36 402.77 789.4)"/>
<ellipse cx="386.21" cy="775.82" rx="8.12" ry="0.91" fill="#80a8de" opacity="0.55" transform="rotate(9.12 386.21 775.82)"/>
<ellipse cx="384.48" cy="770.91" rx="7.7" ry="0.7" fill="#80a8de" opacity="0.55" transform="rotate(-7.73 384.48 770.91)"/>
<ellipse cx="342.13" cy="779.42" rx="9.54" ry="0.92" fill="#80a8de" opacity="0.55" transform="rotate(1.14 342.13 779.42)"/>
<ellipse cx="409.33" cy="775.61" rx="7.01" ry="0.93" fill="#80a8de" opacity="0.55" transform="rotate(8.35 409.33 775.61)"/>
<ellipse cx="368.74" cy="780.18" rx="7.19" ry="0.66" fill="#80a8de" opacity="0.55" transform="rotate(-8.13 368.74 780.18)"/>
<ellipse cx="401.43" cy="775.71" rx="3.3" ry="0.43" fill="#80a8de" opacity="0.55" transform="rotate(3.03 401.43 775.71)"/>
<ellipse cx="378.64" cy="775.17" rx="6.3" ry="0.61" fill="#80a8de" opacity="0.55" transform="rotate(11.93 378.64 775.17)"/>
<ellipse cx="368.65" cy="773.3" rx="4.42" ry="0.78" fill="#80a8de" opacity="0.55" transform="rotate(-5.37 368.65 773.3)"/>
<ellipse cx="396.05" cy="776.83" rx="5.24" ry="0.74" fill="#80a8de" opacity="0.55" transform="rotate(9.7 396.05 776.83)"/>
<ellipse cx="339.85" cy="771.22" rx="4.6" ry="0.86" fill="#80a8de" opacity="0.55" transform="rotate(2.77 339.85 771.22)"/>
<ellipse cx="361.95" cy="774.22" rx="4.24" ry="0.68" fill="#80a8de" opacity="0.55" transform="rotate(-10.97 361.95 774.22)"/>
<ellipse cx="408.27" cy="784.34" rx="9.68" ry="0.84" fill="#80a8de" opacity="0.55" transform="rotate(11.04 408.27 784.34)"/>
<ellipse cx="358.5" cy="769.4" rx="9.76" ry="0.87" fill="#80a8de" opacity="0.55" transform="rotate(-2.15 358.5 769.4)"/>
<ellipse cx="385.68" cy="789.75" rx="8.73" ry="0.58" fill="#80a8de" opacity="0.55" transform="rotate(-7.41 385.68 789.75)"/>
<ellipse cx="345.99" cy="778.77" rx="5.67" ry="0.98" fill="#80a8de" opacity="0.55" transform="rotate(-4.05 345.99 778.77)"/>
<ellipse cx="338.47" cy="769.21" rx="4.19" ry="0.87" fill="#80a8de" opacity="0.55" transform="rotate(-3.29 338.47 769.21)"/>
<ellipse cx="342.76" cy="775.39" rx="9.87" ry="0.65" fill="#80a8de" opacity="0.55" transform="rotate(-7.01 342.76 775.39)"/>
<ellipse cx="339.33" cy="770.31" rx="4.18" ry="0.81" fill="#80a8de" opacity="0.55" transform="rotate(-8.41 339.33 770.31)"/>
<ellipse cx="375.03" cy="769.9" rx="4.74" ry="1" fill="#80a8de" opacity="0.55" transform="rotate(-9.07 375.03 769.9)"/>
<ellipse cx="398.25" cy="780.64" rx="5.87" ry="0.99" fill="#80a8de" opacity="0.55" transform="rotate(-0.53 398.25 780.64)"/>
<ellipse cx="368.47" cy="774.32" rx="3.26" ry="0.65" fill="#80a8de" opacity="0.55" transform="rotate(-6.03 368.47 774.32)"/>
<ellipse cx="402.95" cy="788.56" rx="6.49" ry="0.42" fill="#80a8de" opacity="0.55" transform="rotate(-5.89 402.95 788.56)"/>
<ellipse cx="351.86" cy="774.33" rx="4.62" ry="0.92" fill="#80a8de" opacity="0.55" transform="rotate(-8.6 351.86 774.33)"/>
<ellipse cx="410.9" cy="770.13" rx="6.96" ry="0.99" fill="#80a8de" opacity="0.55" transform="rotate(-2.33 410.9 770.13)"/>
<ellipse cx="388.43" cy="788.82" rx="8.54" ry="0.85" fill="#80a8de" opacity="0.55" transform="rotate(-0.14 388.43 788.82)"/>
<ellipse cx="352.1" cy="771.04" rx="9.12" ry="0.94" fill="#80a8de" opacity="0.55" transform="rotate(10.19 352.1 771.04)"/>
<path d="M343.8 731 L345.86 730.68 L347.91 730.07 L349.97 729.49 L352.02 729.31 L354.08 729.14 L356.13 728.97 L358.19 728.79 L360.24 728.6 L362.3 728.42 L364.36 728.24 L366.41 728.56 L368.47 729.02 L370.52 729.49 L372.58 729.95 L374.63 730.45 L376.69 730.95 L378.74 731.45 L380.8 731.96 L382.86 732.35 L384.91 732.65 L386.97 732.95 L389.02 733.24 L391.08 733.53 L393.13 733.76 L395.19 733.99 L397.24 734.22 L399.3 734.44 L401.36 734.66 L403.41 734.86 L405.47 735.07 L407.52 735.27 L409.58 735.48 L411.63 735.68 L413.69 735.89 L415.74 736.09 L417.8 736.2 L417.8 769.5 L415.74 769.51 L413.69 769.54 L411.63 769.57 L409.58 769.6 L407.52 769.63 L405.47 769.66 L403.41 769.69 L401.36 769.71 L399.3 769.74 L397.24 769.77 L395.19 769.8 L393.13 769.83 L391.08 769.86 L389.02 769.89 L386.97 769.91 L384.91 769.94 L382.86 769.97 L380.8 770 L378.74 769.94 L376.69 769.89 L374.63 769.83 L372.58 769.77 L370.52 769.71 L368.47 769.66 L366.41 769.6 L364.36 769.54 L362.3 769.49 L360.24 769.43 L358.19 769.37 L356.13 769.31 L354.08 769.26 L352.02 769.2 L349.97 769.14 L347.91 769.09 L345.86 769.03 L343.8 769Z" fill="#6596d6" />
<path d="M343.8 731 L345.86 730.68 L347.91 730.07 L349.97 729.49 L352.02 729.31 L354.08 729.14 L356.13 728.97 L358.19 728.79 L360.24 728.6 L362.3 728.42 L364.36 728.24 L366.41 728.56 L368.47 729.02 L370.52 729.49 L372.58 729.95 L374.63 730.45 L376.69 730.95 L378.74 731.45 L380.8 731.96 L382.86 732.35 L384.91 732.65 L386.97 732.95 L389.02 733.24 L391.08 733.53 L393.13 733.76 L395.19 733.99 L397.24 734.22 L399.3 734.44 L401.36 734.66 L403.41 734.86 L405.47 735.07 L407.52 735.27 L409.58 735.48 L411.63 735.68 L413.69 735.89 L415.74 736.09 L417.8 736.2 L417.8 769.5 L415.74 769.51 L413.69 769.54 L411.63 769.57 L409.58 769.6 L407.52 769.63 L405.47 769.66 L403.41 769.69 L401.36 769.71 L399.3 769.74 L397.24 769.77 L395.19 769.8 L393.13 769.83 L391.08 769.86 L389.02 769.89 L386.97 769.91 L384.91 769.94 L382.86 769.97 L380.8 770 L378.74 769.94 L376.69 769.89 L374.63 769.83 L372.58 769.77 L370.52 769.71 L368.47 769.66 L366.41 769.6 L364.36 769.54 L362.3 769.49 L360.24 769.43 L358.19 769.37 L356.13 769.31 L354.08 769.26 L352.02 769.2 L349.97 769.14 L347.91 769.09 L345.86 769.03 L343.8 769Z" fill="#fff" filter="url(#tex)" opacity="0.7"/>
<ellipse cx="350" cy="759" rx="6" ry="6" fill="#1d3f95" opacity="0.6" filter="url(#fb2)"/>
<ellipse cx="372" cy="752" rx="9" ry="6" fill="#1d3f95" opacity="0.45" filter="url(#fb2)"/>
<ellipse cx="395" cy="750" rx="8" ry="5" fill="#1d3f95" opacity="0.3" filter="url(#fb2)"/>
<ellipse cx="360" cy="740" rx="6" ry="4" fill="#1d3f95" opacity="0.3" filter="url(#fb2)"/>
<ellipse cx="350" cy="742.7" rx="1.8" ry="6" fill="#b88ab0" opacity="0.85" transform="rotate(30 350 742.7)"/>
<ellipse cx="360.5" cy="750.9" rx="1.8" ry="5" fill="#b88ab0" opacity="0.85" transform="rotate(20 360.5 750.9)"/>
<ellipse cx="367.5" cy="746.2" rx="1.8" ry="5" fill="#b88ab0" opacity="0.85" transform="rotate(20 367.5 746.2)"/>
<ellipse cx="387.3" cy="748.6" rx="2.2" ry="5" fill="#b88ab0" opacity="0.85" transform="rotate(15 387.3 748.6)"/>
<path d="M343.8 731 L345.86 730.68 L347.91 730.07 L349.97 729.49 L352.02 729.31 L354.08 729.14 L356.13 728.97 L358.19 728.79 L360.24 728.6 L362.3 728.42 L364.36 728.24 L366.41 728.56 L368.47 729.02 L370.52 729.49 L372.58 729.95 L374.63 730.45 L376.69 730.95 L378.74 731.45 L380.8 731.96 L382.86 732.35 L384.91 732.65 L386.97 732.95 L389.02 733.24 L391.08 733.53 L393.13 733.76 L395.19 733.99 L397.24 734.22 L399.3 734.44 L401.36 734.66 L403.41 734.86 L405.47 735.07 L407.52 735.27 L409.58 735.48 L411.63 735.68 L413.69 735.89 L415.74 736.09 L417.8 736.2" fill="none" stroke="#5a5aa8" stroke-width="1.2" stroke-linejoin="round"/>
<circle cx="369.03" cy="729.33" r="0.45" fill="#c0506a" opacity="0.75"/>
<circle cx="402.36" cy="729.12" r="0.45" fill="#c0506a" opacity="0.75"/>
<circle cx="403.47" cy="727.5" r="0.45" fill="#c0506a" opacity="0.75"/>
<circle cx="391.94" cy="729.74" r="0.45" fill="#c0506a" opacity="0.75"/>
<circle cx="364.12" cy="733.1" r="0.45" fill="#c0506a" opacity="0.75"/>
<circle cx="413.65" cy="721.06" r="0.45" fill="#c0506a" opacity="0.75"/>
<circle cx="414.72" cy="733.66" r="0.45" fill="#c0506a" opacity="0.75"/>
<circle cx="392.92" cy="720.63" r="0.45" fill="#c0506a" opacity="0.75"/>
<circle cx="409.53" cy="721.81" r="0.45" fill="#c0506a" opacity="0.75"/>
<circle cx="414.53" cy="729.47" r="0.45" fill="#c0506a" opacity="0.75"/>
<circle cx="349.15" cy="722.38" r="0.45" fill="#c0506a" opacity="0.75"/>
<circle cx="390.53" cy="728.08" r="0.45" fill="#c0506a" opacity="0.75"/>
<circle cx="398.55" cy="733.17" r="0.45" fill="#c0506a" opacity="0.75"/>
<circle cx="360.53" cy="720.05" r="0.45" fill="#c0506a" opacity="0.75"/>
<path d="M343.8 780 L345.86 780.07 L347.91 780.21 L349.97 780.34 L352.02 780.48 L354.08 780.62 L356.13 780.76 L358.19 780.89 L360.24 780.97 L362.3 780.83 L364.36 780.7 L366.41 780.56 L368.47 780.42 L370.52 780.29 L372.58 780.15 L374.63 780.01 L376.69 780.06 L378.74 780.13 L380.8 780.2 L382.86 780.27 L384.91 780.34 L386.97 780.41 L389.02 780.47 L391.08 780.46 L393.13 780.39 L395.19 780.32 L397.24 780.25 L399.3 780.18 L401.36 780.11 L403.41 780.05 L405.47 780.03 L407.52 780.11 L409.58 780.2 L411.63 780.28 L413.69 780.37 L415.74 780.46 L417.8 780.5 L417.8 792 L343.8 792Z" fill="#e6d2de" />
<ellipse cx="412.9" cy="780.64" rx="4.25" ry="1.09" fill="#c23660" transform="rotate(9.3 412.9 780.64)"/>
<ellipse cx="402.31" cy="789.72" rx="3.6" ry="1.7" fill="#c23660" transform="rotate(-8.95 402.31 789.72)"/>
<ellipse cx="393.83" cy="783.97" rx="4.28" ry="1.62" fill="#c23660" transform="rotate(-0.85 393.83 783.97)"/>
<ellipse cx="382.81" cy="780.78" rx="2.57" ry="1.48" fill="#c23660" transform="rotate(-0.34 382.81 780.78)"/>
<ellipse cx="408.52" cy="786.89" rx="2.78" ry="1.29" fill="#c23660" transform="rotate(8.03 408.52 786.89)"/>
<ellipse cx="382.55" cy="780.61" rx="4.18" ry="1.66" fill="#c23660" transform="rotate(-12.45 382.55 780.61)"/>
<ellipse cx="384.1" cy="784.5" rx="4.07" ry="1.25" fill="#c23660" transform="rotate(-7.99 384.1 784.5)"/>
<ellipse cx="379.79" cy="790.65" rx="2.69" ry="1.09" fill="#c23660" transform="rotate(3.63 379.79 790.65)"/>
<ellipse cx="410.09" cy="785.88" rx="3.37" ry="1.69" fill="#c23660" transform="rotate(8.3 410.09 785.88)"/>
<ellipse cx="347.89" cy="789.75" rx="2.89" ry="1.24" fill="#c23660" transform="rotate(10.09 347.89 789.75)"/>
<ellipse cx="374.91" cy="788.88" rx="2.83" ry="1.7" fill="#c23660" transform="rotate(-9.71 374.91 788.88)"/>
<ellipse cx="354.15" cy="785.69" rx="3.18" ry="1.43" fill="#c23660" transform="rotate(12.12 354.15 785.69)"/>
<ellipse cx="396.8" cy="780.56" rx="3.12" ry="1.44" fill="#c23660" transform="rotate(-0.4 396.8 780.56)"/>
<ellipse cx="397.18" cy="785.58" rx="2.65" ry="1.2" fill="#c23660" transform="rotate(10.43 397.18 785.58)"/>
<ellipse cx="369.92" cy="788.55" rx="4.47" ry="1.5" fill="#c23660" transform="rotate(5.3 369.92 788.55)"/>
<ellipse cx="389.12" cy="783.79" rx="4.33" ry="1.37" fill="#c23660" transform="rotate(12.34 389.12 783.79)"/>
<ellipse cx="366.03" cy="789.61" rx="4.07" ry="1.49" fill="#c23660" transform="rotate(-1.74 366.03 789.61)"/>
<ellipse cx="353.49" cy="788.6" rx="3.22" ry="1.53" fill="#c23660" transform="rotate(-11 353.49 788.6)"/>
<ellipse cx="349.07" cy="782.01" rx="4.12" ry="1.14" fill="#c23660" transform="rotate(12.06 349.07 782.01)"/>
<ellipse cx="371.07" cy="786.55" rx="3.2" ry="1.5" fill="#c23660" transform="rotate(-12.2 371.07 786.55)"/>
<ellipse cx="373.39" cy="790.33" rx="2.86" ry="1.52" fill="#c23660" transform="rotate(-5.2 373.39 790.33)"/>
<ellipse cx="365.64" cy="780.74" rx="2.54" ry="1.76" fill="#c23660" transform="rotate(9.89 365.64 780.74)"/>
<ellipse cx="403.68" cy="788.98" rx="4.41" ry="1.13" fill="#c23660" transform="rotate(2.53 403.68 788.98)"/>
<ellipse cx="380.44" cy="786.53" rx="4.38" ry="1.61" fill="#c23660" transform="rotate(14.05 380.44 786.53)"/>
<ellipse cx="351.68" cy="787.34" rx="3.85" ry="1.6" fill="#c23660" transform="rotate(3.54 351.68 787.34)"/>
<ellipse cx="405.98" cy="783.68" rx="4.36" ry="1.32" fill="#c23660" transform="rotate(2.97 405.98 783.68)"/>
<ellipse cx="410.96" cy="787.89" rx="3.12" ry="1.18" fill="#c23660" transform="rotate(-5.2 410.96 787.89)"/>
<ellipse cx="390.44" cy="790.96" rx="4.3" ry="1.32" fill="#c23660" transform="rotate(-2.98 390.44 790.96)"/>
<ellipse cx="404.93" cy="783.48" rx="3.32" ry="1.01" fill="#c23660" transform="rotate(-9.48 404.93 783.48)"/>
<ellipse cx="383.86" cy="787.78" rx="3.73" ry="1.29" fill="#c23660" transform="rotate(13.53 383.86 787.78)"/>
<ellipse cx="390.17" cy="782.14" rx="2.64" ry="1.78" fill="#c23660" transform="rotate(14.63 390.17 782.14)"/>
<ellipse cx="412.72" cy="786.84" rx="3.12" ry="1.07" fill="#c23660" transform="rotate(-7.26 412.72 786.84)"/>
<ellipse cx="359.68" cy="790.25" rx="4.29" ry="1.62" fill="#c23660" transform="rotate(-10.54 359.68 790.25)"/>
<ellipse cx="360.91" cy="783.64" rx="4.4" ry="1.13" fill="#c23660" transform="rotate(8.71 360.91 783.64)"/>
<ellipse cx="394.53" cy="786.24" rx="4.42" ry="1.21" fill="#c23660" transform="rotate(0.73 394.53 786.24)"/>
<ellipse cx="354.77" cy="781.52" rx="2.56" ry="1.25" fill="#c23660" transform="rotate(-11.35 354.77 781.52)"/>
<ellipse cx="347.46" cy="790.92" rx="3.08" ry="1.71" fill="#c23660" transform="rotate(6.06 347.46 790.92)"/>
<ellipse cx="398.38" cy="787.38" rx="4.41" ry="1.7" fill="#c23660" transform="rotate(6.58 398.38 787.38)"/>
<ellipse cx="385.36" cy="787.78" rx="3.95" ry="1.44" fill="#c23660" transform="rotate(0.08 385.36 787.78)"/>
<ellipse cx="354.52" cy="789.37" rx="3.47" ry="1.05" fill="#c23660" transform="rotate(-9.96 354.52 789.37)"/>
</g>
<line x1="327.5" y1="712" x2="337" y2="712" stroke="#111" stroke-width="1.3" />
<text x="486.5" y="628" font-size="14" font-weight="bold">j</text>
<text x="553" y="640.2" font-size="10.2" text-anchor="middle" stroke="#231f20" stroke-width="0.22">WT</text>
<text x="639.4" y="640.2" font-size="10.2" text-anchor="middle" stroke="#231f20" stroke-width="0.22">KO</text>
<text x="505.5" y="678" font-size="10.2" text-anchor="middle" transform="rotate(-90 505.5 678)" stroke="#231f20" stroke-width="0.22">1 day</text>
<text x="505.5" y="744" font-size="10.2" text-anchor="middle" transform="rotate(-90 505.5 744)" stroke="#231f20" stroke-width="0.22">1 week</text>
<text x="505.5" y="808" font-size="10.2" text-anchor="middle" transform="rotate(-90 505.5 808)" stroke="#231f20" stroke-width="0.22">2 weeks</text>
<text x="505.5" y="874" font-size="10.2" text-anchor="middle" transform="rotate(-90 505.5 874)" stroke="#231f20" stroke-width="0.22">3 weeks</text>
<text x="505.5" y="943" font-size="10.2" text-anchor="middle" transform="rotate(-90 505.5 943)" stroke="#231f20" stroke-width="0.22">4 weeks</text>
<g clip-path="url(#jc511_643)">
<rect x="511.4" y="643.6" width="85" height="63.8" fill="url(#jbg)" />
<ellipse cx="554.5" cy="684.1" rx="26.55" ry="7.15" fill="#c8c8c8" opacity="0.45" filter="url(#fb2)"/>
<g transform="rotate(0 554.5 675)">
<path d="M528 675 Q521 677.1 513 682" fill="none" stroke="#8a5a4e" stroke-width="1.4" />
<path d="M531 672 L526 669" fill="none" stroke="#dba8a0" stroke-width="2.2" stroke-linecap="round"/>
<path d="M533 681.5 L528 688" fill="none" stroke="#dba8a0" stroke-width="2.2" stroke-linecap="round"/>
<path d="M584 675 C584 674.13 583.61 673.38 582.82 672.4 C582.03 671.42 580.66 669.93 579.28 669.15 C577.9 668.37 575.94 668.11 574.56 667.72 C573.18 667.33 572.4 667.2 571.02 666.81 C569.64 666.42 568.56 665.88 566.3 665.38 C564.04 664.88 560.89 664.32 557.45 663.82 C554.01 663.32 549.09 662.69 545.65 662.39 C542.21 662.09 539.26 661.89 536.8 662 C534.34 662.11 532.47 662.35 530.9 663.04 C529.33 663.73 528.25 664.9 527.36 666.16 C526.48 667.42 525.98 669.11 525.59 670.58 C525.2 672.05 525 673.53 525 675 C525 676.47 525.2 677.95 525.59 679.42 C525.98 680.89 526.48 682.58 527.36 683.84 C528.25 685.1 529.33 686.27 530.9 686.96 C532.47 687.65 534.34 687.89 536.8 688 C539.26 688.11 542.21 687.91 545.65 687.61 C549.09 687.31 554.01 686.68 557.45 686.18 C560.89 685.68 564.04 685.12 566.3 684.62 C568.56 684.12 569.64 683.58 571.02 683.19 C572.4 682.8 573.18 682.67 574.56 682.28 C575.94 681.89 577.9 681.63 579.28 680.85 C580.66 680.07 582.03 678.58 582.82 677.6 C583.61 676.62 584 675.87 584 675Z" fill="#2e2627" filter="url(#fuzz)"/>
<ellipse cx="545.65" cy="671.1" rx="14.75" ry="5.2" fill="#4a3c3a" opacity="0.45" filter="url(#fb2)"/>
<path d="M572.32 674.5 C572.32 676.11 571.56 678 570.31 679.34 C569.05 680.68 566.78 681.75 564.79 682.55 C562.79 683.35 560.58 683.78 558.35 684.14 C556.13 684.51 553.61 685.03 551.43 684.76 C549.25 684.49 547.22 683.42 545.25 682.52 C543.28 681.62 540.52 680.7 539.6 679.37 C538.69 678.03 539.58 676.07 539.76 674.5 C539.93 672.93 539.82 671.37 540.67 669.97 C541.51 668.57 543.09 667.24 544.82 666.13 C546.56 665.01 548.8 663.57 551.09 663.26 C553.38 662.95 556.34 663.68 558.56 664.25 C560.79 664.83 562.5 665.82 564.45 666.72 C566.41 667.62 568.99 668.37 570.3 669.66 C571.61 670.96 572.32 672.89 572.32 674.5Z" fill="#d6cbcc" filter="url(#fb)"/>
<path d="M548.09 671 C548.05 671.36 547.71 671.66 547.54 672.02 C547.37 672.38 547.35 672.86 547.05 673.15 C546.76 673.43 546.21 673.64 545.74 673.72 C545.28 673.8 544.75 673.71 544.28 673.62 C543.82 673.52 543.26 673.41 542.95 673.14 C542.64 672.88 542.61 672.39 542.42 672.04 C542.23 671.68 541.9 671.37 541.83 671 C541.77 670.63 541.84 670.15 542.04 669.81 C542.24 669.47 542.66 669.16 543.05 668.96 C543.43 668.75 543.91 668.61 544.34 668.58 C544.76 668.55 545.19 668.71 545.6 668.8 C546.02 668.88 546.48 668.89 546.84 669.08 C547.2 669.26 547.57 669.57 547.77 669.89 C547.98 670.21 548.12 670.64 548.09 671Z" fill="#2e2628" opacity="0.8" filter="url(#fb)"/>
<ellipse cx="572.4" cy="667.4" rx="3.7" ry="3.5" fill="#d8bb9c" filter="url(#fb)"/>
<ellipse cx="572.1" cy="667.4" rx="1.6" ry="1.5" fill="#c09c7c" opacity="0.6" filter="url(#fb)"/>
<ellipse cx="574" cy="681" rx="3.7" ry="3.5" fill="#d8bb9c" filter="url(#fb)"/>
<ellipse cx="573.7" cy="681" rx="1.6" ry="1.5" fill="#c09c7c" opacity="0.6" filter="url(#fb)"/>
</g>
</g>
<rect x="511.4" y="643.6" width="85" height="63.8" fill="none" stroke="#555" stroke-width="0.9" />
<g clip-path="url(#jc599_643)">
<rect x="599.4" y="643.6" width="84.4" height="63.8" fill="url(#jbg)" />
<ellipse cx="642.25" cy="686.8" rx="28.12" ry="7.7" fill="#c8c8c8" opacity="0.45" filter="url(#fb2)"/>
<g transform="rotate(0 642.25 677)">
<path d="M614 677 Q607 679.4 599.6 685" fill="none" stroke="#8a5a4e" stroke-width="1.4" />
<path d="M673.5 677 C673.5 676.07 673.08 675.25 672.25 674.2 C671.42 673.15 669.96 671.54 668.5 670.7 C667.04 669.86 664.96 669.58 663.5 669.16 C662.04 668.74 661.21 668.6 659.75 668.18 C658.29 667.76 657.15 667.18 654.75 666.64 C652.35 666.1 649.02 665.5 645.38 664.96 C641.73 664.42 636.52 663.75 632.88 663.42 C629.23 663.09 626.1 662.88 623.5 663 C620.9 663.12 618.92 663.37 617.25 664.12 C615.58 664.87 614.44 666.13 613.5 667.48 C612.56 668.83 612.04 670.65 611.62 672.24 C611.21 673.83 611 675.41 611 677 C611 678.59 611.21 680.17 611.62 681.76 C612.04 683.35 612.56 685.17 613.5 686.52 C614.44 687.87 615.58 689.13 617.25 689.88 C618.92 690.63 620.9 690.88 623.5 691 C626.1 691.12 629.23 690.91 632.88 690.58 C636.52 690.25 641.73 689.58 645.38 689.04 C649.02 688.5 652.35 687.9 654.75 687.36 C657.15 686.82 658.29 686.24 659.75 685.82 C661.21 685.4 662.04 685.26 663.5 684.84 C664.96 684.42 667.04 684.14 668.5 683.3 C669.96 682.46 671.42 680.85 672.25 679.8 C673.08 678.75 673.5 677.93 673.5 677Z" fill="#2e2627" filter="url(#fuzz)"/>
<ellipse cx="632.88" cy="672.8" rx="15.62" ry="5.6" fill="#4a3c3a" opacity="0.45" filter="url(#fb2)"/>
<path d="M662.41 675.5 C662.41 676.88 661.6 678.5 660.26 679.65 C658.93 680.8 656.51 681.72 654.4 682.4 C652.28 683.09 649.93 683.45 647.56 683.77 C645.2 684.08 642.53 684.53 640.21 684.3 C637.89 684.07 635.74 683.15 633.64 682.38 C631.55 681.6 628.61 680.82 627.64 679.67 C626.67 678.52 627.61 676.84 627.8 675.5 C627.99 674.16 627.87 672.81 628.77 671.62 C629.67 670.42 631.34 669.28 633.19 668.32 C635.03 667.36 637.41 666.13 639.85 665.87 C642.28 665.6 645.42 666.22 647.79 666.72 C650.15 667.21 651.97 668.06 654.04 668.83 C656.12 669.61 658.86 670.24 660.26 671.36 C661.65 672.47 662.4 674.12 662.41 675.5Z" fill="#dbd0d2" filter="url(#fb)"/>
<path d="M636.09 673.5 C636.05 673.86 635.71 674.16 635.54 674.52 C635.37 674.88 635.35 675.36 635.05 675.65 C634.76 675.93 634.21 676.14 633.74 676.22 C633.28 676.3 632.75 676.21 632.28 676.12 C631.82 676.02 631.26 675.91 630.95 675.64 C630.64 675.38 630.61 674.89 630.42 674.54 C630.23 674.18 629.9 673.87 629.83 673.5 C629.77 673.13 629.84 672.65 630.04 672.31 C630.24 671.97 630.66 671.66 631.05 671.46 C631.43 671.25 631.91 671.11 632.34 671.08 C632.76 671.05 633.19 671.21 633.6 671.3 C634.02 671.38 634.48 671.39 634.84 671.58 C635.2 671.76 635.57 672.07 635.77 672.39 C635.98 672.71 636.12 673.14 636.09 673.5Z" fill="#2e2628" opacity="0.8" filter="url(#fb)"/>
<ellipse cx="661.6" cy="669.4" rx="3.7" ry="3.5" fill="#d8bb9c" filter="url(#fb)"/>
<ellipse cx="661.3" cy="669.4" rx="1.6" ry="1.5" fill="#c09c7c" opacity="0.6" filter="url(#fb)"/>
<ellipse cx="658.4" cy="684" rx="3.7" ry="3.5" fill="#d8bb9c" filter="url(#fb)"/>
<ellipse cx="658.1" cy="684" rx="1.6" ry="1.5" fill="#c09c7c" opacity="0.6" filter="url(#fb)"/>
</g>
</g>
<rect x="599.4" y="643.6" width="84.4" height="63.8" fill="none" stroke="#555" stroke-width="0.9" />
<g clip-path="url(#jc511_710)">
<rect x="511.4" y="710.4" width="85" height="63" fill="url(#jbg)" />
<ellipse cx="554.75" cy="750.35" rx="26.78" ry="6.88" fill="#c8c8c8" opacity="0.45" filter="url(#fb2)"/>
<g transform="rotate(0 554.75 741.6)">
<path d="M528 741.6 Q521 741.12 513 740" fill="none" stroke="#8a5a4e" stroke-width="1.4" />
<path d="M531.4 736.8 L526.4 732" fill="none" stroke="#dba8a0" stroke-width="2.2" stroke-linecap="round"/>
<path d="M531 746.3 L526 751" fill="none" stroke="#dba8a0" stroke-width="2.2" stroke-linecap="round"/>
<path d="M584.5 741.6 C584.5 740.77 584.1 740.04 583.31 739.1 C582.52 738.16 581.13 736.73 579.74 735.98 C578.35 735.23 576.37 734.98 574.98 734.6 C573.59 734.23 572.8 734.1 571.41 733.73 C570.02 733.35 568.93 732.83 566.65 732.35 C564.37 731.87 561.2 731.33 557.73 730.85 C554.25 730.37 549.3 729.77 545.83 729.48 C542.35 729.18 539.38 729 536.9 729.1 C534.42 729.2 532.54 729.43 530.95 730.1 C529.36 730.77 528.27 731.89 527.38 733.1 C526.49 734.31 525.99 735.93 525.6 737.35 C525.2 738.77 525 740.18 525 741.6 C525 743.02 525.2 744.43 525.6 745.85 C525.99 747.27 526.49 748.89 527.38 750.1 C528.27 751.31 529.36 752.43 530.95 753.1 C532.54 753.77 534.42 754 536.9 754.1 C539.38 754.2 542.35 754.02 545.83 753.73 C549.3 753.43 554.25 752.83 557.73 752.35 C561.2 751.87 564.37 751.33 566.65 750.85 C568.93 750.37 570.02 749.85 571.41 749.48 C572.8 749.1 573.59 748.98 574.98 748.6 C576.37 748.23 578.35 747.98 579.74 747.23 C581.13 746.48 582.52 745.04 583.31 744.1 C584.1 743.16 584.5 742.43 584.5 741.6Z" fill="#2e2627" filter="url(#fuzz)"/>
<ellipse cx="545.83" cy="737.85" rx="14.88" ry="5" fill="#4a3c3a" opacity="0.45" filter="url(#fb2)"/>
<path d="M572.24 742 C572.24 743.38 571.53 745 570.35 746.15 C569.17 747.3 567.04 748.22 565.17 748.9 C563.31 749.59 561.23 749.95 559.14 750.27 C557.06 750.58 554.7 751.03 552.65 750.8 C550.61 750.57 548.71 749.65 546.86 748.88 C545.01 748.1 542.42 747.32 541.56 746.17 C540.71 745.02 541.54 743.34 541.71 742 C541.87 740.66 541.77 739.31 542.56 738.12 C543.35 736.92 544.83 735.78 546.46 734.82 C548.09 733.86 550.19 732.63 552.34 732.37 C554.48 732.1 557.25 732.72 559.34 733.22 C561.43 733.71 563.03 734.56 564.86 735.33 C566.7 736.11 569.11 736.74 570.34 737.86 C571.57 738.97 572.24 740.62 572.24 742Z" fill="#c6c9d4" filter="url(#fb)"/>
<path d="M567.71 743 C567.62 743.8 566.78 744.49 566.35 745.29 C565.92 746.1 565.88 747.19 565.14 747.83 C564.39 748.47 563.02 748.94 561.86 749.12 C560.71 749.3 559.37 749.11 558.21 748.89 C557.04 748.68 555.65 748.42 554.87 747.82 C554.1 747.23 554.01 746.13 553.55 745.33 C553.09 744.53 552.25 743.83 552.09 743 C551.93 742.17 552.09 741.09 552.6 740.33 C553.1 739.56 554.16 738.87 555.12 738.41 C556.08 737.95 557.28 737.61 558.34 737.55 C559.41 737.49 560.47 737.86 561.51 738.04 C562.55 738.23 563.7 738.26 564.6 738.67 C565.51 739.08 566.42 739.77 566.94 740.49 C567.46 741.22 567.81 742.2 567.71 743Z" fill="#dcc4c4" opacity="0.9" filter="url(#fb2)"/>
<path d="M549.3 740 C549.35 740.53 549.25 741.24 549.01 741.69 C548.77 742.14 548.24 742.38 547.86 742.72 C547.48 743.06 547.14 743.63 546.73 743.71 C546.31 743.79 545.83 743.35 545.37 743.22 C544.92 743.09 544.34 743.22 543.99 742.94 C543.64 742.66 543.37 742.03 543.27 741.54 C543.16 741.05 543.37 740.52 543.35 740 C543.33 739.48 543.02 738.85 543.15 738.4 C543.29 737.96 543.82 737.68 544.17 737.33 C544.53 736.98 544.86 736.47 545.28 736.32 C545.7 736.18 546.3 736.24 546.69 736.45 C547.09 736.66 547.31 737.25 547.65 737.59 C547.98 737.93 548.42 738.08 548.7 738.48 C548.97 738.89 549.25 739.47 549.3 740Z" fill="#3a3438" opacity="0.7" filter="url(#fb)"/>
<ellipse cx="573" cy="735.4" rx="3.7" ry="3.5" fill="#d8bb9c" filter="url(#fb)"/>
<ellipse cx="572.7" cy="735.4" rx="1.6" ry="1.5" fill="#c09c7c" opacity="0.6" filter="url(#fb)"/>
<ellipse cx="573.6" cy="748.4" rx="3.7" ry="3.5" fill="#d8bb9c" filter="url(#fb)"/>
<ellipse cx="573.3" cy="748.4" rx="1.6" ry="1.5" fill="#c09c7c" opacity="0.6" filter="url(#fb)"/>
</g>
</g>
<rect x="511.4" y="710.4" width="85" height="63" fill="none" stroke="#555" stroke-width="0.9" />
<g clip-path="url(#jc599_710)">
<rect x="599.4" y="710.4" width="84.4" height="63" fill="url(#jbg)" />
<ellipse cx="639" cy="751.75" rx="28.8" ry="7.43" fill="#c8c8c8" opacity="0.45" filter="url(#fb2)"/>
<g transform="rotate(0 639 742.3)">
<path d="M610 742.3 Q603 741.91 600 741" fill="none" stroke="#8a5a4e" stroke-width="1.4" />
<path d="M613 738.45 L608 734.6" fill="none" stroke="#dba8a0" stroke-width="2.2" stroke-linecap="round"/>
<path d="M613.6 747.65 L608.6 753" fill="none" stroke="#dba8a0" stroke-width="2.2" stroke-linecap="round"/>
<path d="M671 742.3 C671 741.4 670.57 740.61 669.72 739.6 C668.87 738.59 667.37 737.03 665.88 736.22 C664.39 735.41 662.25 735.14 660.76 734.74 C659.27 734.34 658.41 734.2 656.92 733.79 C655.43 733.39 654.25 732.83 651.8 732.31 C649.35 731.79 645.93 731.21 642.2 730.69 C638.47 730.17 633.13 729.52 629.4 729.2 C625.67 728.89 622.47 728.69 619.8 728.8 C617.13 728.91 615.11 729.16 613.4 729.88 C611.69 730.6 610.52 731.82 609.56 733.12 C608.6 734.42 608.07 736.18 607.64 737.71 C607.21 739.24 607 740.77 607 742.3 C607 743.83 607.21 745.36 607.64 746.89 C608.07 748.42 608.6 750.17 609.56 751.48 C610.52 752.78 611.69 754 613.4 754.72 C615.11 755.44 617.13 755.69 619.8 755.8 C622.47 755.91 625.67 755.71 629.4 755.39 C633.13 755.08 638.47 754.43 642.2 753.91 C645.93 753.39 649.35 752.81 651.8 752.29 C654.25 751.77 655.43 751.21 656.92 750.8 C658.41 750.4 659.27 750.26 660.76 749.86 C662.25 749.45 664.39 749.18 665.88 748.38 C667.37 747.57 668.87 746.01 669.72 745 C670.57 743.99 671 743.2 671 742.3Z" fill="#2e2627" filter="url(#fuzz)"/>
<ellipse cx="629.4" cy="738.25" rx="16" ry="5.4" fill="#4a3c3a" opacity="0.45" filter="url(#fb2)"/>
<path d="M658.28 742 C658.28 743.38 657.55 745 656.33 746.15 C655.11 747.3 652.91 748.22 650.98 748.9 C649.05 749.59 646.91 749.95 644.75 750.27 C642.59 750.58 640.16 751.03 638.04 750.8 C635.93 750.57 633.97 749.65 632.06 748.88 C630.15 748.1 627.47 747.32 626.58 746.17 C625.7 745.02 626.56 743.34 626.73 742 C626.9 740.66 626.79 739.31 627.61 738.12 C628.43 736.92 629.96 735.78 631.64 734.82 C633.33 733.86 635.49 732.63 637.71 732.37 C639.93 732.1 642.8 732.72 644.95 733.22 C647.11 733.71 648.76 734.56 650.66 735.33 C652.55 736.11 655.05 736.74 656.32 737.86 C657.59 738.97 658.28 740.62 658.28 742Z" fill="#c6cad6" filter="url(#fb)"/>
<path d="M653.47 743 C653.37 743.8 652.51 744.49 652.06 745.29 C651.62 746.1 651.58 747.19 650.81 747.83 C650.03 748.47 648.62 748.94 647.42 749.12 C646.23 749.3 644.85 749.11 643.65 748.89 C642.44 748.68 641 748.42 640.2 747.82 C639.4 747.23 639.32 746.13 638.84 745.33 C638.36 744.53 637.49 743.83 637.32 743 C637.16 742.17 637.33 741.09 637.85 740.33 C638.37 739.56 639.46 738.87 640.45 738.41 C641.44 737.95 642.69 737.61 643.79 737.55 C644.89 737.49 645.98 737.86 647.06 738.04 C648.14 738.23 649.32 738.26 650.26 738.67 C651.19 739.08 652.13 739.77 652.67 740.49 C653.2 741.22 653.57 742.2 653.47 743Z" fill="#dcc4c4" opacity="0.9" filter="url(#fb2)"/>
<path d="M634.3 740 C634.35 740.53 634.25 741.24 634.01 741.69 C633.77 742.14 633.24 742.38 632.86 742.72 C632.48 743.06 632.14 743.63 631.73 743.71 C631.31 743.79 630.83 743.35 630.37 743.22 C629.92 743.09 629.34 743.22 628.99 742.94 C628.64 742.66 628.37 742.03 628.27 741.54 C628.16 741.05 628.37 740.52 628.35 740 C628.33 739.48 628.02 738.85 628.15 738.4 C628.29 737.96 628.82 737.68 629.17 737.33 C629.53 736.98 629.86 736.47 630.28 736.32 C630.7 736.18 631.3 736.24 631.69 736.45 C632.09 736.66 632.31 737.25 632.65 737.59 C632.98 737.93 633.42 738.08 633.7 738.48 C633.97 738.89 634.25 739.47 634.3 740Z" fill="#3a3438" opacity="0.7" filter="url(#fb)"/>
<ellipse cx="657.6" cy="735.6" rx="3.7" ry="3.5" fill="#d8bb9c" filter="url(#fb)"/>
<ellipse cx="657.3" cy="735.6" rx="1.6" ry="1.5" fill="#c09c7c" opacity="0.6" filter="url(#fb)"/>
<ellipse cx="656" cy="750" rx="3.7" ry="3.5" fill="#d8bb9c" filter="url(#fb)"/>
<ellipse cx="655.7" cy="750" rx="1.6" ry="1.5" fill="#c09c7c" opacity="0.6" filter="url(#fb)"/>
</g>
</g>
<rect x="599.4" y="710.4" width="84.4" height="63" fill="none" stroke="#555" stroke-width="0.9" />
<g clip-path="url(#jc511_776)">
<rect x="511.4" y="776.4" width="85" height="63" fill="url(#jbg)" />
<ellipse cx="557.5" cy="818.05" rx="27.45" ry="7.43" fill="#c8c8c8" opacity="0.45" filter="url(#fb2)"/>
<g transform="rotate(0 557.5 808.6)">
<path d="M530 808.6 Q523 808.12 513 807" fill="none" stroke="#8a5a4e" stroke-width="1.4" />
<path d="M532 802.8 L527 797" fill="none" stroke="#dba8a0" stroke-width="2.2" stroke-linecap="round"/>
<path d="M533 814.8 L528 821" fill="none" stroke="#dba8a0" stroke-width="2.2" stroke-linecap="round"/>
<path d="M588 808.6 C588 807.7 587.59 806.91 586.78 805.9 C585.97 804.89 584.54 803.33 583.12 802.52 C581.7 801.72 579.66 801.45 578.24 801.04 C576.82 800.64 576 800.5 574.58 800.1 C573.16 799.69 572.04 799.13 569.7 798.61 C567.36 798.09 564.11 797.51 560.55 796.99 C556.99 796.47 551.91 795.82 548.35 795.5 C544.79 795.19 541.74 794.99 539.2 795.1 C536.66 795.21 534.73 795.46 533.1 796.18 C531.47 796.9 530.36 798.12 529.44 799.42 C528.53 800.73 528.02 802.48 527.61 804.01 C527.2 805.54 527 807.07 527 808.6 C527 810.13 527.2 811.66 527.61 813.19 C528.02 814.72 528.53 816.48 529.44 817.78 C530.36 819.08 531.47 820.3 533.1 821.02 C534.73 821.74 536.66 821.99 539.2 822.1 C541.74 822.21 544.79 822.01 548.35 821.7 C551.91 821.38 556.99 820.73 560.55 820.21 C564.11 819.69 567.36 819.11 569.7 818.59 C572.04 818.07 573.16 817.51 574.58 817.11 C576 816.7 576.82 816.56 578.24 816.16 C579.66 815.75 581.7 815.49 583.12 814.68 C584.54 813.87 585.97 812.31 586.78 811.3 C587.59 810.29 588 809.5 588 808.6Z" fill="#2e2627" filter="url(#fuzz)"/>
<ellipse cx="548.35" cy="804.55" rx="15.25" ry="5.4" fill="#4a3c3a" opacity="0.45" filter="url(#fb2)"/>
<path d="M560.41 805.5 C560.41 806.04 560.18 806.67 559.78 807.11 C559.39 807.56 558.68 807.92 558.06 808.18 C557.44 808.45 556.74 808.59 556.05 808.71 C555.35 808.84 554.57 809.01 553.88 808.92 C553.2 808.83 552.57 808.47 551.95 808.17 C551.34 807.87 550.47 807.57 550.19 807.12 C549.9 806.68 550.18 806.02 550.24 805.5 C550.29 804.98 550.26 804.46 550.52 803.99 C550.78 803.52 551.28 803.08 551.82 802.71 C552.36 802.34 553.06 801.86 553.78 801.75 C554.49 801.65 555.42 801.89 556.11 802.08 C556.81 802.28 557.34 802.61 557.95 802.91 C558.57 803.21 559.37 803.46 559.78 803.89 C560.19 804.32 560.41 804.96 560.41 805.5Z" fill="#b8b4b8" filter="url(#fb)"/>
<ellipse cx="576.4" cy="799" rx="3.7" ry="3.5" fill="#d8bb9c" filter="url(#fb)"/>
<ellipse cx="576.1" cy="799" rx="1.6" ry="1.5" fill="#c09c7c" opacity="0.6" filter="url(#fb)"/>
<ellipse cx="577" cy="815" rx="3.7" ry="3.5" fill="#d8bb9c" filter="url(#fb)"/>
<ellipse cx="576.7" cy="815" rx="1.6" ry="1.5" fill="#c09c7c" opacity="0.6" filter="url(#fb)"/>
</g>
</g>
<rect x="511.4" y="776.4" width="85" height="63" fill="none" stroke="#555" stroke-width="0.9" />
<g clip-path="url(#jc599_776)">
<rect x="599.4" y="776.4" width="84.4" height="63" fill="url(#jbg)" />
<ellipse cx="639.5" cy="818.5" rx="28.8" ry="8.25" fill="#c8c8c8" opacity="0.45" filter="url(#fb2)"/>
<g transform="rotate(-5 639.5 808)">
<path d="M610.5 808 Q603.5 809.5 600 813" fill="none" stroke="#8a5a4e" stroke-width="1.4" />
<path d="M616 801.5 L611 795" fill="none" stroke="#dba8a0" stroke-width="2.2" stroke-linecap="round"/>
<path d="M615 815 L610 822" fill="none" stroke="#dba8a0" stroke-width="2.2" stroke-linecap="round"/>
<path d="M671.5 808 C671.5 807 671.07 806.12 670.22 805 C669.37 803.88 667.87 802.15 666.38 801.25 C664.89 800.35 662.75 800.05 661.26 799.6 C659.77 799.15 658.91 799 657.42 798.55 C655.93 798.1 654.75 797.47 652.3 796.9 C649.85 796.33 646.43 795.67 642.7 795.1 C638.97 794.53 633.63 793.8 629.9 793.45 C626.17 793.1 622.97 792.88 620.3 793 C617.63 793.12 615.61 793.4 613.9 794.2 C612.19 795 611.02 796.35 610.06 797.8 C609.1 799.25 608.57 801.2 608.14 802.9 C607.71 804.6 607.5 806.3 607.5 808 C607.5 809.7 607.71 811.4 608.14 813.1 C608.57 814.8 609.1 816.75 610.06 818.2 C611.02 819.65 612.19 821 613.9 821.8 C615.61 822.6 617.63 822.88 620.3 823 C622.97 823.12 626.17 822.9 629.9 822.55 C633.63 822.2 638.97 821.47 642.7 820.9 C646.43 820.33 649.85 819.67 652.3 819.1 C654.75 818.53 655.93 817.9 657.42 817.45 C658.91 817 659.77 816.85 661.26 816.4 C662.75 815.95 664.89 815.65 666.38 814.75 C667.87 813.85 669.37 812.12 670.22 811 C671.07 809.88 671.5 809 671.5 808Z" fill="#2e2627" filter="url(#fuzz)"/>
<ellipse cx="629.9" cy="803.5" rx="16" ry="6" fill="#4a3c3a" opacity="0.45" filter="url(#fb2)"/>
<path d="M648.5 801.75 C648.5 802.02 648.21 802.33 647.74 802.56 C647.27 802.78 646.42 802.96 645.67 803.09 C644.92 803.23 644.09 803.3 643.26 803.36 C642.42 803.42 641.48 803.51 640.66 803.46 C639.84 803.42 639.08 803.24 638.34 803.09 C637.61 802.94 636.57 802.78 636.23 802.56 C635.88 802.34 636.22 802.01 636.28 801.75 C636.35 801.49 636.31 801.23 636.62 800.99 C636.94 800.76 637.53 800.54 638.18 800.35 C638.84 800.17 639.68 799.93 640.53 799.88 C641.39 799.82 642.5 799.95 643.34 800.04 C644.17 800.14 644.81 800.3 645.55 800.45 C646.28 800.6 647.25 800.73 647.74 800.94 C648.23 801.16 648.5 801.48 648.5 801.75Z" fill="#c8c4c8" filter="url(#fb)"/>
<ellipse cx="662.9" cy="798.4" rx="3.7" ry="3.5" fill="#d8bb9c" filter="url(#fb)"/>
<ellipse cx="662.6" cy="798.4" rx="1.6" ry="1.5" fill="#c09c7c" opacity="0.6" filter="url(#fb)"/>
<ellipse cx="659.5" cy="814.2" rx="3.7" ry="3.5" fill="#d8bb9c" filter="url(#fb)"/>
<ellipse cx="659.2" cy="814.2" rx="1.6" ry="1.5" fill="#c09c7c" opacity="0.6" filter="url(#fb)"/>
</g>
</g>
<rect x="599.4" y="776.4" width="84.4" height="63" fill="none" stroke="#555" stroke-width="0.9" />
<g clip-path="url(#jc511_842)">
<rect x="511.4" y="842.5" width="85" height="63" fill="url(#jbg)" />
<ellipse cx="553" cy="882.8" rx="27" ry="7.7" fill="#c8c8c8" opacity="0.45" filter="url(#fb2)"/>
<g transform="rotate(-6 553 873)">
<path d="M526 873 Q519 872.7 513 872" fill="none" stroke="#8a5a4e" stroke-width="1.4" />
<path d="M537 866 L532 859" fill="none" stroke="#dba8a0" stroke-width="2.2" stroke-linecap="round"/>
<path d="M533 880 L528 887" fill="none" stroke="#dba8a0" stroke-width="2.2" stroke-linecap="round"/>
<path d="M583 873 C583 872.07 582.6 871.25 581.8 870.2 C581 869.15 579.6 867.54 578.2 866.7 C576.8 865.86 574.8 865.58 573.4 865.16 C572 864.74 571.2 864.6 569.8 864.18 C568.4 863.76 567.3 863.18 565 862.64 C562.7 862.1 559.5 861.5 556 860.96 C552.5 860.42 547.5 859.75 544 859.42 C540.5 859.09 537.5 858.88 535 859 C532.5 859.12 530.6 859.37 529 860.12 C527.4 860.87 526.3 862.13 525.4 863.48 C524.5 864.83 524 866.65 523.6 868.24 C523.2 869.83 523 871.41 523 873 C523 874.59 523.2 876.17 523.6 877.76 C524 879.35 524.5 881.17 525.4 882.52 C526.3 883.87 527.4 885.13 529 885.88 C530.6 886.63 532.5 886.88 535 887 C537.5 887.12 540.5 886.91 544 886.58 C547.5 886.25 552.5 885.58 556 885.04 C559.5 884.5 562.7 883.9 565 883.36 C567.3 882.82 568.4 882.24 569.8 881.82 C571.2 881.4 572 881.26 573.4 880.84 C574.8 880.42 576.8 880.14 578.2 879.3 C579.6 878.46 581 876.85 581.8 875.8 C582.6 874.75 583 873.93 583 873Z" fill="#2e2627" filter="url(#fuzz)"/>
<ellipse cx="544" cy="868.8" rx="15" ry="5.6" fill="#4a3c3a" opacity="0.45" filter="url(#fb2)"/>
<ellipse cx="574.4" cy="865" rx="3.7" ry="3.5" fill="#d8bb9c" filter="url(#fb)"/>
<ellipse cx="574.1" cy="865" rx="1.6" ry="1.5" fill="#c09c7c" opacity="0.6" filter="url(#fb)"/>
<ellipse cx="574.4" cy="881" rx="3.7" ry="3.5" fill="#d8bb9c" filter="url(#fb)"/>
<ellipse cx="574.1" cy="881" rx="1.6" ry="1.5" fill="#c09c7c" opacity="0.6" filter="url(#fb)"/>
</g>
</g>
<rect x="511.4" y="842.5" width="85" height="63" fill="none" stroke="#555" stroke-width="0.9" />
<g clip-path="url(#jc599_842)">
<rect x="599.4" y="842.5" width="84.4" height="63" fill="url(#jbg)" />
<ellipse cx="640.5" cy="882.64" rx="28.35" ry="8.36" fill="#c8c8c8" opacity="0.45" filter="url(#fb2)"/>
<g transform="rotate(8 640.5 872)">
<path d="M612 872 Q605 870.2 600 866" fill="none" stroke="#8a5a4e" stroke-width="1.4" />
<path d="M624 864 L619 856" fill="none" stroke="#dba8a0" stroke-width="2.2" stroke-linecap="round"/>
<path d="M617 878.5 L612 885" fill="none" stroke="#dba8a0" stroke-width="2.2" stroke-linecap="round"/>
<path d="M672 872 C672 870.99 671.58 870.1 670.74 868.96 C669.9 867.82 668.43 866.07 666.96 865.16 C665.49 864.25 663.39 863.94 661.92 863.49 C660.45 863.03 659.61 862.88 658.14 862.42 C656.67 861.97 655.51 861.33 653.1 860.75 C650.69 860.17 647.33 859.51 643.65 858.93 C639.97 858.35 634.72 857.61 631.05 857.26 C627.38 856.9 624.23 856.67 621.6 856.8 C618.98 856.93 616.98 857.21 615.3 858.02 C613.62 858.83 612.46 860.19 611.52 861.66 C610.58 863.13 610.05 865.11 609.63 866.83 C609.21 868.55 609 870.28 609 872 C609 873.72 609.21 875.45 609.63 877.17 C610.05 878.89 610.58 880.87 611.52 882.34 C612.46 883.81 613.62 885.17 615.3 885.98 C616.98 886.79 618.98 887.07 621.6 887.2 C624.23 887.33 627.38 887.1 631.05 886.74 C634.72 886.39 639.97 885.65 643.65 885.07 C647.33 884.49 650.69 883.83 653.1 883.25 C655.51 882.67 656.67 882.03 658.14 881.58 C659.61 881.12 660.45 880.97 661.92 880.51 C663.39 880.06 665.49 879.75 666.96 878.84 C668.43 877.93 669.9 876.18 670.74 875.04 C671.58 873.9 672 873.01 672 872Z" fill="#2e2627" filter="url(#fuzz)"/>
<ellipse cx="631.05" cy="867.44" rx="15.75" ry="6.08" fill="#4a3c3a" opacity="0.45" filter="url(#fb2)"/>
<ellipse cx="662.4" cy="863" rx="3.7" ry="3.5" fill="#d8bb9c" filter="url(#fb)"/>
<ellipse cx="662.1" cy="863" rx="1.6" ry="1.5" fill="#c09c7c" opacity="0.6" filter="url(#fb)"/>
<ellipse cx="662.4" cy="880" rx="3.7" ry="3.5" fill="#d8bb9c" filter="url(#fb)"/>
<ellipse cx="662.1" cy="880" rx="1.6" ry="1.5" fill="#c09c7c" opacity="0.6" filter="url(#fb)"/>
</g>
</g>
<rect x="599.4" y="842.5" width="84.4" height="63" fill="none" stroke="#555" stroke-width="0.9" />
<g clip-path="url(#jc511_908)">
<rect x="511.4" y="908.4" width="85" height="64.2" fill="url(#jbg)" />
<rect x="511.4" y="908.4" width="85" height="10" fill="#ececec" />
<path d="M512.4 918.4v-5M514 918.4v-2.5M515.6 918.4v-2.5M517.2 918.4v-2.5M518.8 918.4v-2.5M520.4 918.4v-5M522 918.4v-2.5M523.6 918.4v-2.5M525.2 918.4v-2.5M526.8 918.4v-2.5M528.4 918.4v-5M530 918.4v-2.5M531.6 918.4v-2.5M533.2 918.4v-2.5M534.8 918.4v-2.5M536.4 918.4v-5M538 918.4v-2.5M539.6 918.4v-2.5M541.2 918.4v-2.5M542.8 918.4v-2.5M544.4 918.4v-5M546 918.4v-2.5M547.6 918.4v-2.5M549.2 918.4v-2.5M550.8 918.4v-2.5M552.4 918.4v-5M554 918.4v-2.5M555.6 918.4v-2.5M557.2 918.4v-2.5M558.8 918.4v-2.5M560.4 918.4v-5M562 918.4v-2.5M563.6 918.4v-2.5M565.2 918.4v-2.5M566.8 918.4v-2.5M568.4 918.4v-5M570 918.4v-2.5M571.6 918.4v-2.5M573.2 918.4v-2.5M574.8 918.4v-2.5M576.4 918.4v-5M578 918.4v-2.5M579.6 918.4v-2.5M581.2 918.4v-2.5M582.8 918.4v-2.5M584.4 918.4v-5M586 918.4v-2.5M587.6 918.4v-2.5M589.2 918.4v-2.5M590.8 918.4v-2.5M592.4 918.4v-5M594 918.4v-2.5M595.6 918.4v-2.5" fill="none" stroke="#8a8a8a" stroke-width="0.4" />
<rect x="512.9" y="918.4" width="7" height="54.2" fill="#e4e4e4" />
<path d="M512.9 919.4h5M512.9 921h2.5M512.9 922.6h2.5M512.9 924.2h2.5M512.9 925.8h2.5M512.9 927.4h5M512.9 929h2.5M512.9 930.6h2.5M512.9 932.2h2.5M512.9 933.8h2.5M512.9 935.4h5M512.9 937h2.5M512.9 938.6h2.5M512.9 940.2h2.5M512.9 941.8h2.5M512.9 943.4h5M512.9 945h2.5M512.9 946.6h2.5M512.9 948.2h2.5M512.9 949.8h2.5M512.9 951.4h5M512.9 953h2.5M512.9 954.6h2.5M512.9 956.2h2.5M512.9 957.8h2.5M512.9 959.4h5M512.9 961h2.5M512.9 962.6h2.5M512.9 964.2h2.5M512.9 965.8h2.5M512.9 967.4h5M512.9 969h2.5M512.9 970.6h2.5" fill="none" stroke="#8a8a8a" stroke-width="0.4" />
<ellipse cx="559.5" cy="958.5" rx="28.35" ry="8.25" fill="#c8c8c8" opacity="0.45" filter="url(#fb2)"/>
<g transform="rotate(0 559.5 948)">
<path d="M531 948 Q524 946.5 513 943" fill="none" stroke="#8a5a4e" stroke-width="1.4" />
<path d="M540 938.5 L535 929" fill="none" stroke="#dba8a0" stroke-width="2.2" stroke-linecap="round"/>
<path d="M536 954 L531 960" fill="none" stroke="#dba8a0" stroke-width="2.2" stroke-linecap="round"/>
<path d="M591 948 C591 947 590.58 946.12 589.74 945 C588.9 943.88 587.43 942.15 585.96 941.25 C584.49 940.35 582.39 940.05 580.92 939.6 C579.45 939.15 578.61 939 577.14 938.55 C575.67 938.1 574.51 937.47 572.1 936.9 C569.69 936.33 566.33 935.67 562.65 935.1 C558.97 934.53 553.72 933.8 550.05 933.45 C546.38 933.1 543.23 932.88 540.6 933 C537.98 933.12 535.98 933.4 534.3 934.2 C532.62 935 531.46 936.35 530.52 937.8 C529.58 939.25 529.05 941.2 528.63 942.9 C528.21 944.6 528 946.3 528 948 C528 949.7 528.21 951.4 528.63 953.1 C529.05 954.8 529.58 956.75 530.52 958.2 C531.46 959.65 532.62 961 534.3 961.8 C535.98 962.6 537.98 962.88 540.6 963 C543.23 963.12 546.38 962.9 550.05 962.55 C553.72 962.2 558.97 961.47 562.65 960.9 C566.33 960.33 569.69 959.67 572.1 959.1 C574.51 958.53 575.67 957.9 577.14 957.45 C578.61 957 579.45 956.85 580.92 956.4 C582.39 955.95 584.49 955.65 585.96 954.75 C587.43 953.85 588.9 952.12 589.74 951 C590.58 949.88 591 949 591 948Z" fill="#2e2627" filter="url(#fuzz)"/>
<ellipse cx="550.05" cy="943.5" rx="15.75" ry="6" fill="#4a3c3a" opacity="0.45" filter="url(#fb2)"/>
<ellipse cx="578" cy="942.4" rx="3.7" ry="3.5" fill="#d8bb9c" filter="url(#fb)"/>
<ellipse cx="577.7" cy="942.4" rx="1.6" ry="1.5" fill="#c09c7c" opacity="0.6" filter="url(#fb)"/>
<ellipse cx="577.6" cy="957" rx="3.7" ry="3.5" fill="#d8bb9c" filter="url(#fb)"/>
<ellipse cx="577.3" cy="957" rx="1.6" ry="1.5" fill="#c09c7c" opacity="0.6" filter="url(#fb)"/>
</g>
<line x1="585.9" y1="968.6" x2="591.9" y2="968.6" stroke="#333" stroke-width="1.3" />
</g>
<rect x="511.4" y="908.4" width="85" height="64.2" fill="none" stroke="#555" stroke-width="0.9" />
<g clip-path="url(#jc599_908)">
<rect x="599.4" y="908.4" width="84.4" height="64.2" fill="url(#jbg)" />
<rect x="599.4" y="908.4" width="84.4" height="10" fill="#ececec" />
<path d="M600.4 918.4v-5M602 918.4v-2.5M603.6 918.4v-2.5M605.2 918.4v-2.5M606.8 918.4v-2.5M608.4 918.4v-5M610 918.4v-2.5M611.6 918.4v-2.5M613.2 918.4v-2.5M614.8 918.4v-2.5M616.4 918.4v-5M618 918.4v-2.5M619.6 918.4v-2.5M621.2 918.4v-2.5M622.8 918.4v-2.5M624.4 918.4v-5M626 918.4v-2.5M627.6 918.4v-2.5M629.2 918.4v-2.5M630.8 918.4v-2.5M632.4 918.4v-5M634 918.4v-2.5M635.6 918.4v-2.5M637.2 918.4v-2.5M638.8 918.4v-2.5M640.4 918.4v-5M642 918.4v-2.5M643.6 918.4v-2.5M645.2 918.4v-2.5M646.8 918.4v-2.5M648.4 918.4v-5M650 918.4v-2.5M651.6 918.4v-2.5M653.2 918.4v-2.5M654.8 918.4v-2.5M656.4 918.4v-5M658 918.4v-2.5M659.6 918.4v-2.5M661.2 918.4v-2.5M662.8 918.4v-2.5M664.4 918.4v-5M666 918.4v-2.5M667.6 918.4v-2.5M669.2 918.4v-2.5M670.8 918.4v-2.5M672.4 918.4v-5M674 918.4v-2.5M675.6 918.4v-2.5M677.2 918.4v-2.5M678.8 918.4v-2.5M680.4 918.4v-5M682 918.4v-2.5" fill="none" stroke="#8a8a8a" stroke-width="0.4" />
<rect x="600.9" y="918.4" width="7" height="54.2" fill="#e4e4e4" />
<path d="M600.9 919.4h5M600.9 921h2.5M600.9 922.6h2.5M600.9 924.2h2.5M600.9 925.8h2.5M600.9 927.4h5M600.9 929h2.5M600.9 930.6h2.5M600.9 932.2h2.5M600.9 933.8h2.5M600.9 935.4h5M600.9 937h2.5M600.9 938.6h2.5M600.9 940.2h2.5M600.9 941.8h2.5M600.9 943.4h5M600.9 945h2.5M600.9 946.6h2.5M600.9 948.2h2.5M600.9 949.8h2.5M600.9 951.4h5M600.9 953h2.5M600.9 954.6h2.5M600.9 956.2h2.5M600.9 957.8h2.5M600.9 959.4h5M600.9 961h2.5M600.9 962.6h2.5M600.9 964.2h2.5M600.9 965.8h2.5M600.9 967.4h5M600.9 969h2.5M600.9 970.6h2.5" fill="none" stroke="#8a8a8a" stroke-width="0.4" />
<ellipse cx="647.25" cy="952.31" rx="29.03" ry="7.87" fill="#c8c8c8" opacity="0.45" filter="url(#fb2)"/>
<g transform="rotate(0 647.25 942.3)">
<path d="M618 942.3 Q611 941.31 600 939" fill="none" stroke="#8a5a4e" stroke-width="1.4" />
<path d="M626 934.15 L621 926" fill="none" stroke="#dba8a0" stroke-width="2.2" stroke-linecap="round"/>
<path d="M679.5 942.3 C679.5 941.35 679.07 940.51 678.21 939.44 C677.35 938.37 675.85 936.72 674.34 935.87 C672.84 935.01 670.68 934.72 669.18 934.29 C667.67 933.86 666.81 933.72 665.31 933.29 C663.8 932.86 662.62 932.27 660.15 931.72 C657.68 931.17 654.24 930.55 650.48 930 C646.71 929.45 641.34 928.76 637.58 928.43 C633.81 928.1 630.59 927.88 627.9 928 C625.21 928.12 623.17 928.38 621.45 929.14 C619.73 929.91 618.55 931.19 617.58 932.58 C616.61 933.96 616.08 935.82 615.64 937.44 C615.21 939.06 615 940.68 615 942.3 C615 943.92 615.21 945.54 615.64 947.16 C616.08 948.78 616.61 950.64 617.58 952.02 C618.55 953.41 619.73 954.69 621.45 955.46 C623.17 956.22 625.21 956.48 627.9 956.6 C630.59 956.72 633.81 956.5 637.58 956.17 C641.34 955.84 646.71 955.15 650.48 954.6 C654.24 954.05 657.68 953.43 660.15 952.88 C662.62 952.33 663.8 951.74 665.31 951.31 C666.81 950.88 667.67 950.74 669.18 950.31 C670.68 949.88 672.84 949.59 674.34 948.73 C675.85 947.88 677.35 946.23 678.21 945.16 C679.07 944.09 679.5 943.25 679.5 942.3Z" fill="#2e2627" filter="url(#fuzz)"/>
<ellipse cx="637.58" cy="938.01" rx="16.12" ry="5.72" fill="#4a3c3a" opacity="0.45" filter="url(#fb2)"/>
<ellipse cx="666.4" cy="936" rx="3.7" ry="3.5" fill="#d8bb9c" filter="url(#fb)"/>
<ellipse cx="666.1" cy="936" rx="1.6" ry="1.5" fill="#c09c7c" opacity="0.6" filter="url(#fb)"/>
<ellipse cx="668" cy="950.6" rx="3.7" ry="3.5" fill="#d8bb9c" filter="url(#fb)"/>
<ellipse cx="667.7" cy="950.6" rx="1.6" ry="1.5" fill="#c09c7c" opacity="0.6" filter="url(#fb)"/>
</g>
</g>
<rect x="599.4" y="908.4" width="84.4" height="64.2" fill="none" stroke="#555" stroke-width="0.9" />
<text x="-0.5" y="827" font-size="14" font-weight="bold">k</text>
<line x1="53.5" y1="828" x2="53.5" y2="943.5" stroke="#231f20" stroke-width="1" />
<line x1="48" y1="943.5" x2="53" y2="943.5" stroke="#231f20" stroke-width="1" />
<text x="45.8" y="946.5" font-size="10" text-anchor="end" stroke="#231f20" stroke-width="0.22">0</text>
<line x1="48" y1="922.5" x2="53" y2="922.5" stroke="#231f20" stroke-width="1" />
<text x="45.8" y="925.5" font-size="10" text-anchor="end" stroke="#231f20" stroke-width="0.22">20</text>
<line x1="48" y1="901.5" x2="53" y2="901.5" stroke="#231f20" stroke-width="1" />
<text x="45.8" y="904.5" font-size="10" text-anchor="end" stroke="#231f20" stroke-width="0.22">40</text>
<line x1="48" y1="880.5" x2="53" y2="880.5" stroke="#231f20" stroke-width="1" />
<text x="45.8" y="883.5" font-size="10" text-anchor="end" stroke="#231f20" stroke-width="0.22">60</text>
<line x1="48" y1="859.5" x2="53" y2="859.5" stroke="#231f20" stroke-width="1" />
<text x="45.8" y="862.5" font-size="10" text-anchor="end" stroke="#231f20" stroke-width="0.22">80</text>
<line x1="48" y1="838.5" x2="53" y2="838.5" stroke="#231f20" stroke-width="1" />
<text x="45.8" y="841.5" font-size="10" text-anchor="end" stroke="#231f20" stroke-width="0.22">100</text>
<line x1="52.5" y1="943.5" x2="86" y2="943.5" stroke="#231f20" stroke-width="1" />
<line x1="86.5" y1="939" x2="86.5" y2="947" stroke="#231f20" stroke-width="1" />
<line x1="53.5" y1="943" x2="53.5" y2="947.5" stroke="#231f20" stroke-width="1" />
<line x1="64.5" y1="943" x2="64.5" y2="947.5" stroke="#231f20" stroke-width="1" />
<line x1="74.5" y1="943" x2="74.5" y2="947.5" stroke="#231f20" stroke-width="1" />
<line x1="97.5" y1="939" x2="97.5" y2="947" stroke="#231f20" stroke-width="1" />
<line x1="97" y1="943.5" x2="225.6" y2="943.5" stroke="#231f20" stroke-width="1" />
<line x1="108.5" y1="943" x2="108.5" y2="947.5" stroke="#231f20" stroke-width="1" />
<text x="108.4" y="959.2" font-size="10" text-anchor="middle" stroke="#231f20" stroke-width="0.22">16</text>
<line x1="131.5" y1="943" x2="131.5" y2="947.5" stroke="#231f20" stroke-width="1" />
<text x="131.8" y="959.2" font-size="10" text-anchor="middle" stroke="#231f20" stroke-width="0.22">18</text>
<line x1="155.5" y1="943" x2="155.5" y2="947.5" stroke="#231f20" stroke-width="1" />
<text x="155.2" y="959.2" font-size="10" text-anchor="middle" stroke="#231f20" stroke-width="0.22">20</text>
<line x1="178.5" y1="943" x2="178.5" y2="947.5" stroke="#231f20" stroke-width="1" />
<text x="178.6" y="959.2" font-size="10" text-anchor="middle" stroke="#231f20" stroke-width="0.22">22</text>
<line x1="202.5" y1="943" x2="202.5" y2="947.5" stroke="#231f20" stroke-width="1" />
<text x="202" y="959.2" font-size="10" text-anchor="middle" stroke="#231f20" stroke-width="0.22">24</text>
<line x1="225.5" y1="943" x2="225.5" y2="947.5" stroke="#231f20" stroke-width="1" />
<text x="225.4" y="959.2" font-size="10" text-anchor="middle" stroke="#231f20" stroke-width="0.22">26</text>
<text x="53" y="959.2" font-size="10" text-anchor="middle" stroke="#231f20" stroke-width="0.22">0</text>
<text x="64" y="959.2" font-size="10" text-anchor="middle" stroke="#231f20" stroke-width="0.22">5</text>
<text x="80.3" y="959.2" font-size="10" text-anchor="middle" stroke="#231f20" stroke-width="0.22">1015</text>
<text x="132" y="973" font-size="10.2" text-anchor="middle" stroke="#231f20" stroke-width="0.22">Time (month)</text>
<text x="24.8" y="890" font-size="10.2" text-anchor="middle" transform="rotate(-90 24.8 890)" stroke="#231f20" stroke-width="0.22">Percent survival</text>
<path d="M155.2 838 L213.7 838" fill="none" stroke="#e8141b" stroke-width="1.5" />
<path d="M53 838 L155.2 838 L155.2 860.47 L166.9 860.47 L166.9 875.49 L178.6 875.49 L178.6 883.04 L213.7 883.04" fill="none" stroke="#111" stroke-width="1.5" />
<text x="69" y="898.6" font-size="10.2" stroke="#231f20" stroke-width="0.22">P = 0.019</text>
<line x1="68" y1="909.6" x2="84" y2="909.6" stroke="#111" stroke-width="1.5" />
<text x="93" y="913.4" font-size="10.2" stroke="#231f20" stroke-width="0.22">WT (17)</text>
<line x1="68" y1="924.2" x2="84" y2="924.2" stroke="#e8141b" stroke-width="1.5" />
<text x="93" y="928" font-size="10.2" stroke="#231f20" stroke-width="0.22">KO (13)</text>
<text x="250.8" y="827" font-size="14" font-weight="bold">l</text>
<line x1="288.5" y1="828" x2="288.5" y2="943.1" stroke="#231f20" stroke-width="1" />
<line x1="283.4" y1="942.5" x2="288.4" y2="942.5" stroke="#231f20" stroke-width="1" />
<text x="281.8" y="946.1" font-size="10" text-anchor="end" stroke="#231f20" stroke-width="0.22">0</text>
<line x1="283.4" y1="921.5" x2="288.4" y2="921.5" stroke="#231f20" stroke-width="1" />
<text x="281.8" y="925.18" font-size="10" text-anchor="end" stroke="#231f20" stroke-width="0.22">20</text>
<line x1="283.4" y1="900.5" x2="288.4" y2="900.5" stroke="#231f20" stroke-width="1" />
<text x="281.8" y="904.26" font-size="10" text-anchor="end" stroke="#231f20" stroke-width="0.22">40</text>
<line x1="283.4" y1="879.5" x2="288.4" y2="879.5" stroke="#231f20" stroke-width="1" />
<text x="281.8" y="883.34" font-size="10" text-anchor="end" stroke="#231f20" stroke-width="0.22">60</text>
<line x1="283.4" y1="858.5" x2="288.4" y2="858.5" stroke="#231f20" stroke-width="1" />
<text x="281.8" y="862.42" font-size="10" text-anchor="end" stroke="#231f20" stroke-width="0.22">80</text>
<line x1="283.4" y1="838.5" x2="288.4" y2="838.5" stroke="#231f20" stroke-width="1" />
<text x="281.8" y="841.5" font-size="10" text-anchor="end" stroke="#231f20" stroke-width="0.22">100</text>
<line x1="287.9" y1="942.5" x2="321.6" y2="942.5" stroke="#231f20" stroke-width="1" />
<line x1="321.5" y1="938.6" x2="321.5" y2="946.6" stroke="#231f20" stroke-width="1" />
<line x1="288.5" y1="942.6" x2="288.5" y2="947.1" stroke="#231f20" stroke-width="1" />
<line x1="299.5" y1="942.6" x2="299.5" y2="947.1" stroke="#231f20" stroke-width="1" />
<line x1="310.5" y1="942.6" x2="310.5" y2="947.1" stroke="#231f20" stroke-width="1" />
<line x1="332.5" y1="938.6" x2="332.5" y2="946.6" stroke="#231f20" stroke-width="1" />
<line x1="332.4" y1="942.5" x2="461" y2="942.5" stroke="#231f20" stroke-width="1" />
<line x1="364.5" y1="942.6" x2="364.5" y2="947.1" stroke="#231f20" stroke-width="1" />
<text x="364.5" y="959.2" font-size="10" text-anchor="middle" stroke="#231f20" stroke-width="0.22">20</text>
<line x1="396.5" y1="942.6" x2="396.5" y2="947.1" stroke="#231f20" stroke-width="1" />
<text x="396.6" y="959.2" font-size="10" text-anchor="middle" stroke="#231f20" stroke-width="0.22">25</text>
<line x1="428.5" y1="942.6" x2="428.5" y2="947.1" stroke="#231f20" stroke-width="1" />
<text x="428.7" y="959.2" font-size="10" text-anchor="middle" stroke="#231f20" stroke-width="0.22">30</text>
<line x1="460.5" y1="942.6" x2="460.5" y2="947.1" stroke="#231f20" stroke-width="1" />
<text x="460.8" y="959.2" font-size="10" text-anchor="middle" stroke="#231f20" stroke-width="0.22">35</text>
<text x="288.4" y="959.2" font-size="10" text-anchor="middle" stroke="#231f20" stroke-width="0.22">0</text>
<text x="299.4" y="959.2" font-size="10" text-anchor="middle" stroke="#231f20" stroke-width="0.22">5</text>
<text x="321.5" y="959.2" font-size="10" text-anchor="middle" stroke="#231f20" stroke-width="0.22">101515</text>
<text x="373.5" y="973" font-size="10.2" text-anchor="middle" stroke="#231f20" stroke-width="0.22">Time (month)</text>
<text x="262.5" y="888" font-size="10.2" text-anchor="middle" transform="rotate(-90 262.5 888)" stroke="#231f20" stroke-width="0.22">Percent survival</text>
<path d="M288.4 838 L322.4 838" fill="none" stroke="#3a1010" stroke-width="1.5" />
<path d="M330.6 838 L364.5 838" fill="none" stroke="#3a1010" stroke-width="1.5" />
<path d="M364.5 838 L422.28 838 L422.28 864.15 L435.12 864.15 L435.12 890.3 L441.54 890.3 L441.54 916.45 L454.38 916.45 L454.38 942.6" fill="none" stroke="#e8141b" stroke-width="1.5" />
<path d="M364.5 838 L364.5 858.92 L370.92 858.92 L370.92 879.84 L409.44 879.84 L409.44 900.76 L428.7 900.76 L428.7 921.68 L441.54 921.68 L441.54 942.6" fill="none" stroke="#111" stroke-width="1.5" />
<line x1="303" y1="910" x2="318.4" y2="910" stroke="#111" stroke-width="1.5" />
<text x="326" y="914" font-size="10.2" stroke="#231f20" stroke-width="0.22">WT (5)</text>
<line x1="303" y1="925.6" x2="318.4" y2="925.6" stroke="#e8141b" stroke-width="1.5" />
<text x="326" y="929.6" font-size="10.2" stroke="#231f20" stroke-width="0.22">KO (4)</text>
</svg>
</body></html>
